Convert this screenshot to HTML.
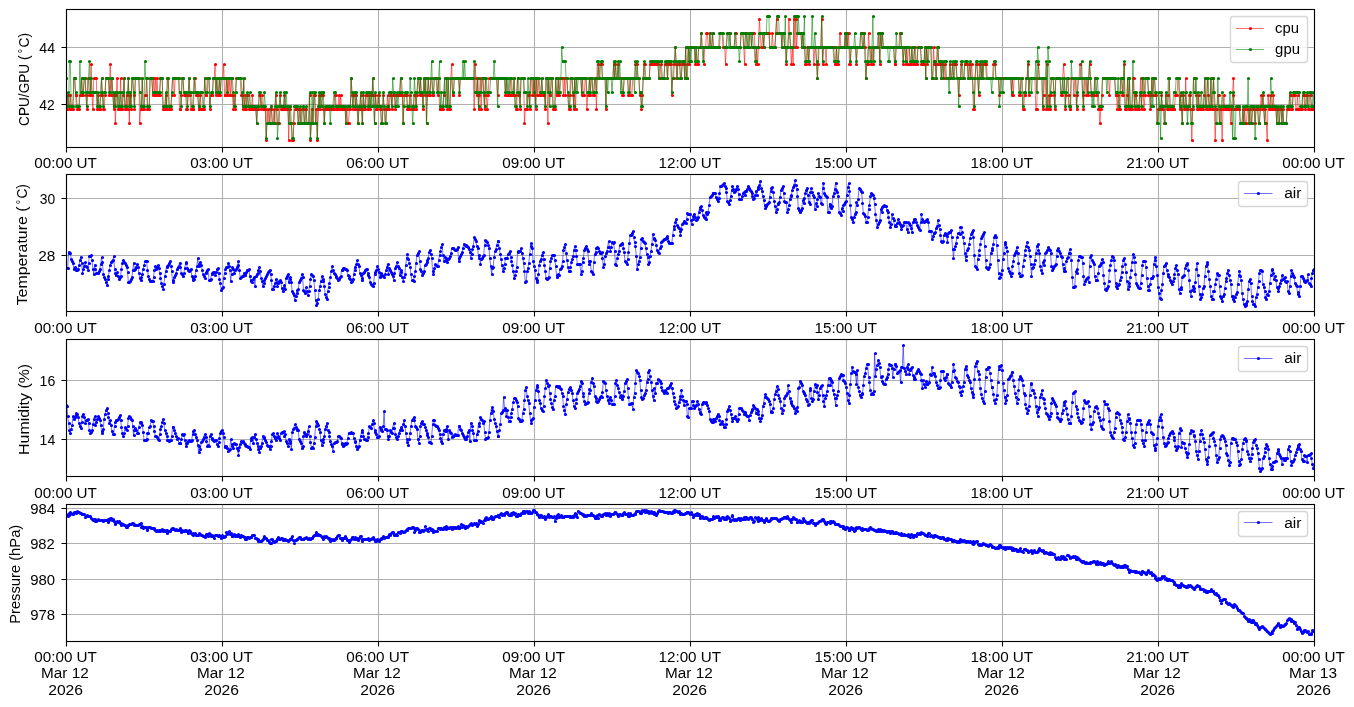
<!DOCTYPE html>
<html lang="en"><head><meta charset="utf-8"><title>Environment log 2026-03-12</title>
<style>html,body{margin:0;padding:0;background:#fff}body{width:1354px;height:707px;overflow:hidden}svg{display:block}text{font-family:"Liberation Sans",sans-serif;font-size:14.75px;fill:#000}</style></head><body>
<svg width="1354" height="707" viewBox="0 0 1354 707">
<rect width="1354" height="707" fill="#fff"/>
<defs>
<clipPath id="c0"><rect x="66" y="9.45" width="1248" height="138.1"/></clipPath>
<clipPath id="c1"><rect x="66" y="174.45" width="1248" height="137.1"/></clipPath>
<clipPath id="c2"><rect x="66" y="339.45" width="1248" height="137.1"/></clipPath>
<clipPath id="c3"><rect x="66" y="504.45" width="1248" height="137.1"/></clipPath>
</defs>
<g id="panel0">
<path d="M66.5 9.5V147.5M222.5 9.5V147.5M378.5 9.5V147.5M534.5 9.5V147.5M690.5 9.5V147.5M846.5 9.5V147.5M1002.5 9.5V147.5M1158.5 9.5V147.5M1314.5 9.5V147.5M66.5 47.5H1314.5M66.5 104.5H1314.5" stroke="#b0b0b0" stroke-width="1.11" fill="none"/>
<g clip-path="url(#c0)">
<path d="M66 78.1l.9 31.2l.8-14.2l.9 0l.9 14.2l.8-14.2l.9 14.2l.9 0l.8 0l.9-31.2l.9 0l.8 17l.9 0l.9 14.2l.8 0l.9 0l.9-14.2l.8 0l.9-17l.9 17l.8 0l.9-17l.9 0l.8 17l.9 14.2l.9-31.2l.8 0l.9 17l.9 0l.8-31.2l.9 31.2l.9 14.2l.8-31.2l.9 0l.9 0l.8 0l.9 31.2l.9-14.2l.8 14.2l.9 0l.9-14.2l.8-17l.9 17l.9 14.2l.8 0l.9-14.2l.9-17l.8 0l.9 0l.9 0l.8 17l.9-31.2l.9 31.2l.8-17l.9 17l.9 14.2l.8-14.2l.9 28.4l.9-28.4l.8-17l.9 31.2l.9 0l.8 0l.9-31.2l.9 31.2l.8 0l.9-14.2l.9-17l.8 31.2l.9 0l.9-14.2l.8 14.2l.9-31.2l.9 45.4l.8-28.4l.9 14.2l.9-31.2l.8 0l.9 17l.9 14.2l.8-31.2l.9 0l.9 0l.8 0l.9 0l.9 45.4l.8-14.2l.9 0l.9-31.2l.8 31.2l.9 0l.9-14.2l.8 0l.9-17l.9 31.2l.8 0l.9 0l.9-31.2l.8 0l.9 0l.9 17l.8-17l.9 17l.9-17l.8 17l.9-17l.9 17l.8 0l.9 0l.9-17l.8 0l.9 0l.9 31.2l.8 0l.9 0l.9-14.2l.8 14.2l.9-31.2l.9 0l.8 31.2l.9 0l.9 0l.8-14.2l.9-17l.9 0l.8 17l.9-17l.9 0l.8 0l.9 0l.9 0l.8 31.2l.9 0l.9-14.2l.8-17l.9 0l.9 17l.8 0l.9 0l.9 14.2l.8 0l.9-14.2l.9-17l.8 17l.9 14.2l.9 0l.8 0l.9 0l.9-31.2l.8 0l.9 17l.9 0l.8 0l.9 14.2l.9 0l.8-14.2l.9 14.2l.9 0l.8 0l.9 0l.9-31.2l.8 17l.9 0l.9-17l.8 0l.9 0l.9 31.2l.8-14.2l.9 0l.9 0l.8-17l.9 0l.9-14.2l.8 31.2l.9-17l.9 17l.8 0l.9-17l.9 17l.8-17l.9 0l.9 0l.8-14.2l.9 31.2l.9 0l.8-17l.9 17l.9-17l.8 17l.9-17l.9 17l.8-17l.9 17l.9 14.2l.8-14.2l.9 14.2l.9-31.2l.8 0l.9 0l.9 0l.8 0l.9 0l.9 17l.8 0l.9 14.2l.9-31.2l.8 31.2l.9-14.2l.9 14.2l.8-14.2l.9 0l.9 14.2l.8 0l.9 0l.9 0l.8-14.2l.9 14.2l.9 0l.8 0l.9 0l.9 14.2l.8-14.2l.9 0l.9-14.2l.8 0l.9 14.2l.9-14.2l.8 14.2l.9 0l.9 0l.8 0l.9 31.2l.9-31.2l.8 14.2l.9-14.2l.9 14.2l.8-14.2l.9 0l.9 14.2l.8 0l.9-14.2l.9 14.2l.8-28.4l.9 14.2l.9 14.2l.8 0l.9 0l.9-28.4l.8 14.2l.9 0l.9 0l.8 0l.9-14.2l.9 14.2l.8 0l.9 0l.9 0l.8 31.2l.9-31.2l.9 14.2l.8 0l.9 17l.9 0l.8-17l.9-14.2l.9 0l.8 0l.9 0l.9 14.2l.8-14.2l.9 0l.9 14.2l.8-14.2l.9 0l.9 0l.8 14.2l.9-14.2l.9 0l.8 14.2l.9 0l.9 0l.8-28.4l.9 45.4l.9-17l.8-14.2l.9 14.2l.9-28.4l.8 0l.9 28.4l.9-14.2l.8 31.2l.9-31.2l.9-14.2l.8 14.2l.9-14.2l.9 0l.8 0l.9 14.2l.9 14.2l.8-14.2l.9 0l.9 0l.8 0l.9 0l.9 0l.8 0l.9 0l.9 0l.8 0l.9 0l.9-14.2l.8 0l.9 14.2l.9 0l.8 0l.9-14.2l.9 14.2l.8-14.2l.9 14.2l.9 0l.8 0l.9 0l.9 0l.8 14.2l.9-14.2l.9 14.2l.8 0l.9-14.2l.9 0l.8-31.2l.9 17l.9 14.2l.8-14.2l.9 0l.9 14.2l.8-14.2l.9 14.2l.9 14.2l.8-14.2l.9 0l.9-14.2l.8 14.2l.9 14.2l.9-28.4l.8 14.2l.9 0l.9-14.2l.8 0l.9 14.2l.9 0l.8-14.2l.9 14.2l.9-14.2l.8 0l.9-17l.9 17l.8 28.4l.9-28.4l.9 14.2l.8 0l.9-14.2l.9 0l.8 14.2l.9 0l.9 14.2l.8 0l.9-28.4l.9 14.2l.8 0l.9 14.2l.9-14.2l.8-14.2l.9 14.2l.9 0l.8-14.2l.9 0l.9 14.2l.8-14.2l.9 0l.9 0l.8 14.2l.9-14.2l.9 0l.8 0l.9 0l.9 0l.8-17l.9 17l.9 0l.8 28.4l.9-28.4l.9 0l.8 0l.9 0l.9 14.2l.8 0l.9 0l.9-14.2l.8 14.2l.9 0l.9 0l.8 0l.9-14.2l.9 0l.8 14.2l.9-14.2l.9-17l.8 0l.9 17l.9-17l.8 17l.9 0l.9 14.2l.8-31.2l.9 17l.9-17l.8 45.4l.9-28.4l.9-17l.8 17l.9 0l.9-17l.8 0l.9 17l.9 0l.8-17l.9 0l.9 0l.8 0l.9 17l.9-17l.8 31.2l.9 0l.9 0l.8 0l.9 0l.9-14.2l.8-17l.9 0l.9 0l.8 31.2l.9-31.2l.9 31.2l.8 0l.9-31.2l.9-14.2l.8 31.2l.9 0l.9-17l.8 0l.9 0l.9 0l.8 0l.9 0l.9 17l.8-17l.9 0l.9 0l.8 0l.9 0l.9 0l.8 0l.9 0l.9 0l.8 0l.9 0l.9 0l.8 0l.9 0l.9 0l.8 0l.9 31.2l.9-45.4l.8 14.2l.9 17l.9-17l.8 31.2l.9-14.2l.9-17l.8 31.2l.9-31.2l.9 0l.8 17l.9 14.2l.9-31.2l.8 17l.9 14.2l.9-14.2l.8-17l.9 0l.9 0l.8 0l.9 0l.9 0l.8 0l.9 0l.9 0l.8 0l.9 17l.9-17l.8 0l.9 0l.9 0l.8 0l.9 0l.9 0l.8 0l.9 17l.9-17l.8 17l.9 0l.9 0l.8 0l.9-17l.9 17l.8 0l.9 0l.9-17l.8 17l.9 14.2l.9 0l.8-31.2l.9 17l.9 0l.8 14.2l.9-31.2l.9 0l.8 0l.9 0l.9 45.4l.8-14.2l.9 0l.9 0l.8-14.2l.9 0l.9 14.2l.8-31.2l.9 0l.9 17l.8-17l.9 17l.9-17l.8 31.2l.9-31.2l.9 17l.8-17l.9 17l.9 0l.8 0l.9-17l.9 17l.8 0l.9 0l.9 14.2l.8-31.2l.9 0l.9 45.4l.8-45.4l.9 17l.9 0l.8-17l.9 0l.9 31.2l.8 0l.9 0l.9-31.2l.8 17l.9 0l.9-17l.8 17l.9-17l.9 0l.8 0l.9 0l.9 17l.8-17l.9 17l.9-17l.8 0l.9 17l.9 14.2l.8 0l.9-14.2l.9-17l.8 0l.9 17l.9 14.2l.8-31.2l.9 31.2l.9-31.2l.8 0l.9 0l.9 0l.8 0l.9 0l.9 17l.8-17l.9 17l.9 0l.8-17l.9 0l.9 31.2l.8-14.2l.9 0l.9-17l.8 17l.9-17l.9 0l.8 17l.9 0l.9-17l.8 0l.9 31.2l.9-31.2l.8-14.2l.9 14.2l.9-14.2l.8 0l.9 0l.9 14.2l.8 0l.9 0l.9 0l.8 31.2l.9-31.2l.9 0l.8 0l.9 0l.9 0l.8 0l.9 0l.9 0l.8-14.2l.9 14.2l.9-14.2l.8 14.2l.9 0l.9-14.2l.8 14.2l.9 0l.9 0l.8 0l.9 17l.9 0l.8-17l.9 0l.9 0l.8 0l.9 0l.9 17l.8 0l.9-17l.9 17l.8 0l.9-17l.9 0l.8 0l.9-14.2l.9 0l.8 0l.9 14.2l.9 0l.8 17l.9 0l.9 14.2l.8-14.2l.9-17l.9-14.2l.8 0l.9 14.2l.9 0l.8 0l.9 0l.9 0l.8-14.2l.9 0l.9 0l.8 0l.9 0l.9 0l.8 0l.9 0l.9 0l.8 0l.9 14.2l.9 0l.8-14.2l.9 14.2l.9 0l.8 0l.9 0l.9-14.2l.8 0l.9 0l.9 14.2l.8-14.2l.9 0l.9 0l.8 0l.9 31.2l.9-17l.8 0l.9-14.2l.9-17l.8 17l.9 14.2l.9-14.2l.8 0l.9 0l.9 14.2l.8 0l.9-14.2l.9 0l.8 0l.9 14.2l.9-31.2l.8 31.2l.9-14.2l.9-17l.8 17l.9-17l.9 0l.8 0l.9 0l.9 0l.8 0l.9 17l.9-17l.8 17l.9 0l.9-17l.8 0l.9 0l.9-14.2l.8 14.2l.9 0l.9 17l.8-17l.9 0l.9-14.2l.8 0l.9 14.2l.9 0l.8-14.2l.9 14.2l.9 0l.8-14.2l.9 14.2l.9 0l.8 0l.9 0l.9 0l.8 0l.9 0l.9 0l.8-14.2l.9 0l.9 0l.8 14.2l.9 0l.9 0l.8 17l.9-17l.9-14.2l.8 0l.9 0l.9 0l.8 14.2l.9 0l.9 0l.8 0l.9 0l.9-14.2l.8 0l.9 14.2l.9 0l.8 0l.9 0l.9 0l.8-14.2l.9 0l.9 0l.8 14.2l.9 17l.9-31.2l.8 0l.9 14.2l.9 0l.8 0l.9-14.2l.9 0l.8 14.2l.9-14.2l.9 0l.8 0l.9 14.2l.9 17l.8-17l.9 17l.9-17l.8-28.4l.9 14.2l.9 14.2l.8 0l.9-14.2l.9 14.2l.8-14.2l.9 0l.9 0l.8 0l.9 0l.9 0l.8 14.2l.9 0l.9 0l.8-14.2l.9 14.2l.9 0l.8 0l.9-14.2l.9-14.2l.8 14.2l.9 0l.9 0l.8 0l.9 0l.9 14.2l.8-14.2l.9 0l.9 14.2l.8 0l.9 17l.9-17l.8 0l.9-28.4l.9 14.2l.8 14.2l.9 17l.9-17l.8 17l.9-45.4l.9 28.4l.8-28.4l.9 28.4l.9-14.2l.8 0l.9 0l.9 0l.8 0l.9 14.2l.9-14.2l.8 14.2l.9 0l.9 17l.8 0l.9-17l.9 0l.8 17l.9-17l.9 0l.8 0l.9 0l.9 0l.8 17l.9-17l.9 0l.8 17l.9 14.2l.9-14.2l.8-17l.9 0l.9 0l.8-28.4l.9 45.4l.9-17l.8 0l.9 0l.9 17l.8-17l.9 0l.9 0l.8 0l.9 0l.9 0l.8 0l.9 0l.9 0l.8 17l.9 0l.9-17l.8 17l.9 0l.9-17l.8-14.2l.9 14.2l.9 0l.8 0l.9 0l.9 0l.8-14.2l.9 14.2l.9-14.2l.8 14.2l.9-14.2l.9 31.2l.8 0l.9-17l.9 0l.8 0l.9 0l.9 0l.8 0l.9 17l.9-17l.8 0l.9 0l.9 0l.8-14.2l.9 0l.9 14.2l.8 0l.9-14.2l.9 14.2l.8 31.2l.9-14.2l.9 0l.8-31.2l.9 14.2l.9 0l.8 17l.9-17l.9 17l.8-17l.9 0l.9 0l.8 0l.9 0l.9 0l.8-14.2l.9 31.2l.9-31.2l.8 14.2l.9-14.2l.9 14.2l.8 0l.9 0l.9 0l.8 0l.9 0l.9 0l.8 0l.9 0l.9 0l.8 0l.9 0l.9 0l.8 17l.9 0l.9-17l.8 0l.9 0l.9 0l.8-14.2l.9 0l.9 14.2l.8 0l.9 17l.9-17l.8 0l.9 17l.9-17l.8 17l.9-17l.9 0l.8 17l.9 0l.9-17l.8 17l.9 0l.9-17l.8 0l.9 17l.9 0l.8-17l.9 0l.9 0l.8 0l.9 17l.9 0l.8 0l.9 0l.9-17l.8 31.2l.9-31.2l.9 17l.8-17l.9 0l.9 0l.8 0l.9 31.2l.9 0l.8-31.2l.9 17l.9 0l.8 14.2l.9-14.2l.9-17l.8 17l.9 0l.9 0l.8 14.2l.9-14.2l.9 0l.8 14.2l.9-14.2l.9 14.2l.8 0l.9 0l.9 0l.8 0l.9-14.2l.9 14.2l.8 0l.9-14.2l.9 14.2l.8-14.2l.9 0l.9 0l.8 14.2l.9 0l.9 17l.8-17l.9 0l.9-14.2l.8 14.2l.9 0l.9 0l.8-14.2l.9 0l.9 0l.8 0l.9 14.2l.9-14.2l.8 0l.9 14.2l.9-14.2l.8 14.2l.9 31.2l.9 0l.8-31.2l.9-14.2l.9 0l.8 14.2l.9 17l.9-31.2l.8 0l.9 14.2l.9-14.2l.8 14.2l.9-14.2l.9 0l.8 0l.9 0l.9 14.2l.8 0l.9 0l.9 0l.8 0l.9 0l.9 0l.8-14.2l.9 0l.9 0l.8 14.2l.9 0l.9 0l.8 0l.9 17l.9-17l.8 0l.9 0l.9 0l.8 0l.9 0l.9 0l.8 0l.9 0l.9 0l.8 0l.9 0l.9 0l.8 17l.9-17l.9 17l.8-17l.9 0l.9 0l.8 0l.9 0l.9 0l.8 17l.9 0l.9-17l.8 0l.9 31.2l.9 0l.8-14.2l.9 0l.9-17l.8 0l.9-14.2l.9 31.2l.8-17l.9 0l.9 0l.8 0l.9 0l.9 0l.8 0l.9 31.2l.9 0l.8-31.2l.9-14.2l.9 14.2l.8 0l.9 0l.9 0l.8 31.2l.9-14.2l.9-17l.8 0l.9 31.2l.9-45.4l.8 45.4l.9-14.2l.9 14.2l.8-14.2l.9-17l.9 0l.8 0l.9 17l.9 14.2l.8-31.2l.9 0l.9 0l.8 0l.9 0l.9 0l.8 17l.9 0l.9-17l.8-14.2l.9 14.2l.9 31.2l.8-14.2l.9-17l.9 0l.8 17l.9 14.2l.9 0l.8-31.2l.9 0l.9 0l.8 17l.9-17l.9 0l.8 31.2l.9-14.2l.9-17l.8 0l.9-14.2l.9 14.2l.8 0l.9 17l.9 14.2l.8-31.2l.9 0l.9 17l.8-17l.9 17l.9-17l.8-14.2l.9 14.2l.9 17l.8 0l.9 0l.9 0l.8-17l.9 0l.9 17l.8 0l.9 14.2l.9 0l.8 14.2l.9-14.2l.9-14.2l.8-17l.9 0l.9 0l.8 0l.9 0l.9 0l.8 0l.9 0l.9 17l.8-17l.9 0l.9 0l.8 0l.9 0l.9 0l.8 17l.9 0l.9 14.2l.8-14.2l.9 14.2l.9 0l.8-31.2l.9 0l.9 17l.8 0l.9-31.2l.9 45.4l.8 0l.9-14.2l.9-17l.8 31.2l.9-31.2l.9 31.2l.8 0l.9 0l.9-31.2l.8 0l.9 31.2l.9-14.2l.8 0l.9 14.2l.9 0l.8 0l.9-14.2l.9-17l.8 31.2l.9-31.2l.9 17l.8 14.2l.9-14.2l.9-17l.8 0l.9 0l.9 17l.8 0l.9 14.2l.9-14.2l.8-17l.9 17l.9-17l.8 0l.9 17l.9 0l.8 28.4l.9-14.2l.9 0l.8 0l.9 0l.9-14.2l.8 14.2l.9 0l.9 14.2l.8 0l.9-28.4l.9 14.2l.8 0l.9-14.2l.9-17l.8 31.2l.9 0l.9 0l.8 0l.9 0l.9 0l.8-14.2l.9 0l.9 0l.8-17l.9 0l.9 31.2l.8-14.2l.9 14.2l.9 14.2l.8-28.4l.9 14.2l.9 0l.8-31.2l.9 31.2l.9 0l.8 0l.9-14.2l.9 0l.8 14.2l.9 31.2l.9-31.2l.8-31.2l.9 0l.9 0l.8 17l.9 14.2l.9 0l.8-14.2l.9 14.2l.9 0l.8 0l.9 0l.9 0l.8-14.2l.9-17l.9 31.2l.8 0l.9-31.2l.9 17l.8 14.2l.9 0l.9-31.2l.8 31.2l.9 0l.9-31.2l.8 31.2l.9 31.2l.9-31.2l.8 0l.9-14.2l.9 0l.8 28.4l.9-14.2l.9 0l.8 31.2l.9-31.2l.9-14.2l.8 14.2l.9 0l.9 0l.8 0l.9 0l.9 0l.8 0l.9 14.2l.9-14.2l.8-14.2l.9-17l.9 31.2l.8 0l.9 0l.9 0l.8 0l.9 0l.9 0l.8 14.2l.9 0l.9 0l.8-14.2l.9 14.2l.9-14.2l.8 14.2l.9 0l.9-14.2l.8 0l.9 14.2l.9-14.2l.8 14.2l.9 0l.9-14.2l.8 0l.9 0l.9 14.2l.8-14.2l.9 0l.9 0l.8 14.2l.9 0l.9-14.2l.8-14.2l.9 14.2l.9-14.2l.8 14.2l.9 14.2l.9-14.2l.8 14.2l.9 17l.9-45.4l.8 14.2l.9 0l.9-14.2l.8 14.2l.9 0l.9-14.2l.8 14.2l.9 0l.9 0l.8 14.2l.9-14.2l.9 0l.8 14.2l.9-14.2l.9 0l.8 14.2l.9-14.2l.9 14.2l.8 0l.9 0l.9 0l.8-14.2l.9 0l.9 0l.8-14.2l.9 0l.9 14.2l.8 0l.9-14.2l.9 0l.8 0l.9 14.2l.9 0l.8-14.2l.9 14.2l.9 0l.8 0l.9 0l.9 0l.8-14.2l.9 0l.9 0l.8 14.2l.9-14.2l.9 0l.8 14.2l.9 0l.9-14.2l.8 0l.9 14.2l.9 0l.8 0l.9 0" fill="none" stroke="#f00" stroke-width=".56" stroke-linejoin="round"/>
<path d="M66.5 78.5h0m3 31h0m4 0h0m3-14h0m4 0h0m3 0h0m4 14h0m3-14h0m4-17h0m3 31h0m4-14h0m3 14h0m4-31h0m3 17h0m4 0h0m3 14h0m3 0h0m4 0h0m3-31h0m4 0h0m3 0h0m4 0h0m3 0h0m4 17h0m3 14h0m4-14h0m3 0h0m4 0h0m3 14h0m4 0h0m3 0h0m3-31h0m4 0h0m3 31h0m4-14h0m3 14h0m4 0h0m3-31h0m4 17h0m3 14h0m4-31h0m3 0h0m4 17h0m3-31h0m4 31h0m3-17h0m3 17h0m4 0h0m3 0h0m4-17h0m3 0h0m4 31h0m3 0h0m4 0h0m3 0h0m4 14h0m3-28h0m4 14h0m3 0h0m4 0h0m3 0h0m3 14h0m4-14h0m3-14h0m4 14h0m3 14h0m4-14h0m3 14h0m4-14h0m3 0h0m4 14h0m3-14h0m4 14h0m3-28h0m4 0h0m3 14h0m3 0h0m4 0h0m3 0h0m4 0h0m3 0h0m4 0h0m3 0h0m4-14h0m3 14h0m4-14h0m3 14h0m4 0h0m3-14h0m4 28h0m3-28h0m3 28h0m4-14h0m3 0h0m4 0h0m3 0h0m4-14h0m3 0h0m4 0h0m3 14h0m4 0h0m3 0h0m4-14h0m3 14h0m4 14h0m3-28h0m3 0h0m4-17h0m3 31h0m4-14h0m3 14h0m4-31h0m3 0h0m4 0h0m3 0h0m4 0h0m3 0h0m4 0h0m3-14h0m4 45h0m3-31h0m3 0h0m4 0h0m3 0h0m4 0h0m3 0h0m4 0h0m3 0h0m4 17h0m3 0h0m4 14h0m3 0h0m4-31h0m3 31h0m4-31h0m3 17h0m3 0h0m4 0h0m3 0h0m4 28h0m3-45h0m4 31h0m3-31h0m4 0h0m3 17h0m4 14h0m3-31h0m4 31h0m3-31h0m4 0h0m3 0h0m3 0h0m4 17h0m3 14h0m4-45h0m3 14h0m4 0h0m3 0h0m4-14h0m3 14h0m4 0h0m3 0h0m4 0h0m3 17h0m4-17h0m3 0h0m3 31h0m4-45h0m3 14h0m4-14h0m3 0h0m4 14h0m3 0h0m4-14h0m3 0h0m4 14h0m3-14h0m4 0h0m3 0h0m4 14h0m3-31h0m3 0h0m4 17h0m3-17h0m4 17h0m3-31h0m4 14h0m3 0h0m4 0h0m3-14h0m4 14h0m3-14h0m4 14h0m3-14h0m4 14h0m3-14h0m3 0h0m4 14h0m3-14h0m4 31h0m3-45h0m4 14h0m3 0h0m4 14h0m3 0h0m4-28h0m3 14h0m4 0h0m3 14h0m4 0h0m3-28h0m3 14h0m4 0h0m3 14h0m4 0h0m3 0h0m4 0h0m3 17h0m4-45h0m3 28h0m4 0h0m3 0h0m4 17h0m3-17h0m4 0h0m3 0h0m3 17h0m4-17h0m3 17h0m4-17h0m3 0h0m4 17h0m3-17h0m4 0h0m3 0h0m4-14h0m3 14h0m4 0h0m3 0h0m4 17h0m3-17h0m3 0h0m4 0h0m3 0h0m4 0h0m3 0h0m4 0h0m3 17h0m4 14h0m3-31h0m4 31h0m3 0h0m4-14h0m3 0h0m4 14h0m3-14h0m3 14h0m4 0h0m3 0h0m4 0h0m3-14h0m4 14h0m3 31h0m4-31h0m3 0h0m4-14h0m3 14h0m4 0h0m3-14h0m4 14h0m3 0h0m3 0h0m4 0h0m3 0h0m4 0h0m3 17h0m4 14h0m3-31h0m4 0h0m3 0h0m4 31h0m3-31h0m4 17h0m3-31h0m4 31h0m3 0h0m3-17h0m4 17h0m3-17h0m4 0h0m3 0h0m4 0h0m3 0h0m4 0h0m3 0h0m4 0h0m3 17h0m4-17h0m3 31h0m4-31h0m3 0h0m3 17h0m4-17h0m3 17h0m4 14h0m3-14h0m4 0h0m3 14h0m4-31h0m3 31h0m4-31h0m3 31h0m4-31h0m3 17h0m4-17h0m3 31h0m3-14h0m4 28h0m3-28h0m4 14h0m3-14h0m4-17h0m3 45h0m4-45h0m3 17h0m4 14h0m3-14h0m4 14h0m3 0h0m4 0h0m3 0h0m3-31h0m4 31h0m3 0h0m4-14h0m3 14h0m4 14h0m3-14h0m4 0h0m3 14h0m4-14h0m3 0h0m4 14h0m3 0h0m4 0h0m3-14h0m3 0h0m4 0h0m3 0h0m4 0h0m3 14h0m4-14h0m3 14h0m4-28h0m3 0h0m4 14h0m3 0h0m4-14h0m3 0h0m4 0h0m3 14h0" fill="none" stroke="#f00" stroke-width="3.24" stroke-linecap="round"/>
<path d="M67.5 109.5h0m3-14h0m4-17h0m3 31h0m4-14h0m3-17h0m4 0h0m3-14h0m4 14h0m3 17h0m4-17h0m3 17h0m3-17h0m4 0h0m3 45h0m4-14h0m3 0h0m4 0h0m3 14h0m4-45h0m3 0h0m4 45h0m3-14h0m4-31h0m3 0h0m4 0h0m3 0h0m3 0h0m4 31h0m3-31h0m4 31h0m3-14h0m4-17h0m3 17h0m4 0h0m3 0h0m4 14h0m3-31h0m4 31h0m3 0h0m4-14h0m3-17h0m3 17h0m4 0h0m3-17h0m4 0h0m3 0h0m4 0h0m3 31h0m4-31h0m3 0h0m4 0h0m3 17h0m4 14h0m3 0h0m4 0h0m3 0h0m3 0h0m4 14h0m3-14h0m4 14h0m3 0h0m4-14h0m3 0h0m4 31h0m3 0h0m4-31h0m3 0h0m4 0h0m3 0h0m4-14h0m3 28h0m3-14h0m4 0h0m3 0h0m4 0h0m3 0h0m4 0h0m3 0h0m4-14h0m3 14h0m4 14h0m3-45h0m4 17h0m3 28h0m4-14h0m3 0h0m3 0h0m4-14h0m3 0h0m4 0h0m3 28h0m4 0h0m3-14h0m4-14h0m3 0h0m4 0h0m3 28h0m4-28h0m3 0h0m4 14h0m3-14h0m3-17h0m4 0h0m3 17h0m4-17h0m3 0h0m4 17h0m3 14h0m4-31h0m3 0h0m4-14h0m3 14h0m4 0h0m3 0h0m4 0h0m3 0h0m3 0h0m4 0h0m3 17h0m4-17h0m3 17h0m4-17h0m3 0h0m4 0h0m3 0h0m4 0h0m3 17h0m4-17h0m3 0h0m4 0h0m3 0h0m3 45h0m4-28h0m3-17h0m4 0h0m3 0h0m4 0h0m3 31h0m4-31h0m3 0h0m4 0h0m3 17h0m4-17h0m3 0h0m4 31h0m3-14h0m3-17h0m4 0h0m3 17h0m4 14h0m3-14h0m4 0h0m3-17h0m4-14h0m3 14h0m4 0h0m3 0h0m4 0h0m3-14h0m4 14h0m3 0h0m3 17h0m4 0h0m3-31h0m4 14h0m3 17h0m4-17h0m3 0h0m4-14h0m3 0h0m4 14h0m3 0h0m4-14h0m3 0h0m4 14h0m3 0h0m3 0h0m4-14h0m3 0h0m4-17h0m3 0h0m4 17h0m3-31h0m4 14h0m3 0h0m4 0h0m3 0h0m4 0h0m3-14h0m4 31h0m3-31h0m3 14h0m4-14h0m3 14h0m4-14h0m3 0h0m4 0h0m3 0h0m4 14h0m3-14h0m4 14h0m3-14h0m4 14h0m3 0h0m4-14h0m3 0h0m3 14h0m4 0h0m3 17h0m4-17h0m3-14h0m4 14h0m3 17h0m4 0h0m3-17h0m4 0h0m3 0h0m4 17h0m3 0h0m4-17h0m3 0h0m3 0h0m4-14h0m3 14h0m4-14h0m3 31h0m4-17h0m3 0h0m4-14h0m3 0h0m4 31h0m3 0h0m4-17h0m3 0h0m4 0h0m3 0h0m3 0h0m4 0h0m3 17h0m4-17h0m3 0h0m4 17h0m3-17h0m4 17h0m3 0h0m4-17h0m3 17h0m4-17h0m3 0h0m4 0h0m3 17h0m3 0h0m4 14h0m3 0h0m4 0h0m3-14h0m4 14h0m3-14h0m4 0h0m3 14h0m4-14h0m3 14h0m4 17h0m3-31h0m4 0h0m3 14h0m3 0h0m4 0h0m3 17h0m4-17h0m3 0h0m4 0h0m3 17h0m4-17h0m3 17h0m4 14h0m3-31h0m4 0h0m3 0h0m4 0h0m3 0h0m3 0h0m4 31h0m3-31h0m4 31h0m3-31h0m4 17h0m3 14h0m4-14h0m3-17h0m4 0h0m3 0h0m4 17h0m3 0h0m4-31h0m3 31h0m3 0h0m4 28h0m3-45h0m4 0h0m3 0h0m4 0h0m3 31h0m4-31h0m3-14h0m4 14h0m3 31h0m4 0h0m3 0h0m4 0h0m3-14h0m3 0h0m4-17h0m3 17h0m4 14h0m3 0h0m4-14h0m3-17h0m4 31h0m3-14h0m4 14h0m3-14h0m4 14h0m3-14h0m4-17h0m3 31h0m3 0h0m4-14h0m3-17h0m4 0h0m3 31h0m4-14h0m3 14h0m4 0h0m3 0h0m4 0h0m3 0h0m4 0h0m3 14h0m4 0h0m3 0h0m3-14h0m4 0h0m3 14h0m4-28h0m3 28h0m4-14h0m3-14h0m4 28h0m3-14h0m4 14h0m3-14h0m4-14h0m3 0h0m4 0h0m3 14h0m3-14h0m4 14h0m3 0h0" fill="none" stroke="#f00" stroke-width="3.24" stroke-linecap="round"/>
<path d="M68.5 95.5h0m3 14h0m4-31h0m3 31h0m4-31h0m3 0h0m4 0h0m3 17h0m3-17h0m4 31h0m3-14h0m4-17h0m3 17h0m4 0h0m3 0h0m4 14h0m3-14h0m4 0h0m3 0h0m4 0h0m3-17h0m4 31h0m3 0h0m3 0h0m4-31h0m3 17h0m4 0h0m3-17h0m4 31h0m3-31h0m4 17h0m3-17h0m4 0h0m3 0h0m4 17h0m3-17h0m4 31h0m3-14h0m3 14h0m4 0h0m3-14h0m4 14h0m3-31h0m4 0h0m3 17h0m4-31h0m3 31h0m4 0h0m3 0h0m4-17h0m3 17h0m4 14h0m3-14h0m3 14h0m4 0h0m3 0h0m4-14h0m3 14h0m4 0h0m3 14h0m4-28h0m3 28h0m4-14h0m3 0h0m4 0h0m3 31h0m4-31h0m3 0h0m3 0h0m4 14h0m3 17h0m4-45h0m3 45h0m4-45h0m3 28h0m4-14h0m3 0h0m4-14h0m3 14h0m4 0h0m3 0h0m4 14h0m3-28h0m3 14h0m4 0h0m3 14h0m4-28h0m3 0h0m4-17h0m3 31h0m4 0h0m3-14h0m4 14h0m3-14h0m4 0h0m3 0h0m4-17h0m3 17h0m3 14h0m4 0h0m3-14h0m4-17h0m3 17h0m4 0h0m3-17h0m4 0h0m3 0h0m4 0h0m3 31h0m4-31h0m3 31h0m4-14h0m3-17h0m3 17h0m4-17h0m3 0h0m4 0h0m3 0h0m4 17h0m3-17h0m4 17h0m3 14h0m4-31h0m3 0h0m4 17h0m3-17h0m4 0h0m3 17h0m3 0h0m4 0h0m3 0h0m4-17h0m3 31h0m4-14h0m3 0h0m4 14h0m3-14h0m4 0h0m3-17h0m4 17h0m3 14h0m4-14h0m3-17h0m3 17h0m4-17h0m3 17h0m4 14h0m3-31h0m4 0h0m3 17h0m4 0h0m3-17h0m4 0h0m3-14h0m4 0h0m3 14h0m4 0h0m3 0h0m3-14h0m4 14h0m3 17h0m4-17h0m3 17h0m4-17h0m3-14h0m4 31h0m3-17h0m4 0h0m3-14h0m4 0h0m3 0h0m4 0h0m3 14h0m3 0h0m4-14h0m3 0h0m4 0h0m3 14h0m4 0h0m3-31h0m4 0h0m3 17h0m4-17h0m3 0h0m4 0h0m3 0h0m4-14h0m3 14h0m3 0h0m4 0h0m3 0h0m4-14h0m3 14h0m4 0h0m3 0h0m4 0h0m3 0h0m4-14h0m3 0h0m4 31h0m3-17h0m4-14h0m3 0h0m3 14h0m4 0h0m3-14h0m4 14h0m3 0h0m4-28h0m3 28h0m4-28h0m3 14h0m4 0h0m3 31h0m4-17h0m3 0h0m4 17h0m3-17h0m3 0h0m4 0h0m3 0h0m4 0h0m3 17h0m4-17h0m3 0h0m4 0h0m3 0h0m4 0h0m3 0h0m4-14h0m3 14h0m4-14h0m3 14h0m3 0h0m4-14h0m3 0h0m4 14h0m3 0h0m4 0h0m3 0h0m4-14h0m3 31h0m4-17h0m3 17h0m4 0h0m3 0h0m4-17h0m3 17h0m3 0h0m4-17h0m3 17h0m4-17h0m3 31h0m4-14h0m3 14h0m4 0h0m3-14h0m4 31h0m3-17h0m4-14h0m3 0h0m4 14h0m3-14h0m3 0h0m4 14h0m3-14h0m4 14h0m3-14h0m4 14h0m3 0h0m4 0h0m3 0h0m4 0h0m3 0h0m4 0h0m3 0h0m4 17h0m3-31h0m3 14h0m4 0h0m3-14h0m4 14h0m3 0h0m4 17h0m3-17h0m4 0h0m3 0h0m4 0h0m3 17h0m4 14h0m3-31h0m4 31h0m3-45h0m3 45h0m4-31h0m3 0h0m4 17h0m3 0h0m4 14h0m3-31h0m4 0h0m3 0h0m4 0h0m3 17h0m4-17h0m3 31h0m4 0h0m3 0h0m3-14h0m4 14h0m3-31h0m4 0h0m3 17h0m4 0h0m3 0h0m4 14h0m3 0h0m4 0h0m3 0h0m4 0h0m3-14h0m4 0h0m3 14h0m3 0h0m4 0h0m3-31h0m4 31h0m3 0h0m4-31h0m3 17h0m4 14h0m3 31h0m4-45h0m3 45h0m4-31h0m3 0h0m4-14h0m3 14h0m3 0h0m4 0h0m3 14h0m4-14h0m3 0h0m4 0h0m3 0h0m4 0h0m3 31h0m4-45h0m3 14h0m4 0h0m3 0h0m4 14h0m3-14h0m3 0h0m4-14h0m3 14h0m4 0h0m3 0h0m4 0h0m3 0h0" fill="none" stroke="#f00" stroke-width="3.24" stroke-linecap="round"/>
<path d="M69.5 95.5h0m3 14h0m4-14h0m3 14h0m3-14h0m4 0h0m3 0h0m4 14h0m3-31h0m4 31h0m3 0h0m4-31h0m3-14h0m4 45h0m3-31h0m4 0h0m3 0h0m4 31h0m3 0h0m3 0h0m4-31h0m3 31h0m4-14h0m3 14h0m4-31h0m3 0h0m4 17h0m3-17h0m4 17h0m3 14h0m4-31h0m3 0h0m4 31h0m3-31h0m3 31h0m4-14h0m3 14h0m4-14h0m3 0h0m4 14h0m3-31h0m4 17h0m3-17h0m4 17h0m3-17h0m4 17h0m3-17h0m4 0h0m3 31h0m3-31h0m4 17h0m3 0h0m4 14h0m3-14h0m4 14h0m3-14h0m4 14h0m3 31h0m4-17h0m3 0h0m4-14h0m3-14h0m4 14h0m3 0h0m3 14h0m4 0h0m3-14h0m4 14h0m3 0h0m4 0h0m3 0h0m4-28h0m3 14h0m4-14h0m3 14h0m4 0h0m3 0h0m4-14h0m3 0h0m3 14h0m4 14h0m3-14h0m4 0h0m3-14h0m4 14h0m3-14h0m4 0h0m3 14h0m4-14h0m3 14h0m4 0h0m3 0h0m4-14h0m3 0h0m3 0h0m4 0h0m3 0h0m4 0h0m3 14h0m4 0h0m3-14h0m4-17h0m3 17h0m4-17h0m3 17h0m4 0h0m3-17h0m4 31h0m3 0h0m3-31h0m4 31h0m3-14h0m4-17h0m3 0h0m4 0h0m3 0h0m4 0h0m3 31h0m4-31h0m3 31h0m4 0h0m3-14h0m4-17h0m3 0h0m3 0h0m4 0h0m3 17h0m4 0h0m3 0h0m4 14h0m3-14h0m4-17h0m3 31h0m4 0h0m3-31h0m4 0h0m3 17h0m4 0h0m3-17h0m3 17h0m4 14h0m3-14h0m4-17h0m3 0h0m4 17h0m3-17h0m4 0h0m3 0h0m4 17h0m3-17h0m4 17h0m3-17h0m4 0h0m3 0h0m3 0h0m4 31h0m3-31h0m4 0h0m3 0h0m4 0h0m3 17h0m4-17h0m3 0h0m4 0h0m3-14h0m4 31h0m3-31h0m4 14h0m3-14h0m3 0h0m4 0h0m3 14h0m4-14h0m3 0h0m4 31h0m3-48h0m4 17h0m3 0h0m4-17h0m3 17h0m4-17h0m3 0h0m4 0h0m3 0h0m3-14h0m4 0h0m3 14h0m4 0h0m3-14h0m4 14h0m3-14h0m4 14h0m3 0h0m4 0h0m3-14h0m4 31h0m3-17h0m4 0h0m3 0h0m3 0h0m4 0h0m3-14h0m4 0h0m3 0h0m4 0h0m3 0h0m4 0h0m3 31h0m4-31h0m3 31h0m4-17h0m3-14h0m4 14h0m3 0h0m3 0h0m4 17h0m3 14h0m4-31h0m3 0h0m4 0h0m3 0h0m4 17h0m3 0h0m4-17h0m3-14h0m4 0h0m3 14h0m4 0h0m3 0h0m3 0h0m4 31h0m3-31h0m4 17h0m3-17h0m4 17h0m3-17h0m4 0h0m3 0h0m4 0h0m3 0h0m4-14h0m3 14h0m4 17h0m3 0h0m3-17h0m4 0h0m3 17h0m4-17h0m3 0h0m4 31h0m3-14h0m4 0h0m3 0h0m4 14h0m3 0h0m4-14h0m3 0h0m4 14h0m3 0h0m3-14h0m4 0h0m3 45h0m4-45h0m3 0h0m4 0h0m3 14h0m4 0h0m3-14h0m4 14h0m3 0h0m4 0h0m3 0h0m4 17h0m3-17h0m3 0h0m4 0h0m3 17h0m4 0h0m3-17h0m4 31h0m3-31h0m4 31h0m3 0h0m4 0h0m3-31h0m4 0h0m3 0h0m4-14h0m3 14h0m3 31h0m4-14h0m3 0h0m4-17h0m3 0h0m4 17h0m3 0h0m4-17h0m3 31h0m4-14h0m3-17h0m4 0h0m3 0h0m4 17h0m3 14h0m3-14h0m4 14h0m3-31h0m4 0h0m3 17h0m4 0h0m3 0h0m4-17h0m3 31h0m4-31h0m3 45h0m4-14h0m3 14h0m4-14h0m3 0h0m3 0h0m4-31h0m3 31h0m4 0h0m3 0h0m4 31h0m3-62h0m4 17h0m3 14h0m4 0h0m3 0h0m4 0h0m3 0h0m4 14h0m3-14h0m3 0h0m4 0h0m3-31h0m4 31h0m3 14h0m4 0h0m3-14h0m4 14h0m3-14h0m4 0h0m3-14h0m4 28h0m3-28h0m4 14h0m3 0h0m3 0h0m4 14h0m3 0h0m4-14h0m3 0h0m4 0h0m3 0h0m4-14h0m3 0h0m4 0h0m3 14h0" fill="none" stroke="#f00" stroke-width="3.24" stroke-linecap="round"/>
<path d="M66 78.1l.9 28.3l.8-14.1l.9 14.1l.9-45.3l.8 0l.9 45.3l.9 0l.8 0l.9-28.3l.9 0l.8 14.2l.9 14.1l.9 0l.8 0l.9 0l.9-45.3l.8 31.2l.9-14.2l.9 14.2l.8 0l.9-14.2l.9 0l.8 14.2l.9 14.1l.9-14.1l.8-14.2l.9-17l.9 31.2l.8-14.2l.9 14.2l.9 0l.8 0l.9 0l.9 0l.8 0l.9 14.1l.9-14.1l.8 14.1l.9 0l.9-14.1l.8-14.2l.9 14.2l.9 14.1l.8-14.1l.9 0l.9-14.2l.8 0l.9 0l.9 0l.8 14.2l.9 0l.9-14.2l.8 0l.9 14.2l.9 14.1l.8-14.1l.9 14.1l.9-14.1l.8 0l.9 14.1l.9-14.1l.8 14.1l.9-14.1l.9 14.1l.8 0l.9-14.1l.9-14.2l.8 28.3l.9 0l.9-14.1l.8 0l.9-14.2l.9 28.3l.8-14.1l.9 14.1l.9-28.3l.8 0l.9 14.2l.9 14.1l.8-28.3l.9 0l.9 0l.8 0l.9 0l.9 14.2l.8 14.1l.9 0l.9-28.3l.8 28.3l.9 0l.9-45.3l.8 17l.9 0l.9 28.3l.8 0l.9 0l.9-28.3l.8 0l.9 0l.9 14.2l.8 0l.9 0l.9 0l.8 0l.9 0l.9 0l.8 0l.9 0l.9-14.2l.8 0l.9 0l.9 28.3l.8 0l.9 0l.9-14.1l.8 14.1l.9-28.3l.9 0l.8 28.3l.9 0l.9 0l.8-14.1l.9-14.2l.9 0l.8 0l.9 0l.9 0l.8 0l.9 0l.9 0l.8 14.2l.9 0l.9 14.1l.8-28.3l.9 0l.9 14.2l.8 0l.9 0l.9 0l.8 14.1l.9-14.1l.9-14.2l.8 14.2l.9 0l.9 14.1l.8 0l.9-14.1l.9-14.2l.8 14.2l.9 0l.9 0l.8 0l.9 14.1l.9 0l.8-14.1l.9 0l.9 0l.8 14.1l.9 0l.9-28.3l.8 14.2l.9 0l.9 0l.8-14.2l.9 0l.9 28.3l.8-14.1l.9 0l.9 0l.8-14.2l.9 0l.9 0l.8 14.2l.9-14.2l.9 14.2l.8 0l.9-14.2l.9 14.2l.8-14.2l.9 0l.9 0l.8 0l.9 0l.9 0l.8 0l.9 14.2l.9-14.2l.8 0l.9 0l.9 0l.8 0l.9 0l.9 14.2l.8 14.1l.9 0l.9-14.1l.8-14.2l.9 0l.9 0l.8 0l.9 0l.9 0l.8 14.2l.9 14.1l.9-28.3l.8 28.3l.9 0l.9 0l.8-14.1l.9 14.1l.9 0l.8-14.1l.9 14.1l.9 0l.8 0l.9 0l.9 0l.8 0l.9 0l.9 17.1l.8-17.1l.9 0l.9-14.1l.8 0l.9 14.1l.9 0l.8 0l.9 0l.9-14.1l.8 14.1l.9 31.2l.9-14.1l.8 0l.9 0l.9 0l.8-17.1l.9 0l.9 17.1l.8 0l.9 0l.9-17.1l.8-14.1l.9 14.1l.9 31.2l.8-14.1l.9-17.1l.9-14.1l.8 14.1l.9 0l.9 0l.8 0l.9-14.1l.9 14.1l.8-14.1l.9 14.1l.9 0l.8 17.1l.9-17.1l.9 0l.8 17.1l.9 14.1l.9 0l.8-31.2l.9 0l.9 0l.8 0l.9 0l.9 17.1l.8 0l.9-17.1l.9 17.1l.8 0l.9-17.1l.9 0l.8 17.1l.9 0l.9-17.1l.8 17.1l.9 0l.9 0l.8-31.2l.9 45.3l.9-14.1l.8-31.2l.9 31.2l.9-31.2l.8 0l.9 31.2l.9 0l.8 14.1l.9-31.2l.9-14.1l.8 14.1l.9-14.1l.9 14.1l.8-14.1l.9 0l.9 31.2l.8-17.1l.9 0l.9 0l.8 0l.9 0l.9 0l.8 17.1l.9-17.1l.9 0l.8 0l.9-14.1l.9 0l.8 14.1l.9 0l.9 0l.8 0l.9 0l.9 0l.8 0l.9 0l.9 0l.8 0l.9 0l.9 0l.8 17.1l.9-17.1l.9 0l.8 0l.9 0l.9 0l.8-28.3l.9 14.2l.9 14.1l.8-14.1l.9 0l.9 14.1l.8-14.1l.9 14.1l.9 17.1l.8-17.1l.9 0l.9-14.1l.8 14.1l.9 17.1l.9-31.2l.8 14.1l.9 0l.9-14.1l.8 0l.9 0l.9 14.1l.8-14.1l.9 14.1l.9-14.1l.8 14.1l.9-28.3l.9 28.3l.8 17.1l.9-31.2l.9 14.1l.8 0l.9 0l.9-14.1l.8 14.1l.9 0l.9 17.1l.8 0l.9-31.2l.9 14.1l.8 17.1l.9 0l.9-17.1l.8 0l.9 0l.9-14.1l.8 0l.9 0l.9 14.1l.8-28.3l.9 14.2l.9 0l.8 14.1l.9 0l.9-14.1l.8 14.1l.9-14.1l.9 0l.8-14.2l.9 0l.9 14.2l.8 31.2l.9-17.1l.9-14.1l.8 0l.9 0l.9 14.1l.8 0l.9 0l.9-28.3l.8 14.2l.9 14.1l.9 17.1l.8-17.1l.9-28.3l.9 14.2l.8 14.1l.9-14.1l.9-14.2l.8 0l.9 14.2l.9-14.2l.8 14.2l.9 0l.9 14.1l.8-28.3l.9 14.2l.9-14.2l.8 45.4l.9-31.2l.9-14.2l.8 14.2l.9 0l.9-14.2l.8-17l.9 31.2l.9 0l.8-14.2l.9 0l.9 0l.8 14.2l.9 0l.9-14.2l.8-17l.9 45.3l.9-14.1l.8 14.1l.9 0l.9-14.1l.8-14.2l.9 28.3l.9-28.3l.8 28.3l.9-28.3l.9 28.3l.8 0l.9-28.3l.9 0l.8 14.2l.9 0l.9-14.2l.8 0l.9 0l.9 0l.8 0l.9 0l.9 14.2l.8-14.2l.9 0l.9 0l.8-17l.9 17l.9-17l.8 17l.9 0l.9 0l.8 0l.9 0l.9 0l.8 0l.9 0l.9 0l.8 0l.9-17l.9 31.2l.8 0l.9 0l.9-14.2l.8 28.3l.9-14.1l.9 0l.8 0l.9-14.2l.9 0l.8 14.2l.9 14.1l.9-28.3l.8 0l.9 14.2l.9 0l.8 0l.9 0l.9-14.2l.8 0l.9 0l.9 0l.8-17l.9 17l.9 0l.8 0l.9 28.3l.9-28.3l.8 0l.9 0l.9 0l.8 0l.9 0l.9 0l.8 0l.9 14.2l.9-14.2l.8 14.2l.9-14.2l.9 14.2l.8-14.2l.9 0l.9 0l.8 14.2l.9 0l.9-14.2l.8 28.3l.9 0l.9-14.1l.8-14.2l.9 0l.9 14.2l.8 14.1l.9-28.3l.9 0l.8 0l.9 0l.9 14.2l.8 0l.9 0l.9 14.1l.8-28.3l.9 14.2l.9 14.1l.8-28.3l.9 0l.9 0l.8 0l.9 14.2l.9-14.2l.8 28.3l.9-28.3l.9 0l.8 0l.9 0l.9 14.2l.8 0l.9-14.2l.9 14.2l.8 0l.9 0l.9 14.1l.8-28.3l.9 0l.9 14.2l.8-14.2l.9 28.3l.9-14.1l.8-14.2l.9 0l.9 28.3l.8 0l.9 0l.9-28.3l.8 14.2l.9 0l.9-14.2l.8 14.2l.9 0l.9-14.2l.8-31.2l.9 14.2l.9 0l.8 0l.9 0l.9 17l.8 0l.9 14.2l.9 14.1l.8 0l.9-28.3l.9 0l.8 0l.9 14.2l.9 14.1l.8-28.3l.9 14.2l.9-14.2l.8 14.2l.9-14.2l.9 0l.8 0l.9 0l.9 14.2l.8-14.2l.9 0l.9 0l.8 0l.9 0l.9 14.2l.8 0l.9 0l.9-14.2l.8 14.2l.9-14.2l.9 0l.8 14.2l.9 0l.9-14.2l.8 0l.9 14.2l.9-31.2l.8 0l.9 17l.9 0l.8-17l.9 0l.9 17l.8 0l.9 0l.9 0l.8 28.3l.9-28.3l.9 14.2l.8-14.2l.9 0l.9 0l.8 0l.9 14.2l.9-14.2l.8-17l.9 17l.9-17l.8 17l.9 0l.9-17l.8 17l.9-17l.9 31.2l.8-14.2l.9 14.2l.9 0l.8-14.2l.9 0l.9 0l.8 0l.9 0l.9 14.2l.8 0l.9-14.2l.9 0l.8 0l.9 0l.9 0l.8 14.2l.9-31.2l.9 17l.8-17l.9 17l.9 0l.8 14.2l.9 0l.9 14.1l.8 0l.9-28.3l.9-17l.8 17l.9 0l.9 0l.8 0l.9 0l.9 0l.8-17l.9 0l.9 0l.8 0l.9 0l.9 0l.8 0l.9 0l.9 0l.8 0l.9 17l.9-17l.8 0l.9 0l.9 17l.8 0l.9 0l.9-17l.8 0l.9 0l.9 17l.8-17l.9 0l.9 0l.8 0l.9 31.2l.9-14.2l.8-17l.9 0l.9-14.2l.8 14.2l.9 17l.9-17l.8 0l.9 0l.9 17l.8 0l.9-17l.9 0l.8 0l.9 17l.9-31.2l.8 31.2l.9 0l.9-31.2l.8 14.2l.9-14.2l.9 14.2l.8-14.2l.9 0l.9 0l.8 0l.9 14.2l.9-14.2l.8 14.2l.9 0l.9-14.2l.8 0l.9 0l.9-14.2l.8 14.2l.9 14.2l.9-14.2l.8 0l.9 0l.9 0l.8 0l.9 0l.9 0l.8-14.2l.9 14.2l.9 0l.8-14.2l.9 14.2l.9 0l.8 0l.9 0l.9 0l.8 0l.9 0l.9-14.2l.8 0l.9 0l.9 0l.8 0l.9 14.2l.9 0l.8 0l.9 0l.9-14.2l.8 0l.9 14.2l.9-14.2l.8 14.2l.9 0l.9 0l.8 0l.9 0l.9-14.2l.8 14.2l.9 0l.9 0l.8 0l.9 14.2l.9-14.2l.8-14.2l.9 0l.9 0l.8 14.2l.9 0l.9-14.2l.8 0l.9 14.2l.9-14.2l.8 14.2l.9-14.2l.9 0l.8 14.2l.9-14.2l.9 14.2l.8 0l.9 14.2l.9 0l.8-14.2l.9 0l.9 0l.8-14.2l.9 0l.9 0l.8 0l.9 0l.9 14.2l.8-14.2l.9 0l.9 0l.8-17l.9 0l.9 0l.8 31.2l.9 0l.9 0l.8 0l.9 0l.9 0l.8 0l.9-14.2l.9-17l.8 0l.9 0l.9 17l.8 0l.9 0l.9 14.2l.8-14.2l.9 0l.9 14.2l.8-31.2l.9 45.4l.9-14.2l.8 0l.9-14.2l.9 0l.8 14.2l.9 0l.9 0l.8 0l.9-31.2l.9 0l.8 0l.9 0l.9 17l.8-17l.9 17l.9 0l.8 0l.9 14.2l.9-14.2l.8 14.2l.9-31.2l.9 45.4l.8 0l.9 0l.9-14.2l.8 14.2l.9-14.2l.9 0l.8 0l.9-31.2l.9 31.2l.8 0l.9-14.2l.9 14.2l.8 14.2l.9 17l.9-31.2l.8 0l.9 0l.9 0l.8-31.2l.9 45.4l.9-14.2l.8 0l.9 0l.9 0l.8 0l.9 0l.9 0l.8 0l.9 0l.9 0l.8 0l.9 0l.9 14.2l.8 0l.9 0l.9-14.2l.8 14.2l.9 0l.9-14.2l.8 0l.9 0l.9 0l.8 0l.9 0l.9 0l.8-14.2l.9 14.2l.9-14.2l.8 14.2l.9 0l.9 0l.8 14.2l.9-14.2l.9 0l.8 0l.9 0l.9-14.2l.8 14.2l.9 14.2l.9-14.2l.8 0l.9 0l.9 0l.8-14.2l.9 0l.9 14.2l.8 0l.9-14.2l.9 28.4l.8 17l.9-17l.9 0l.8-14.2l.9 0l.9 14.2l.8 0l.9-14.2l.9-31.2l.8 45.4l.9-14.2l.9 0l.8 0l.9 0l.9-14.2l.8 0l.9 28.4l.9-28.4l.8 14.2l.9-14.2l.9 14.2l.8 0l.9 0l.9 0l.8 0l.9 0l.9 14.2l.8 0l.9-14.2l.9 0l.8 0l.9 0l.9 0l.8 14.2l.9 0l.9-28.4l.8 14.2l.9 0l.9 0l.8 0l.9-14.2l.9 14.2l.8 0l.9 14.2l.9-14.2l.8 0l.9 14.2l.9-14.2l.8 0l.9 0l.9 0l.8 14.2l.9 0l.9-14.2l.8 14.2l.9 0l.9-14.2l.8 14.2l.9 0l.9 0l.8-14.2l.9 0l.9 0l.8 0l.9 14.2l.9 0l.8 0l.9 0l.9-14.2l.8 31.2l.9-31.2l.9 14.2l.8 0l.9-14.2l.9 0l.8 0l.9 31.2l.9 0l.8-17l.9 0l.9 0l.8 17l.9-31.2l.9 0l.8 14.2l.9 0l.9 0l.8 17l.9-17l.9 17l.8-17l.9 0l.9 0l.8 17l.9 0l.9 0l.8 14.2l.9-31.2l.9 17l.8 0l.9-17l.9 17l.8 0l.9-17l.9 0l.8 17l.9 0l.9 28.3l.8-28.3l.9 0l.9-17l.8 0l.9 17l.9 0l.8-17l.9 0l.9 0l.8 0l.9 17l.9 0l.8-17l.9 17l.9 0l.8 0l.9 14.2l.9 14.1l.8-28.3l.9-17l.9 0l.8 17l.9 14.2l.9-14.2l.8-17l.9 17l.9-17l.8 17l.9-17l.9 0l.8 0l.9 17l.9 0l.8 0l.9 0l.9 0l.8 0l.9 14.2l.9-14.2l.8 0l.9-17l.9 0l.8 17l.9 0l.9 0l.8 0l.9 28.3l.9-14.1l.8-14.2l.9 14.2l.9 0l.8-14.2l.9 0l.9 0l.8 0l.9 0l.9 0l.8 0l.9 0l.9 0l.8 14.2l.9-14.2l.9 0l.8 0l.9 0l.9 0l.8 0l.9 0l.9 0l.8 14.2l.9 0l.9-14.2l.8 0l.9 28.3l.9-14.1l.8 0l.9 0l.9-14.2l.8 0l.9-17l.9 31.2l.8-14.2l.9 0l.9 14.2l.8-14.2l.9 0l.9 0l.8 0l.9-17l.9 31.2l.8-45.4l.9 14.2l.9 17l.8 0l.9 0l.9 0l.8 28.3l.9-28.3l.9 0l.8 0l.9-17l.9 45.3l.8-59.5l.9 14.2l.9 45.3l.8-14.1l.9-14.2l.9 0l.8 0l.9 14.2l.9 14.1l.8-28.3l.9 0l.9 0l.8 0l.9 0l.9 0l.8 14.2l.9 0l.9-14.2l.8 14.2l.9-14.2l.9 28.3l.8-14.1l.9-14.2l.9 0l.8 28.3l.9 0l.9 0l.8-45.3l.9 17l.9 0l.8 0l.9 0l.9 0l.8 28.3l.9-14.1l.9-14.2l.8 0l.9 0l.9 0l.8-17l.9 31.2l.9 14.1l.8-28.3l.9 0l.9 0l.8 0l.9 14.2l.9-14.2l.8-17l.9 17l.9 14.2l.8 14.1l.9-14.1l.9 14.1l.8-28.3l.9 14.2l.9 0l.8-14.2l.9 14.2l.9 14.1l.8 0l.9 0l.9 0l.8-28.3l.9 0l.9 0l.8 0l.9 0l.9 14.2l.8-14.2l.9 0l.9 0l.8 0l.9 0l.9 0l.8 0l.9 0l.9 0l.8 14.2l.9 0l.9 0l.8-14.2l.9 28.3l.9-14.1l.8-14.2l.9 0l.9 14.2l.8-14.2l.9-17l.9 45.3l.8 0l.9 0l.9-28.3l.8 28.3l.9-28.3l.9 28.3l.8 0l.9 0l.9-45.3l.8 31.2l.9 14.1l.9-14.1l.8 0l.9 14.1l.9 0l.8 0l.9-14.1l.9 0l.8 14.1l.9-28.3l.9 0l.8 14.2l.9-14.2l.9 0l.8 0l.9 0l.9 14.2l.8 0l.9 0l.9 14.1l.8-28.3l.9 28.3l.9-28.3l.8 0l.9 14.2l.9 0l.8 31.2l.9 0l.9-31.2l.8 14.1l.9 31.2l.9-45.3l.8 14.1l.9 0l.9 0l.8 17.1l.9-31.2l.9 14.1l.8 0l.9-28.3l.9 0l.8 28.3l.9 0l.9 0l.8 0l.9-14.1l.9 0l.8 0l.9-14.2l.9 0l.8 0l.9 0l.9 28.3l.8-14.1l.9 14.1l.9 17.1l.8-31.2l.9 14.1l.9 0l.8-14.1l.9 14.1l.9 17.1l.8-17.1l.9 0l.9-14.1l.8 31.2l.9 0l.9-17.1l.8-28.3l.9 14.2l.9 0l.8-14.2l.9 28.3l.9-14.1l.8 14.1l.9 0l.9 0l.8-14.1l.9 14.1l.9 0l.8 0l.9-28.3l.9 28.3l.8 0l.9-28.3l.9 0l.8 28.3l.9 0l.9-28.3l.8 28.3l.9-14.1l.9-14.2l.8 14.2l.9 14.1l.9 17.1l.8 0l.9-45.4l.9 28.3l.8 17.1l.9 0l.9-17.1l.8-14.1l.9 14.1l.9 0l.8 0l.9 0l.9 0l.8 0l.9 0l.9 0l.8-14.1l.9 14.1l.9 0l.8 31.2l.9-45.3l.9 45.3l.8 0l.9-31.2l.9 0l.8 0l.9 0l.9 0l.8 17.1l.9 0l.9 0l.8-17.1l.9 17.1l.9-17.1l.8 0l.9 0l.9 0l.8-28.3l.9 45.4l.9-17.1l.8 0l.9 17.1l.9-17.1l.8 0l.9 0l.9 31.2l.8-31.2l.9 0l.9 0l.8 17.1l.9 0l.9-17.1l.8 0l.9 0l.9-14.1l.8 14.1l.9 17.1l.9-17.1l.8 0l.9 0l.9 0l.8 0l.9 0l.9-28.3l.8 14.2l.9 14.1l.9 0l.8 0l.9 0l.9 0l.8 17.1l.9-17.1l.9 17.1l.8 0l.9-17.1l.9 0l.8 17.1l.9-17.1l.9 17.1l.8 0l.9 0l.9 0l.8-17.1l.9 0l.9 0l.8-14.1l.9 14.1l.9 0l.8 0l.9-14.1l.9 0l.8 0l.9 0l.9 0l.8 0l.9 0l.9 0l.8 14.1l.9 0l.9 0l.8-14.1l.9 0l.9 14.1l.8 0l.9 0l.9-14.1l.8 14.1l.9-14.1l.9 0l.8 0l.9 14.1l.9 0l.8-14.1l.9 14.1" fill="none" stroke="#008000" stroke-width=".56" stroke-linejoin="round"/>
<path d="M66.5 78.5h0m3-17h0m4 45h0m3 0h0m4-45h0m3 31h0m4 14h0m3-14h0m4 0h0m3 14h0m4-14h0m3 0h0m4-14h0m3 0h0m4 14h0m3 14h0m3 0h0m4 0h0m3-28h0m4 0h0m3 0h0m4 0h0m3 0h0m4 0h0m3 28h0m4-14h0m3 0h0m4 0h0m3 14h0m4 0h0m3 0h0m3-28h0m4 0h0m3 14h0m4 0h0m3 14h0m4-14h0m3-14h0m4 14h0m3 0h0m4-14h0m3 0h0m4 14h0m3-14h0m4 14h0m3-14h0m3 0h0m4 0h0m3 0h0m4 14h0m3-14h0m4 28h0m3 0h0m4-14h0m3 14h0m4 17h0m3-31h0m4 14h0m3 17h0m4-17h0m3 17h0m3 15h0m4-32h0m3-14h0m4 14h0m3 17h0m4-17h0m3 17h0m4 0h0m3 0h0m4 0h0m3-31h0m4 31h0m3-31h0m4 0h0m3 14h0m3 0h0m4 0h0m3 0h0m4 0h0m3 0h0m4 0h0m3 0h0m4-14h0m3 14h0m4-14h0m3 14h0m4-14h0m3 0h0m4 31h0m3-17h0m3 17h0m4 0h0m3-17h0m4 0h0m3 0h0m4-14h0m3 0h0m4 0h0m3 14h0m4 17h0m3-17h0m4-14h0m3 14h0m4 17h0m3-31h0m3 0h0m4 0h0m3 14h0m4-14h0m3 14h0m4-28h0m3 0h0m4 0h0m3 0h0m4-17h0m3 17h0m4 0h0m3 14h0m4 14h0m3-28h0m3 0h0m4 14h0m3-14h0m4 0h0m3 0h0m4 0h0m3 0h0m4 0h0m3 14h0m4 0h0m3 14h0m4-28h0m3 28h0m4-28h0m3 14h0m3-14h0m4 14h0m3 0h0m4 0h0m3-14h0m4 28h0m3-28h0m4-31h0m3 14h0m4 45h0m3-28h0m4 14h0m3-14h0m4 0h0m3 0h0m3 0h0m4 14h0m3 0h0m4-14h0m3 0h0m4 0h0m3 0h0m4-17h0m3 17h0m4 14h0m3-14h0m4 0h0m3 0h0m4 14h0m3-14h0m3 28h0m4-28h0m3 0h0m4-17h0m3 0h0m4 17h0m3 0h0m4-17h0m3 0h0m4 17h0m3-17h0m4 0h0m3 0h0m4 17h0m3-31h0m3 0h0m4 14h0m3-14h0m4 0h0m3 0h0m4 0h0m3 0h0m4 0h0m3-14h0m4 14h0m3-14h0m4 14h0m3-14h0m4 14h0m3-14h0m3 0h0m4 14h0m3-14h0m4 28h0m3-28h0m4 0h0m3 0h0m4 14h0m3 0h0m4-31h0m3 17h0m4 0h0m3 14h0m4 0h0m3-31h0m3 17h0m4 0h0m3-17h0m4 31h0m3 0h0m4-14h0m3 14h0m4-31h0m3 31h0m4 0h0m3 0h0m4 14h0m3-14h0m4 0h0m3 0h0m3 0h0m4 0h0m3 14h0m4-14h0m3 0h0m4 14h0m3 0h0m4 0h0m3-14h0m4-14h0m3 14h0m4 0h0m3 0h0m4 14h0m3-14h0m3 0h0m4 0h0m3 0h0m4 0h0m3 14h0m4-14h0m3 14h0m4 17h0m3-31h0m4 31h0m3 0h0m4-17h0m3 17h0m4 0h0m3-17h0m3 17h0m4 0h0m3 0h0m4 0h0m3-17h0m4 17h0m3 28h0m4-28h0m3 0h0m4-17h0m3 17h0m4 14h0m3-31h0m4 17h0m3 14h0m3-14h0m4 0h0m3 0h0m4 0h0m3 14h0m4 14h0m3-28h0m4 0h0m3 0h0m4 14h0m3-14h0m4 0h0m3 28h0m4-14h0m3 0h0m3-14h0m4 14h0m3-14h0m4 0h0m3-17h0m4 17h0m3 0h0m4-17h0m3 17h0m4 0h0m3 28h0m4-14h0m3 14h0m4-28h0m3 0h0m3 0h0m4 0h0m3 14h0m4 0h0m3-14h0m4 28h0m3 0h0m4-14h0m3 14h0m4-14h0m3 0h0m4-14h0m3 28h0m4-28h0m3 45h0m3-31h0m4 31h0m3-45h0m4 28h0m3-14h0m4-14h0m3 45h0m4-31h0m3 14h0m4 0h0m3-28h0m4 28h0m3 0h0m4 0h0m3 0h0m3-28h0m4 45h0m3 0h0m4-17h0m3 0h0m4 0h0m3 32h0m4-32h0m3 17h0m4-17h0m3-28h0m4 45h0m3 15h0m4-15h0m3-17h0m3 0h0m4 0h0m3 0h0m4 0h0m3 17h0m4-17h0m3 17h0m4-31h0m3 0h0m4 0h0m3 14h0m4-14h0m3 0h0m4 0h0m3 14h0" fill="none" stroke="#008000" stroke-width="3.24" stroke-linecap="round"/>
<path d="M67.5 106.5h0m3-45h0m4 17h0m3 28h0m4-14h0m3-14h0m4 14h0m3-14h0m4 14h0m3 0h0m4-14h0m3 14h0m3-14h0m4 0h0m3 28h0m4-14h0m3 14h0m4 0h0m3 0h0m4-28h0m3 0h0m4 14h0m3 14h0m4-28h0m3 0h0m4 14h0m3 0h0m3-14h0m4 28h0m3-28h0m4 28h0m3-28h0m4 0h0m3 28h0m4-14h0m3 0h0m4 14h0m3-14h0m4 14h0m3-14h0m4 0h0m3-14h0m3 14h0m4 0h0m3-14h0m4 0h0m3 0h0m4 0h0m3 14h0m4-14h0m3 0h0m4 0h0m3 14h0m4 14h0m3 0h0m4 0h0m3 0h0m3-14h0m4 31h0m3-17h0m4 0h0m3 17h0m4-17h0m3 0h0m4 17h0m3 15h0m4-32h0m3 17h0m4-17h0m3 0h0m4-14h0m3 31h0m3 0h0m4-17h0m3-14h0m4 14h0m3 17h0m4-31h0m3 14h0m4 0h0m3 0h0m4 0h0m3-28h0m4 14h0m3 31h0m4-17h0m3 0h0m3 0h0m4 0h0m3-14h0m4 0h0m3 31h0m4 0h0m3-31h0m4-14h0m3 28h0m4-14h0m3 31h0m4-31h0m3-14h0m4 28h0m3-14h0m3-14h0m4 0h0m3 14h0m4-14h0m3 0h0m4 14h0m3 0h0m4-14h0m3 0h0m4 0h0m3 0h0m4 0h0m3 0h0m4 0h0m3 0h0m3 0h0m4 14h0m3 0h0m4-14h0m3 0h0m4 14h0m3-14h0m4 0h0m3 0h0m4 0h0m3 14h0m4-14h0m3 0h0m4 0h0m3 0h0m3 14h0m4-14h0m3 0h0m4 0h0m3 0h0m4 0h0m3 28h0m4-28h0m3 0h0m4 0h0m3 14h0m4-31h0m3 17h0m4 28h0m3-14h0m3-14h0m4 0h0m3 0h0m4 14h0m3 0h0m4 0h0m3-31h0m4 0h0m3 17h0m4 14h0m3-14h0m4 0h0m3-17h0m4 17h0m3 0h0m3 14h0m4-14h0m3-17h0m4 17h0m3 28h0m4-28h0m3 0h0m4-17h0m3 0h0m4 0h0m3 17h0m4-17h0m3 0h0m4 0h0m3 17h0m3 0h0m4-17h0m3 17h0m4-17h0m3-14h0m4 14h0m3-28h0m4 14h0m3 0h0m4 0h0m3 0h0m4 0h0m3-14h0m4 14h0m3 0h0m3 0h0m4 0h0m3 14h0m4-28h0m3 0h0m4 0h0m3 14h0m4 0h0m3-14h0m4 14h0m3-31h0m4 31h0m3 0h0m4-31h0m3 17h0m3 14h0m4 0h0m3 0h0m4-31h0m3 0h0m4 31h0m3 14h0m4 0h0m3-45h0m4 31h0m3 0h0m4 14h0m3-14h0m4 0h0m3 0h0m3 0h0m4 0h0m3 0h0m4-14h0m3 28h0m4-14h0m3 0h0m4-14h0m3 0h0m4 28h0m3 0h0m4-14h0m3-14h0m4 14h0m3 0h0m3 14h0m4-14h0m3 14h0m4-14h0m3 0h0m4 14h0m3-14h0m4 14h0m3 0h0m4-14h0m3 14h0m4-14h0m3 0h0m4 14h0m3-14h0m3 14h0m4 0h0m3 17h0m4 0h0m3 0h0m4 0h0m3-17h0m4 0h0m3 17h0m4 0h0m3 0h0m4 14h0m3-31h0m4 0h0m3 17h0m3 0h0m4 0h0m3 28h0m4-14h0m3-14h0m4 0h0m3 0h0m4 0h0m3 14h0m4 0h0m3-14h0m4 0h0m3 0h0m4-31h0m3 31h0m3 0h0m4-31h0m3 31h0m4 28h0m3-28h0m4 14h0m3 14h0m4 0h0m3-28h0m4 0h0m3 0h0m4 14h0m3-14h0m4-17h0m3 31h0m3 0h0m4 14h0m3-28h0m4 14h0m3-14h0m4 0h0m3 14h0m4-14h0m3-17h0m4 17h0m3 28h0m4 0h0m3 0h0m4 0h0m3-28h0m3 14h0m4-14h0m3 14h0m4 0h0m3 14h0m4-14h0m3-14h0m4 28h0m3-28h0m4 28h0m3-14h0m4 14h0m3-14h0m4-14h0m3 28h0m3 0h0m4 0h0m3-28h0m4 0h0m3 14h0m4-14h0m3 28h0m4 0h0m3 0h0m4 0h0m3 32h0m4-32h0m3 17h0m4-17h0m3 17h0m3-17h0m4 0h0m3 17h0m4-31h0m3 14h0m4 0h0m3 0h0m4 17h0m3-17h0m4 17h0m3-17h0m4 0h0m3-14h0m4 0h0m3 14h0m3 0h0m4 0h0m3 0h0" fill="none" stroke="#008000" stroke-width="3.24" stroke-linecap="round"/>
<path d="M68.5 92.5h0m3 14h0m4-28h0m3 28h0m4-28h0m3 0h0m4 0h0m3 14h0m3 0h0m4 14h0m3-14h0m4-14h0m3 14h0m4 0h0m3 0h0m4 14h0m3-14h0m4 0h0m3 0h0m4 0h0m3-14h0m4 28h0m3 0h0m3 0h0m4-28h0m3 14h0m4 0h0m3-14h0m4 28h0m3-28h0m4 14h0m3-14h0m4 0h0m3 0h0m4 14h0m3-14h0m4 28h0m3-14h0m3 14h0m4 0h0m3-14h0m4 14h0m3-28h0m4 0h0m3 14h0m4-14h0m3 14h0m4-14h0m3 28h0m4-28h0m3 0h0m4 28h0m3 0h0m3 0h0m4 0h0m3 0h0m4 0h0m3 0h0m4 17h0m3 0h0m4-31h0m3 14h0m4 0h0m3-14h0m4 14h0m3 32h0m4-32h0m3 0h0m3 0h0m4 17h0m3 15h0m4-46h0m3 46h0m4-46h0m3 31h0m4-17h0m3 0h0m4-14h0m3 14h0m4 0h0m3 0h0m4 0h0m3-14h0m3 14h0m4 0h0m3 17h0m4-31h0m3 0h0m4-14h0m3 28h0m4 0h0m3-14h0m4 14h0m3-14h0m4 0h0m3 0h0m4-14h0m3 28h0m3 0h0m4-14h0m3-14h0m4 0h0m3 14h0m4 0h0m3-14h0m4-17h0m3 17h0m4 0h0m3 28h0m4 0h0m3 0h0m4-14h0m3-14h0m3 14h0m4-31h0m3 17h0m4 0h0m3 0h0m4 14h0m3 0h0m4 0h0m3 0h0m4-14h0m3-17h0m4 45h0m3-28h0m4 0h0m3 0h0m3 0h0m4 28h0m3-28h0m4 0h0m3 14h0m4 0h0m3-14h0m4 28h0m3-28h0m4 14h0m3-14h0m4 28h0m3 0h0m4-14h0m3 0h0m3-31h0m4 17h0m3 0h0m4 28h0m3-14h0m4-14h0m3 0h0m4 14h0m3-14h0m4 0h0m3-17h0m4 0h0m3 17h0m4 0h0m3 14h0m3-31h0m4 17h0m3 14h0m4-14h0m3 14h0m4-14h0m3 0h0m4 14h0m3-14h0m4 0h0m3-17h0m4 0h0m3 0h0m4 0h0m3 17h0m3 0h0m4-17h0m3 0h0m4 0h0m3 17h0m4 0h0m3-31h0m4 0h0m3 14h0m4-14h0m3 0h0m4 0h0m3 0h0m4-14h0m3 14h0m3-14h0m4 0h0m3 14h0m4-14h0m3 14h0m4 0h0m3 0h0m4 0h0m3 0h0m4-14h0m3 14h0m4 0h0m3-14h0m4 0h0m3-17h0m3 31h0m4 0h0m3-31h0m4 31h0m3-31h0m4 17h0m3 14h0m4-31h0m3 17h0m4 0h0m3 28h0m4-14h0m3 0h0m4 14h0m3-14h0m3 0h0m4 0h0m3 0h0m4 14h0m3 0h0m4-14h0m3 0h0m4 0h0m3 0h0m4-14h0m3 14h0m4-14h0m3 28h0m4-14h0m3 0h0m3 0h0m4-14h0m3 0h0m4 14h0m3 14h0m4-14h0m3-14h0m4 14h0m3 14h0m4-14h0m3 14h0m4 0h0m3 0h0m4-14h0m3 14h0m3 0h0m4-14h0m3 14h0m4-14h0m3 31h0m4-17h0m3 17h0m4 0h0m3-17h0m4 45h0m3-45h0m4 0h0m3 17h0m4 0h0m3-17h0m3 17h0m4 0h0m3 0h0m4 0h0m3 0h0m4 0h0m3 14h0m4-14h0m3 0h0m4 0h0m3 0h0m4 0h0m3 0h0m4 14h0m3-31h0m3 31h0m4-14h0m3-17h0m4 17h0m3 0h0m4-17h0m3 17h0m4 0h0m3 0h0m4 0h0m3 14h0m4 14h0m3-28h0m4 28h0m3-28h0m3 28h0m4-28h0m3 0h0m4 28h0m3-28h0m4 28h0m3-28h0m4 0h0m3 0h0m4 0h0m3 0h0m4 0h0m3 28h0m4 0h0m3 0h0m3-14h0m4 14h0m3-28h0m4 0h0m3 14h0m4 14h0m3-14h0m4 14h0m3 0h0m4 0h0m3 0h0m4-14h0m3-14h0m4 14h0m3 14h0m3 17h0m4 0h0m3-31h0m4 0h0m3 0h0m4-14h0m3 0h0m4 28h0m3 0h0m4 0h0m3-14h0m4 14h0m3 0h0m4 32h0m3-32h0m3 0h0m4 0h0m3 0h0m4 0h0m3 0h0m4 0h0m3 0h0m4 0h0m3 0h0m4-28h0m3 28h0m4 0h0m3 0h0m4 17h0m3-17h0m3 0h0m4-14h0m3 0h0m4 14h0m3 0h0m4-14h0m3 14h0" fill="none" stroke="#008000" stroke-width="3.24" stroke-linecap="round"/>
<path d="M69.5 106.5h0m3 0h0m4-14h0m3 14h0m3-14h0m4 0h0m3-31h0m4 31h0m3 0h0m4 14h0m3 0h0m4-28h0m3 14h0m4 14h0m3-14h0m4 0h0m3-14h0m4 14h0m3 14h0m3 0h0m4-28h0m3 28h0m4-45h0m3 45h0m4-28h0m3 14h0m4 0h0m3-14h0m4 14h0m3 14h0m4-28h0m3 0h0m4 14h0m3-14h0m3 14h0m4 0h0m3 0h0m4 0h0m3 0h0m4 14h0m3-14h0m4 0h0m3-14h0m4 14h0m3-14h0m4 0h0m3 0h0m4 0h0m3 28h0m3-28h0m4 14h0m3 14h0m4 0h0m3 0h0m4 0h0m3-14h0m4 14h0m3 32h0m4-15h0m3 0h0m4-17h0m3-14h0m4 14h0m3 0h0m3 0h0m4 0h0m3 0h0m4 17h0m3 0h0m4 0h0m3 0h0m4-31h0m3 14h0m4 0h0m3 0h0m4 0h0m3 0h0m4 0h0m3 0h0m3 0h0m4 17h0m3-17h0m4 0h0m3-14h0m4 14h0m3-14h0m4 0h0m3 14h0m4 0h0m3 0h0m4 0h0m3 0h0m4 0h0m3-14h0m3 0h0m4 14h0m3-28h0m4 14h0m3 14h0m4 0h0m3-14h0m4-14h0m3 14h0m4-14h0m3 14h0m4 0h0m3-14h0m4-17h0m3 45h0m3-28h0m4 28h0m3-14h0m4-14h0m3 0h0m4 0h0m3 0h0m4 0h0m3-17h0m4 17h0m3 14h0m4 14h0m3-14h0m4-14h0m3 0h0m3 0h0m4 0h0m3 14h0m4 0h0m3 0h0m4 14h0m3-14h0m4-14h0m3 14h0m4 14h0m3-28h0m4 0h0m3 14h0m4 0h0m3-14h0m3 14h0m4 14h0m3-14h0m4-14h0m3-17h0m4 31h0m3-14h0m4 0h0m3 0h0m4 14h0m3-14h0m4 14h0m3-14h0m4 0h0m3 0h0m3 0h0m4 28h0m3-28h0m4 0h0m3 0h0m4-17h0m3 31h0m4-14h0m3 0h0m4 0h0m3-17h0m4 31h0m3-31h0m4 17h0m3-17h0m3 0h0m4 0h0m3 0h0m4 0h0m3 0h0m4 31h0m3-45h0m4 14h0m3 0h0m4-14h0m3 14h0m4-14h0m3 0h0m4 0h0m3 14h0m3-14h0m4-14h0m3 14h0m4 0h0m3-14h0m4 14h0m3-14h0m4 14h0m3 0h0m4 0h0m3-14h0m4 14h0m3-14h0m4 14h0m3 14h0m3-14h0m4-14h0m3 0h0m4-17h0m3 31h0m4-14h0m3 0h0m4 0h0m3 28h0m4-28h0m3 14h0m4-31h0m3 17h0m4 14h0m3 14h0m3-14h0m4 0h0m3 31h0m4-31h0m3 0h0m4 0h0m3 0h0m4 14h0m3 0h0m4-14h0m3-14h0m4 14h0m3 0h0m4 0h0m3 0h0m3 0h0m4 31h0m3-31h0m4-31h0m3 31h0m4 14h0m3-14h0m4 0h0m3 0h0m4 0h0m3 0h0m4-14h0m3 14h0m4 0h0m3 14h0m3-14h0m4 0h0m3 14h0m4-14h0m3 14h0m4 17h0m3-17h0m4 0h0m3 0h0m4 0h0m3 31h0m4-31h0m3 0h0m4 17h0m3 0h0m3-17h0m4 0h0m3 31h0m4-31h0m3 0h0m4 0h0m3 17h0m4 0h0m3-17h0m4 17h0m3 0h0m4 0h0m3 0h0m4 14h0m3-14h0m3 0h0m4 0h0m3 14h0m4 0h0m3-14h0m4-17h0m3 17h0m4 28h0m3-45h0m4 45h0m3-28h0m4 0h0m3 0h0m4 14h0m3-14h0m3 28h0m4-28h0m3 14h0m4-14h0m3 0h0m4 14h0m3 0h0m4-14h0m3 14h0m4 14h0m3-28h0m4 0h0m3 0h0m4 14h0m3 14h0m3-14h0m4 14h0m3-28h0m4-17h0m3 31h0m4 0h0m3-14h0m4 0h0m3 14h0m4-14h0m3 45h0m4 15h0m3-32h0m4 0h0m3 0h0m3-14h0m4-14h0m3 28h0m4 0h0m3 0h0m4 17h0m3-31h0m4 14h0m3 0h0m4 0h0m3 0h0m4-14h0m3 31h0m4 0h0m3-17h0m3 0h0m4-14h0m3 0h0m4 14h0m3 17h0m4 0h0m3-17h0m4 0h0m3 0h0m4 0h0m3 0h0m4 17h0m3-17h0m4-14h0m3 14h0m3 17h0m4 0h0m3 0h0m4-17h0m3 0h0m4-14h0m3 0h0m4 0h0m3 14h0m4-14h0m3 0h0" fill="none" stroke="#008000" stroke-width="3.24" stroke-linecap="round"/>
</g>
<path d="M66.5 147.5v5M222.5 147.5v5M378.5 147.5v5M534.5 147.5v5M690.5 147.5v5M846.5 147.5v5M1002.5 147.5v5M1158.5 147.5v5M1314.5 147.5v5M66.5 47.5h-5M66.5 104.5h-5" stroke="#000" stroke-width="1.11" fill="none"/>
<rect x="66.5" y="9.5" width="1248" height="138" fill="none" stroke="#000" stroke-width="1.11"/>
</g>
<g id="panel1">
<path d="M66.5 174.5V311.5M222.5 174.5V311.5M378.5 174.5V311.5M534.5 174.5V311.5M690.5 174.5V311.5M846.5 174.5V311.5M1002.5 174.5V311.5M1158.5 174.5V311.5M1314.5 174.5V311.5M66.5 198.5H1314.5M66.5 255.5H1314.5" stroke="#b0b0b0" stroke-width="1.11" fill="none"/>
<g clip-path="url(#c1)">
<path d="M66 268.2l.9 .2l.8-.3l.9-16.6l.9 1.2l.8 .6l.9 5.3l.9 2.6l.8 2.2l.9 5.9l.9-2.4l.8 2l.9 1.6l.9-1l.8-.8l.9-3.9l.9-4.4l.8-3.9l.9 6.9l.9 9.2l.8-3.3l.9-3.6l.9-3.3l.8 3.9l.9 .7l.9 2.5l.8-6.1l.9-7.1l.9-.4l.8-.6l.9 5.1l.9 8.3l.8 5.3l.9-9.5l.9 4.4l.8 3.9l.9 0l.9 .3l.8-1.9l.9-1.9l.9-5.3l.8-6.8l.9 4.4l.9 12.6l.8 2.5l.9 2.6l.9 2.7l.8 2.6l.9-5.3l.9-3.5l.8-5.3l.9-5l.9-3.9l.8-1.1l.9-.7l.9-3.5l.8 12.4l.9 4.1l.9 2.4l.8-3l.9 3.6l.9 3.5l.8-2.1l.9-1.4l.9-7.1l.8-5.9l.9-2.4l.9 1.7l.8 1.3l.9 1.7l.9 1.6l.8 5.5l.9 10.1l.9 0l.8-1.4l.9-1.6l.9-2l.8-6.8l.9-7.7l.9 7.1l.8-.6l.9-2.6l.9-2.7l.8 3.1l.9 5.8l.9 5.2l.8 1.6l.9-2.8l.9-2.7l.8-5.5l.9-3.4l.9-4.1l.8 0l.9 0l.9 8.7l.8 6.5l.9 2.3l.9 2.4l.8-.4l.9 .7l.9-.1l.8-4l.9-7.1l.9-4.2l.8 3.3l.9-2l.9-2.2l.8 3.2l.9 4.3l.9 5.9l.8 4l.9 3.3l.9 3l.8-4.8l.9-7.6l.9-5.4l.8-4.1l.9-1l.9-1.4l.8-1.4l.9-1.9l.9 4.5l.8 5.7l.9 10.9l.9-1.8l.8-3.2l.9-2.8l.9-1.9l.8-3.9l.9-1.6l.9-1.1l.8-3.2l.9 4.3l.9 5.5l.8 1.5l.9 1.7l.9-2.4l.8-5.4l.9-4.6l.9-1l.8 5.7l.9 2l.9 .9l.8-1.2l.9-1.1l.9 7.1l.8 2.3l.9 2.4l.9-1.2l.8-3.5l.9-5.3l.9-4.2l.8-8.3l.9 8.3l.9-2.5l.8-2.2l.9 3.5l.9 4.4l.8 4.3l.9 1.8l.9 1.9l.8-4.4l.9-1.5l.9-1.4l.8-1.5l.9 11l.9 .5l.8-.9l.9-5.3l.9-1.4l.8-.5l.9-.5l.9 3.6l.8-2.9l.9-3l.9-1l.8 5.1l.9 5.9l.9 4.1l.8 6.2l.9-1.1l.9-1.5l.8-9.5l.9-4.7l.9-3.5l.8-1.8l.9-.6l.9-3.5l.8 3l.9 4.1l.9 10.8l.8-7.3l.9-7.1l.9 2l.8 3.9l.9-2.3l.9-1.2l.8-2.3l.9-2.5l.9-3.3l.8 9l.9 7.3l.9-.9l.8-.1l.9-.7l.9-2.7l.8 .6l.9 1.5l.9-3l.8-2.3l.9-.2l.9-.4l.8 6.5l.9 4.7l.9 .8l.8 1l.9-2.8l.9-2.6l.8 8.7l.9-9.8l.9-1.6l.8-1.4l.9-2.9l.9-2.8l.8 4.3l.9 6.1l.9 3.6l.8 4.5l.9-2.7l.9-2.5l.8-1.9l.9-2.2l.9-2.5l.8-2.2l.9-.5l.9-1.6l.8 4.5l.9 5.9l.9 9.5l.8-.6l.9-2.7l.9-2.7l.8-4.1l.9 2.7l.9 3.8l.8-2.4l.9-2.4l.9-1.3l.8 2.6l.9 5.9l.9 3.3l.8-3.5l.9-3.4l.9 4.8l.8-11.9l.9-1.9l.9-1.6l.8 8l.9-5.1l.9 2.3l.8 2.5l.9 9.8l.9 1.3l.8 2.5l.9 4.9l.9-4.2l.8-3.3l.9-3.1l.9-.2l.8-7.7l.9-2l.9-1.6l.8-4.1l.9 3.3l.9 13l.8 .9l.9 1.5l.9-5.7l.8 3.5l.9 4.8l.9-4.2l.8-4.7l.9-7.1l.9-5.1l.8 .8l.9 1.4l.9 4.1l.8 9.1l.9 10.6l.9 4.5l.8-1.8l.9-3.5l.9-9.1l.8-4.2l.9-4.8l.9-4.9l.8 2.2l.9 2.7l.9 4.3l.8 8.5l.9 2.4l.9 2.9l.8-8.9l.9-3.5l.9-4.5l.8-5.2l.9-6.3l.9-4.7l.8 3.3l.9 3l.9 1.5l.8 1.7l.9 1.1l.9 1.6l.8 2l.9-1.4l.9-1.9l.8-.8l.9-5.9l.9-.6l.8-1.6l.9 0l.9 .4l.8 .4l.9 .8l.9 4.7l.8 1.1l.9 1.8l.9 1.9l.8 2.3l.9-.8l.9-1.6l.8-5.3l.9-7.3l.9 3.2l.8-5.6l.9-3.9l.9 3.5l.8 2.4l.9 6.5l.9 2.3l.8 3l.9 2.4l.9-7.4l.8-1.6l.9-1.6l.9-.6l.8-.6l.9 4.1l.9 2.6l.8 1.9l.9 4.4l.9 1.8l.8 1.5l.9 1.4l.9-3.5l.8-8.7l.9-2.5l.9-1.8l.8-3.6l.9 2.9l.9 2.4l.8 5.3l.9-2l.9-2.1l.8 1.8l.9 1.2l.9 1.1l.8-3l.9-3.4l.9-3.2l.8-3.6l.9 10.7l.9-6l.8 1.3l.9 2.3l.9 1.9l.8 1.6l.9 4.2l.9-6.5l.8-5.3l.9-2.3l.9-3.3l.8 3.4l.9 2.7l.9 6.5l.8-2.6l.9-2.7l.9 7.1l.8 3.8l.9-3.1l.9-3.6l.8-8.3l.9-7.7l.9-4.1l.8 5.3l.9 3.9l.9 3.8l.8 7.1l.9 5.9l.9-.1l.8 .9l.9-4l.9-5.1l.8-8.9l.9-7.6l.9-1.5l.8-2.1l.9 10.1l.9 7.6l.8 2.2l.9 3.7l.9-2.1l.8-1.4l.9-6.7l.9-.8l.8-1.6l.9-2.5l.9-2l.8-5.3l.9-2l.9 3.6l.8 3.5l.9 13.8l.9 2.4l.8-5.4l.9-4.1l.9 .5l.8 1l.9 .5l.9-6.7l.8-4.4l.9-3.9l.9-4.7l.8-2.4l.9 11.3l.9 5.3l.8-4.2l.9 1.3l.9 1.6l.8 2.1l.9-2.1l.9-1.7l.8-1.9l.9-2.8l.9-4.7l.8-.3l.9 0l.9 1l.8 1.1l.9-.1l.9-1.4l.8-1.3l.9 13.4l.9-3l.8-2.1l.9-2l.9-2l.8-3.3l.9-4.8l.9 1.5l.8 .3l.9 1l.9 0l.8 .2l.9 2.9l.9 2.6l.8 6.3l.9-4.4l.9-4.7l.8-3.5l.9-8.3l.9 1.6l.8 1.6l.9 5.3l.9 2.4l.8 9.2l.9-2.7l.9 9.4l.8-5.3l.9-1.5l.9-1.1l.8-1.5l.9-9.5l.9-5.1l.8 .6l.9 .6l.9 3.6l.8 2.7l.9 10.6l.9 7.7l.8 7.7l.9-5.4l.9-1.7l.8-10.1l.9-5.3l.9-2.7l.8-3.2l.9-4.1l.9 0l.8 7.1l.9 5.3l.9 5.4l.8 6.4l.9 5.1l.9-3.1l.8-3.8l.9-5.3l.9 0l.8-.3l.9-3.8l.9-1.7l.8-1.3l.9 5.3l.9 4.8l.8 4.1l.9 5.9l.9 6.5l.8-3.3l.9-4l.9-3.9l.8-14.2l.9-1.2l.9 0l.8-.7l.9-2.2l.9 4.6l.8 4.6l.9 5.9l.9 7.9l.8 11l.9-1.2l.9-9.8l.8-3.7l.9-4.2l.9-9.8l.8-7.5l.9-2.8l.9 5l.8 13l.9 4.1l.9 4.1l.8 8.1l.9 4.7l.9-2.1l.8-5.9l.9-9.7l.9-3.2l.8-2.5l.9-3.5l.9-3.4l.8 6.9l.9 5.9l.9 6.5l.8 7.1l.9 .1l.9-.3l.8-.9l.9-9.1l.9-6.9l.8-3.5l.9-3l.9 .2l.8-.5l.9 5.7l.9 5.3l.8 9.4l.9 2.4l.9-3.5l.8 1.5l.9-5.9l.9-1l.8-2.3l.9-5.7l.9-10.3l.8-2.9l.9-3l.9 9.1l.8 6.3l.9 7.1l.9 4.7l.8 0l.9-4.1l.9-5l.8-3.2l.9-2.7l.9-6.3l.8-3.9l.9 3.3l.9 6.9l.8 7.3l.9-.1l.9 0l.8 .1l.9 9.7l.9-2l.8-9.1l.9-4.3l.9-7.9l.8-2.5l.9-1.4l.9 2.4l.8 1.9l.9 9.9l.9 3.9l.8-3.9l.9 11l.9 .9l.8 1.1l.9-11.1l.9-8l.8-2.4l.9-3.8l.9-.8l.8 .1l.9 3l.9 2.4l.8-.2l.9-.7l.9 6.1l.8 9.3l.9-3l.9-8.9l.8-2.3l.9-1.8l.9-4.7l.8-5.3l.9 5.3l.9 3.9l.8-3.9l.9-5.1l.9 .9l.8-.2l.9 9.1l.9 13l.8 .8l.9-6.7l.9-4.1l.8-3.8l.9-5.9l.9-.3l.8-.3l.9-.6l.9 4l.8 4.5l.9 9.2l.9 1l.8 2.2l.9-5.3l.9-6.9l.8-9.7l.9-7.6l.9 .6l.8-2.3l.9-1.9l.9 5.6l.8 5.4l.9 4l.9 10.2l.8 13l.9-5.1l.9-3.9l.8-3.2l.9-9.8l.9-8.5l.8-1.4l.9 3.8l.9 1.1l.8 1l.9 4.7l.9 6.2l.8 2.9l.9 6.3l.9-1.2l.8-5.9l.9-5.1l.9-7.1l.8-10.6l.9 3.9l.9 1.6l.8 1.2l.9 5.1l.9 4.7l.8 2.1l.9 1.1l.9-5.9l.8-1.2l.9-4l.9-1.1l.8-1.6l.9-.7l.9 .1l.8-1.1l.9-1.5l.9 2.1l.8 2.3l.9 2.7l.9-.5l.8-.1l.9 .6l.9-9l.8-5.2l.9-3.1l.9-3.7l.8-3.4l.9 6.3l.9 1.3l.8 1.7l.9 2.2l.9 3.9l.8-5.2l.9-5.7l.9-.9l.8-2l.9 1l.9 1.3l.8-4.3l.9-5.5l.9 .4l.8 .6l.9 .2l.9 5.2l.8 4l.9-4.1l.9-3.2l.8-2.7l.9 3.1l.9 3.6l.8-1l.9-1.8l.9-5.7l.8-3.3l.9-1.1l.9-1.3l.8 4.3l.9 5l.9 1.2l.8 1.1l.9-5.3l.9 6.3l.8-5.1l.9-2l.9-6.3l.8-8.3l.9-.5l.9-1.2l.8-2.4l.9 .2l.9-.3l.8 .7l.9 3.5l.9 2.4l.8 2l.9-3.2l.9-4.7l.8-7.1l.9-.5l.9-.7l.8-.9l.9-1.1l.9 2.4l.8 2.8l.9 3.9l.9 9.1l.8 .8l.9 1.3l.9-3.5l.8-3.8l.9-5.9l.9-4.2l.8 2.7l.9 3.5l.9-1.7l.8-1.2l.9-3.8l.9 3.7l.8 5l.9 4.8l.9-.1l.8 .1l.9-3.2l.9-3l.8-.8l.9-.6l.9 3.2l.8-3.3l.9-2.6l.9-3.2l.8 2.1l.9 2.3l.9 1.3l.8 2.2l.9 3l.9 2.9l.8-1.7l.9-3l.9-4.2l.8 4.5l.9-6.2l.9-2l.8-1.9l.9-3.6l.9 6.3l.8 3.7l.9 4.9l.9 4l.8 5.1l.9 2.4l.9-1.6l.8-2l.9-1.3l.9-.4l.8-5l.9-6.9l.9-2.6l.8-.7l.9 5.1l.9 9.1l.8 4.7l.9 6.3l.9-3.2l.8-5.1l.9-1.2l.9-.8l.8-4.7l.9-7.4l.9-1.9l.8-1.7l.9 7.1l.9 7.9l.8 .4l.9 .3l.9 9.5l.8-2.7l.9-3.6l.9-5.9l.8-4.4l.9 .5l.9-5.5l.8-2.6l.9-2.5l.9-4.8l.8 4.6l.9 4.7l.9 6.8l.8 11.5l.9 2.7l.9 2l.8-2.4l.9-2.3l.9-7.9l.8 3.5l.9-5.1l.9-5.1l.8-2.9l.9-2.6l.9 7.4l.8 7.4l.9 1.1l.9-11.8l.8-3.3l.9 3.9l.9 2.4l.8 2.7l.9 11.1l.9-5.5l.8 3.1l.9-6.7l.9-5.9l.8 2.1l.9 1.1l.9 6.3l.8 1.5l.9-16.9l.9-5.1l.8 10.2l.9 2l.9 1l.8 1.7l.9 15l.9-.8l.8-8.1l.9 2.2l.9 2l.8-1.6l.9-10.6l.9-2.6l.8-3.5l.9-6.9l.9 7.8l.8 2l.9 4.2l.9 15.3l.8 1.3l.9 1.7l.9-6.5l.8 2.9l.9-6.2l.9-1.2l.8-2.1l.9-1.1l.9-5.9l.8-7.5l.9-4l.9 8.3l.8 13.8l.9 12.2l.9 1.8l.8 2.9l.9-5.1l.9-3.5l.8-2l.9-9.2l.9 2.9l.8-5.9l.9-11l.9 .8l.8 1.8l.9 1.3l.9 11l.8 9.9l.9 1.1l.9 1.3l.8 6.3l.9 0l.9-5.4l.8-7l.9-4.2l.9-8.8l.8-3.4l.9 .7l.9 .9l.8 2.9l.9 6.9l.9 9.9l.8 5.9l.9 7.1l.9-3.8l.8-1.4l.9-1.9l.9-11.1l.8 2.9l.9-5l.9-.9l.8-.9l.9 .5l.9 .1l.8 4.1l.9 2.4l.9 5.1l.8 4.9l.9 5l.9-3.8l.8-9.2l.9 3.2l.9 2.7l.8 5.1l.9 .9l.9-.3l.8-2.9l.9-3.6l.9 2.1l.8 2.6l.9 2l.9 2.4l.8-2.4l.9-1.6l.9-3.1l.8 .4l.9 .5l.9 6.2l.8 3.1l.9-9.3l.9 .9l.8 1.5l.9 3l.9 3.9l.8-9.3l.9-2.1l.9-1l.8-.2l.9 2.8l.9 3.5l.8 2l.9 1.9l.9 1.2l.8-9l.9-7.1l.9 4.5l.8 2.2l.9 .8l.9-.6l.8-1.1l.9-.7l.9 1.3l.8 1.6l.9 8.6l.9 .1l.8 .2l.9 7.9l.9-3l.8-3.1l.9-.5l.9-.5l.8-3.9l.9-2.2l.9-5.7l.8 4.3l.9 4.8l.9 5.1l.8 6.9l.9 .2l.9-.2l.8-6.2l.9-1.9l.9 .6l.8 1.8l.9 5.9l.9-8.9l.8-1.1l.9 .4l.9-1.6l.8 6.8l.9 11.5l.9 8.8l.8-8.8l.9-3l.9-2.9l.8-5.3l.9-4.2l.9 0l.8 .4l.9-6.3l.9 0l.8 4.1l.9 5.9l.9 5.4l.8 10.6l.9 6.3l.9-3.3l.8-5.9l.9-2.2l.9-4l.8-6.3l.9-3.9l.9-1.7l.8-2l.9 6.1l.9 18.1l.8 11.8l.9 .8l.9 1.6l.8-9.8l.9-4.4l.9-4.4l.8-5.9l.9-5.9l.9-2.1l.8-2.6l.9-1.2l.9 13.8l.8 13.4l.9 7.5l.9 .9l.8 .7l.9-1.6l.9-2.8l.8-11l.9-3.2l.9-2.1l.8-3.8l.9-7.4l.9-1.6l.8 1.9l.9 8.3l.9 14.2l.8 13l.9 4.9l.9-.6l.8-3.2l.9-4.2l.9-10.9l.8-6.1l.9-8.6l.9-2.4l.8 5.1l.9 4.7l.9 17l.8 2.1l.9 2.4l.9 3l.8-2.8l.9-6.7l.9-5.1l.8-6.7l.9-1.9l.9-1.7l.8-3.9l.9 5.5l.9 9.9l.8 10.6l.9 3.3l.9-.6l.8-1.1l.9-8.3l.9-5.9l.8-5.9l.9-5.1l.9-3.2l.8-3.9l.9 4.3l.9 2.8l.8 6.3l.9 8.6l.9 11.1l.8-7.9l.9-.6l.9-3l.8-3.5l.9-7.9l.9-6.3l.8-2.3l.9 5.5l.9 3.1l.8 13l.9 4.3l.9 3.6l.8-11.5l.9 2.6l.9-4.1l.8-7.1l.9-1.7l.9-1.8l.8-2.8l.9 1.5l.9 .9l.8 3.3l.9 12.8l.9 4l.8-1.6l.9-2l.9-1.3l.8-.7l.9-7.6l.9-6.2l.8-1.9l.9 2.2l.9 2.1l.8 3l.9 1.7l.9 7.1l.8 7.1l.9-3.1l.9 3.1l.8-10.2l.9-3l.9-1.7l.8-3.2l.9-4.4l.9 3.6l.8 7.9l.9 16.9l.9 9.7l.8-.3l.9-.7l.9-15l.8 2.4l.9-4.7l.9-8.3l.8-4.1l.9-.4l.9 1.3l.8-.4l.9 5.6l.9 13l.8 8l.9-2.3l.9-1.8l.8-1.3l.9-1.1l.9 4.8l.8-16.2l.9-8.3l.9-1.9l.8 5.1l.9 1.6l.9 2.3l.8 12l.9 3.8l.9-.1l.8 .1l.9-7.1l.9-6.7l.8-1.7l.9-2.2l.9-3.2l.8 2.4l.9 13l.9 7.9l.8 5.9l.9 1.1l.9-1.8l.8-1.4l.9-5.1l.9-11.1l.8-4.7l.9-5.1l.9-4.7l.8 .8l.9 3.9l.9 9.8l.8 13l.9 2.4l.9 2l.8-2.4l.9-1.5l.9-4l.8-2.8l.9-5.3l.9-5.3l.8-6.5l.9-1.4l.9 5.9l.8 7.3l.9 9.7l.9 7.5l.8-3.2l.9-2.4l.9-5.9l.8-7.1l.9-7.8l.9-7.9l.8 2l.9 5.1l.9 12.6l.8 8.3l.9 2.6l.9 2.1l.8 1.2l.9 0l.9-5.9l.8-7.9l.9-9.1l.9-4.3l.8 0l.9 0l.9 5.5l.8 11.8l.9 7.1l.9 4l.8 .7l.9-6.3l.9-5.5l.8-.8l.9-1.6l.9-11.8l.8-3.9l.9-3.2l.9 9.1l.8 8.3l.9 12.6l.9 5.9l.8 5.1l.9 .4l.9-8.3l.8-5.9l.9-11.3l.9-6.8l.8-1.7l.9-1.2l.9 6.8l.8 4l.9 1.6l.9 1.5l.8 2.8l.9 1.6l.9 2.7l.8-3.1l.9-2.8l.9-4.3l.8-5.9l.9-2.8l.9 4.7l.8 4l.9 14.6l.9 3.9l.8-3.9l.9-1.8l.9-10.4l.8-.8l.9-.4l.9-7.1l.8-2.8l.9-2.1l.9 .6l.8 5.5l.9 10.6l.9 11.4l.8 4l.9-5.2l.9-4.7l.8 5.9l.9-3.1l.9-6.7l.8-12.4l.9-5.9l.9 12l.8 11l.9 7.9l.9 5.1l.8-2.2l.9-2.9l.9-5.9l.8-2.8l.9-9.2l.9-10.1l.8-2.3l.9-1.6l.9 9l.8 7.4l.9 7.6l.9 9.1l.8 3.5l.9 .4l.9-7.9l.8 0l.9-7.1l.9-5.1l.8-6.2l.9 1.5l.9 .8l.8 11l.9 10l.9 2.1l.8 2.9l.9-5l.9-2.6l.8-5.4l.9-7.1l.9-2.8l.8-5.4l.9-3.6l.9 5.9l.8 4.6l.9 4.4l.9 12l.8 2.4l.9-2.6l.9 5.2l.8-4l.9-3.1l.9-2l.8-7.9l.9-9l.9-4l.8 4.4l.9 4.7l.9 12.2l.8 6.7l.9 5.1l.9 1.2l.8-.6l.9-2.2l.9-1.7l.8-11.8l.9-8.1l.9-2l.8 3.9l.9 12.3l.9 5.7l.8 2.3l.9 .2l.9 2l.8-9l.9-2.9l.9-6.8l.8-5.7l.9-8.7l.9-2.7l.8 .1l.9 1.4l.9 12.6l.8 3l.9 4.5l.9 5.9l.8 1.2l.9-4.8l.9 1.5l.8-3.8l.9-8.3l.9-7.8l.8-5.2l.9-.9l.9 4.1l.8 5.6l.9-2.6l.9 4.1l.8 6.7l.9 1.2l.9 3.1l.8-5.1l.9-3.3l.9-3.4l.8-4.3l.9 3.6l.9-1.3l.8-.4l.9 4l.9 1.1l.8-1.1l.9 9.2l.9 3l.8-7.1l.9-10.3l.9-6.6l.8 3.6l.9 1.8l.9 2l.8 6.3l.9 1.9l.9 1.3l.8 5.9l.9 1.2l.9 2l.8-9.1l.9-10l.9-.6l.8 2.5l.9 1.4l.9 1.4l.8 .9l.9-1.1l.9-.4l.8-6.3l.9 8.7l.9 1.3l.8 2.2l.9-7.9l.9-5.9l.8-3.1l.9-.1" fill="none" stroke="#00f" stroke-width=".56" stroke-linejoin="round"/>
<path d="M66.5 268.5h0m3-15h0m4 10h0m3 7h0m4-10h0m3 9h0m4-2h0m3-11h0m4 18h0m3-1h0m4-9h0m3 13h0m4 2h0m3-17h0m4 7h0m3 7h0m3-7h0m4-6h0m3 19h0m4-5h0m3-8h0m4 4h0m3 1h0m4-13h0m3 18h0m4 2h0m3-12h0m4 4h0m3 16h0m4-22h0m3-6h0m3 19h0m4-11h0m3-2h0m4 6h0m3-5h0m4 1h0m3 10h0m4-21h0m3 7h0m4 13h0m3-9h0m4 5h0m3 1h0m4-2h0m3 15h0m3-19h0m4-3h0m3 1h0m4 2h0m3 1h0m4 6h0m3-4h0m4 4h0m3 3h0m4-5h0m3-3h0m4 12h0m3-9h0m4 0h0m3 12h0m3 0h0m4-4h0m3 3h0m4-11h0m3 8h0m4 18h0m3-11h0m4-15h0m3 19h0m4-2h0m3-16h0m4 25h0m3-10h0m4-11h0m3 18h0m3-14h0m4-13h0m3 7h0m4 0h0m3-9h0m4 2h0m3 9h0m4-5h0m3-14h0m4 15h0m3-3h0m4 1h0m3 11h0m4-10h0m3-5h0m3 4h0m4 1h0m3 0h0m4 0h0m3-6h0m4 0h0m3 9h0m4-12h0m3-2h0m4 17h0m3-17h0m4-2h0m3 12h0m4-11h0m3-12h0m3 24h0m4-8h0m3-15h0m4 10h0m3 1h0m4-9h0m3-4h0m4-2h0m3 7h0m4-9h0m3 2h0m4 7h0m3-15h0m4 19h0m3 0h0m3-18h0m4 8h0m3 20h0m4-19h0m3-1h0m4 23h0m3-13h0m4-7h0m3 20h0m4-4h0m3-16h0m4 12h0m3 8h0m4-25h0m3 20h0m3 14h0m4-21h0m3 6h0m4 13h0m3-20h0m4 2h0m3 14h0m4-8h0m3-22h0m4 27h0m3-12h0m4-9h0m3 14h0m4-2h0m3-16h0m3 18h0m4 10h0m3-26h0m4 5h0m3 14h0m4-16h0m3 0h0m4-9h0m3 16h0m4-14h0m3 8h0m4 7h0m3-24h0m4 7h0m3 22h0m3-25h0m4 4h0m3 21h0m4-20h0m3-4h0m4 13h0m3-12h0m4-3h0m3 5h0m4-8h0m3-16h0m4 12h0m3-8h0m4-4h0m3-5h0m3 2h0m4 3h0m3-12h0m4 10h0m3-3h0m4-18h0m3-3h0m4 8h0m3-15h0m4 0h0m3 16h0m4-12h0m3 1h0m4 3h0m3 2h0m3-1h0m4-7h0m3 8h0m4-5h0m3-6h0m4 11h0m3 10h0m4-9h0m3-5h0m4 17h0m3-12h0m4-4h0m3 19h0m4-17h0m3-10h0m3 11h0m4 14h0m3-12h0m4-3h0m3-7h0m4 21h0m3-16h0m4 11h0m3-9h0m4 17h0m3-6h0m4-23h0m3 29h0m4-1h0m3-10h0m3-10h0m4 31h0m3-20h0m4-13h0m3 24h0m4 9h0m3-26h0m4 2h0m3 29h0m4-18h0m3-4h0m4 7h0m3 12h0m4 1h0m3-6h0m3 10h0m4-7h0m3 0h0m4 10h0m3-13h0m4 10h0m3-10h0m4 1h0m3 11h0m4 5h0m3-8h0m4 1h0m3 12h0m4-5h0m3-4h0m3 26h0m4-21h0m3-10h0m4 16h0m3 7h0m4-16h0m3 21h0m4 4h0m3-21h0m4 8h0m3 23h0m4-19h0m3-15h0m4 38h0m3-3h0m3-28h0m4 29h0m3-5h0m4-15h0m3 22h0m4-7h0m3-20h0m4 10h0m3 11h0m4-21h0m3 20h0m4-1h0m3-15h0m4 3h0m3 13h0m3-16h0m4 6h0m3 12h0m4-11h0m3 3h0m4 26h0m3-26h0m4-3h0m3 24h0m4 1h0m3-22h0m4 20h0m3-14h0m4-4h0m3 28h0m3-20h0m4-13h0m3 29h0m4-6h0m3-20h0m4 21h0m3-4h0m4-20h0m3 28h0m4-2h0m3-22h0m4 25h0m3-8h0m4-18h0m3 27h0m3 3h0m4-25h0m3 11h0m4 8h0m3-16h0m4 21h0m3-12h0m4-12h0m3 15h0m4 6h0m3-17h0m4 25h0m3-6h0m4-24h0m3 22h0m3 5h0m4-18h0m3 23h0m4-2h0m3-21h0m4 11h0m3 17h0m4-17h0m3-4h0m4 26h0m3-17h0m4 7h0m3 10h0m4-25h0m3-10h0m3 26h0m4-6h0m3-22h0m4 11h0m3 6h0m4-7h0m3 3h0m4 4h0m3-11h0m4 11h0m3 0h0m4-6h0m3 0h0m4 6h0m3-17h0" fill="none" stroke="#00f" stroke-width="3.24" stroke-linecap="round"/>
<path d="M67.5 268.5h0m3-15h0m4 16h0m3 1h0m4-13h0m3 9h0m4 4h0m3-15h0m4 10h0m3 8h0m4-16h0m3 22h0m3-3h0m4-15h0m3 12h0m4 6h0m3-16h0m4 2h0m3 17h0m4-12h0m3-3h0m4 11h0m3-9h0m4-8h0m3 20h0m4-4h0m3-10h0m3 11h0m4 6h0m3-18h0m4 0h0m3 11h0m4-10h0m3 6h0m4-5h0m3 2h0m4 6h0m3 0h0m4-10h0m3 4h0m4 3h0m3 7h0m3-7h0m4-1h0m3 7h0m4 8h0m3-20h0m4 3h0m3-1h0m4-2h0m3 11h0m4-5h0m3-3h0m4 10h0m3-3h0m4-4h0m3 5h0m3 2h0m4-8h0m3 8h0m4 3h0m3 0h0m4 5h0m3 1h0m4-7h0m3 9h0m4 5h0m3-14h0m4-5h0m3 10h0m4-1h0m3-10h0m3 29h0m4-19h0m3-5h0m4 18h0m3-22h0m4-4h0m3 5h0m4-2h0m3-8h0m4 7h0m3 7h0m4-15h0m3-3h0m4 14h0m3-8h0m3 5h0m4 10h0m3-13h0m4 0h0m3 3h0m4-5h0m3-2h0m4 8h0m3-10h0m4 9h0m3 6h0m4-23h0m3 9h0m4 14h0m3-26h0m3 14h0m4 2h0m3-11h0m4-6h0m3 14h0m4-2h0m3-19h0m4 10h0m3 2h0m4-11h0m3 2h0m4 11h0m3-9h0m4-7h0m3 4h0m3 0h0m4-8h0m3 14h0m4 1h0m3-15h0m4 17h0m3 9h0m4-22h0m3 9h0m4 14h0m3-10h0m4-1h0m3 21h0m4-26h0m3-4h0m3 23h0m4-3h0m3-25h0m4 27h0m3 4h0m4-19h0m3 16h0m4 6h0m3-22h0m4 11h0m3 9h0m4-14h0m3-8h0m4 18h0m3-15h0m3 0h0m4 8h0m3-6h0m4-9h0m3 12h0m4 1h0m3-15h0m4 6h0m3 11h0m4-17h0m3 0h0m4 4h0m3 3h0m4-10h0m3 17h0m3-9h0m4-19h0m3 13h0m4 15h0m3-23h0m4 10h0m3 14h0m4-28h0m3 11h0m4 3h0m3-8h0m4-4h0m3 7h0m4-14h0m3-4h0m3 10h0m4-14h0m3-8h0m4 7h0m3-6h0m4 3h0m3-11h0m4 12h0m3-6h0m4-17h0m3-2h0m4 5h0m3-13h0m4 3h0m3 16h0m3-18h0m4 3h0m3 10h0m4-6h0m3-2h0m4-1h0m3 9h0m4-4h0m3-14h0m4 19h0m3 4h0m4-13h0m3 10h0m4 3h0m3-14h0m3 11h0m4 8h0m3-13h0m4-16h0m3 28h0m4 0h0m3-15h0m4 9h0m3-10h0m4 11h0m3-7h0m4-8h0m3 8h0m4 8h0m3-8h0m3-6h0m4 23h0m3-8h0m4-10h0m3 10h0m4 12h0m3-12h0m4-14h0m3 23h0m4 3h0m3-24h0m4 11h0m3 20h0m4-12h0m3-6h0m3 11h0m4-3h0m3 12h0m4-4h0m3 4h0m4-4h0m3 1h0m4-1h0m3 0h0m4 8h0m3-9h0m4-2h0m3 12h0m4 2h0m3-7h0m3 9h0m4 0h0m3 7h0m4-12h0m3 19h0m4-16h0m3-6h0m4 26h0m3-5h0m4-16h0m3 34h0m4-11h0m3-19h0m4 24h0m3 7h0m3-19h0m4-11h0m3 41h0m4-19h0m3-12h0m4 26h0m3-12h0m4-14h0m3 29h0m4-16h0m3-18h0m4 22h0m3 0h0m4-20h0m3 26h0m3-10h0m4-13h0m3 19h0m4-1h0m3-17h0m4 9h0m3 14h0m4-18h0m3 24h0m4-6h0m3-15h0m4 7h0m3 16h0m4-13h0m3-4h0m3 18h0m4-15h0m3 10h0m4 13h0m3-23h0m4-5h0m3 28h0m4-11h0m3-19h0m4 31h0m3-19h0m4-8h0m3 25h0m4-12h0m3-14h0m3 29h0m4-12h0m3-21h0m4 36h0m3-9h0m4-21h0m3 14h0m4 4h0m3-16h0m4 28h0m3-17h0m4-13h0m3 28h0m4 0h0m3-28h0m3 36h0m4-13h0m3-24h0m4 34h0m3-5h0m4-16h0m3 23h0m4-10h0m3-18h0m4 26h0m3 1h0m4-22h0m3 18h0m4 12h0m3-24h0m3 20h0m4-4h0m3-24h0m4 11h0m3 15h0m4-16h0m3-10h0m4 14h0m3-4h0m4-5h0m3 3h0m4-5h0m3 1h0m4 15h0m3-16h0m3 5h0m4-7h0m3 4h0" fill="none" stroke="#00f" stroke-width="3.24" stroke-linecap="round"/>
<path d="M68.5 268.5h0m3-9h0m4 8h0m3 2h0m4-6h0m3-1h0m4 1h0m3-3h0m3 9h0m4 2h0m3-9h0m4 20h0m3-12h0m4-10h0m3 15h0m4 2h0m3-17h0m4 7h0m3 14h0m4-18h0m3 1h0m4 16h0m3-15h0m3 5h0m4 11h0m3-11h0m4-5h0m3 18h0m4-7h0m3-11h0m4 6h0m3 4h0m4-9h0m3 8h0m4-11h0m3 8h0m4 7h0m3-8h0m3-6h0m4 10h0m3-2h0m4 8h0m3-8h0m4-3h0m3 14h0m4-5h0m3-11h0m4 14h0m3-8h0m4-8h0m3 12h0m4-3h0m3-4h0m3 11h0m4 5h0m3-16h0m4 11h0m3-3h0m4-7h0m3 18h0m4-10h0m3 2h0m4 10h0m3-13h0m4-1h0m3 16h0m4 0h0m3-13h0m3 10h0m4 1h0m3-12h0m4 1h0m3 23h0m4-22h0m3 5h0m4 5h0m3-20h0m4 3h0m3 6h0m4-10h0m3-1h0m4 7h0m3 5h0m3-11h0m4-4h0m3 14h0m4-11h0m3 8h0m4 9h0m3-16h0m4 7h0m3-1h0m4-9h0m3 3h0m4 10h0m3-18h0m4 10h0m3 5h0m3-23h0m4 20h0m3 2h0m4-23h0m3 18h0m4-6h0m3-7h0m4 0h0m3 6h0m4-4h0m3-16h0m4 14h0m3 0h0m4-10h0m3 2h0m3 8h0m4-10h0m3-2h0m4 6h0m3-6h0m4 0h0m3 18h0m4-9h0m3-13h0m4 24h0m3-9h0m4-16h0m3 18h0m4 5h0m3-10h0m3 7h0m4 14h0m3-24h0m4 2h0m3 29h0m4-19h0m3-15h0m4 30h0m3-13h0m4-13h0m3 26h0m4-10h0m3-13h0m4 20h0m3-6h0m3-19h0m4 10h0m3 7h0m4-17h0m3 14h0m4 10h0m3-24h0m4 1h0m3 20h0m4-17h0m3-6h0m4 4h0m3 4h0m4-15h0m3 1h0m3 22h0m4-13h0m3-8h0m4 19h0m3-19h0m4-12h0m3 25h0m4 1h0m3-16h0m4 13h0m3 2h0m4-18h0m3 12h0m4-4h0m3-7h0m3-1h0m4 5h0m3-17h0m4 1h0m3 2h0m4-7h0m3-8h0m4 10h0m3-7h0m4-5h0m3-2h0m4 2h0m3-7h0m4-12h0m3 4h0m3-4h0m4-9h0m3 8h0m4 8h0m3-11h0m4-3h0m3 13h0m4-7h0m3-3h0m4 2h0m3 7h0m4-9h0m3-1h0m4 17h0m3-2h0m3-15h0m4 18h0m3-3h0m4-15h0m3 14h0m4 3h0m3-15h0m4-5h0m3 25h0m4-10h0m3-10h0m4 14h0m3-9h0m4 11h0m3-9h0m3-14h0m4 14h0m3 9h0m4-13h0m3-1h0m4 23h0m3-11h0m4-17h0m3 30h0m4-3h0m3-15h0m4-7h0m3 24h0m4-7h0m3-15h0m3 20h0m4 8h0m3-15h0m4-1h0m3 16h0m4-4h0m3 8h0m4-2h0m3 1h0m4 4h0m3-4h0m4-5h0m3 5h0m4-3h0m3 0h0m3-1h0m4 10h0m3 2h0m4-13h0m3 21h0m4-8h0m3 0h0m4 4h0m3 9h0m4-13h0m3-1h0m4 28h0m3-16h0m4-14h0m3 37h0m3-17h0m4-16h0m3 33h0m4-3h0m3-20h0m4 1h0m3 32h0m4-24h0m3-2h0m4 25h0m3-21h0m4-2h0m3 23h0m4-21h0m3-8h0m3 29h0m4-16h0m3-10h0m4 23h0m3-20h0m4-4h0m3 21h0m4-6h0m3-13h0m4 13h0m3-3h0m4-12h0m3 38h0m4-14h0m3-17h0m3 20h0m4 2h0m3-21h0m4 7h0m3 16h0m4-17h0m3 20h0m4 3h0m3-26h0m4 10h0m3 15h0m4-13h0m3-8h0m4 22h0m3-24h0m3 12h0m4 14h0m3-23h0m4 2h0m3 23h0m4-14h0m3-10h0m4 32h0m3-25h0m4-3h0m3 10h0m4-2h0m3-8h0m4 19h0m3-14h0m3-11h0m4 32h0m3-8h0m4-13h0m3 22h0m4-21h0m3-5h0m4 28h0m3-15h0m4-9h0m3 26h0m4-20h0m3-6h0m4 24h0m3-5h0m3-23h0m4 28h0m3 4h0m4-24h0m3 25h0m4-10h0m3-24h0m4 17h0m3 7h0m4-19h0m3 4h0m4 9h0m3-8h0m4-3h0m3 14h0m3-21h0m4 13h0m3 11h0m4-18h0m3 6h0m4 1h0m3-10h0" fill="none" stroke="#00f" stroke-width="3.24" stroke-linecap="round"/>
<path d="M69.5 252.5h0m3 9h0m4 8h0m3-4h0m3 8h0m4-7h0m3-10h0m4 13h0m3 4h0m4-4h0m3 5h0m4 11h0m3-20h0m4-9h0m3 16h0m4 4h0m3-14h0m4 10h0m3 7h0m3-9h0m4-3h0m3 10h0m4-16h0m3 15h0m4 5h0m3-15h0m4 2h0m3 18h0m4-15h0m3-8h0m4 19h0m3-9h0m4-10h0m3 13h0m3-14h0m4 8h0m3 10h0m4-14h0m3-4h0m4 14h0m3-6h0m4 9h0m3-7h0m4-4h0m3 22h0m4-17h0m3-10h0m4 11h0m3-4h0m3-9h0m4 15h0m3-1h0m4-6h0m3 13h0m4-6h0m3-9h0m4 19h0m3-10h0m4-6h0m3 19h0m4-7h0m3-2h0m4 8h0m3-12h0m3 3h0m4 16h0m3-5h0m4-12h0m3 13h0m4 4h0m3-21h0m4 16h0m3 9h0m4-23h0m3 18h0m4-7h0m3-21h0m4 10h0m3 3h0m3-9h0m4-1h0m3 9h0m4 1h0m3-15h0m4 9h0m3 0h0m4-4h0m3 13h0m4 1h0m3-17h0m4 9h0m3 2h0m4-13h0m3 8h0m3 1h0m4-7h0m3 4h0m4 4h0m3-15h0m4 21h0m3-9h0m4-20h0m3 24h0m4-11h0m3-12h0m4 19h0m3-6h0m4-10h0m3 0h0m3 5h0m4-4h0m3-8h0m4 1h0m3 7h0m4-12h0m3 2h0m4 12h0m3-21h0m4 11h0m3 11h0m4-14h0m3 0h0m4 29h0m3-23h0m3-10h0m4 24h0m3-7h0m4-5h0m3 12h0m4 6h0m3-20h0m4 7h0m3 23h0m4-27h0m3 7h0m4 21h0m3-21h0m4-2h0m3 20h0m3-18h0m4-6h0m3 22h0m4-9h0m3-21h0m4 20h0m3-5h0m4-16h0m3 18h0m4 7h0m3-23h0m4 13h0m3 11h0m4-20h0m3-1h0m3 7h0m4-5h0m3-6h0m4-4h0m3 22h0m4-20h0m3 3h0m4 16h0m3-29h0m4 2h0m3 32h0m4-21h0m3-6h0m4 15h0m3-6h0m3-12h0m4 13h0m3-10h0m4-3h0m3 2h0m4 2h0m3-21h0m4 6h0m3-4h0m4-1h0m3-9h0m4 5h0m3 1h0m4-11h0m3 6h0m3 4h0m4-22h0m3-4h0m4 6h0m3-13h0m4-3h0m3 18h0m4-5h0m3-4h0m4-3h0m3 10h0m4-8h0m3-5h0m4 7h0m3 2h0m3-8h0m4 4h0m3 17h0m4-6h0m3-15h0m4 25h0m3-10h0m4-16h0m3 16h0m4-3h0m3-12h0m4 2h0m3 23h0m4-9h0m3-15h0m3 4h0m4 5h0m3 2h0m4 4h0m3-10h0m4 19h0m3-4h0m4-19h0m3 7h0m4 12h0m3-6h0m4-19h0m3 36h0m4-7h0m3-24h0m3 15h0m4 19h0m3-17h0m4-10h0m3 25h0m4 0h0m3-14h0m4 4h0m3 17h0m4-7h0m3 3h0m4 3h0m3-4h0m4 10h0m3-4h0m3-9h0m4 8h0m3-13h0m4 7h0m3 1h0m4 17h0m3-7h0m4-7h0m3 17h0m4-8h0m3-2h0m4 17h0m3-6h0m4-9h0m3 3h0m3 19h0m4-18h0m3-1h0m4 32h0m3-25h0m4-12h0m3 36h0m4-15h0m3-16h0m4 23h0m3 14h0m4-30h0m3 24h0m4 5h0m3-20h0m3 10h0m4 12h0m3-25h0m4 0h0m3 18h0m4-15h0m3 0h0m4 9h0m3-10h0m4-2h0m3 18h0m4-12h0m3-3h0m4 18h0m3-13h0m3-5h0m4 34h0m3-18h0m4-12h0m3 27h0m4-7h0m3-22h0m4 21h0m3-3h0m4-14h0m3 30h0m4-8h0m3-25h0m4 27h0m3 1h0m3-18h0m4 6h0m3 11h0m4-29h0m3 29h0m4 5h0m3-27h0m4 17h0m3 6h0m4-20h0m3 11h0m4 24h0m3-33h0m4 8h0m3 8h0m3-8h0m4 0h0m3 13h0m4-19h0m3 2h0m4 20h0m3-8h0m4 4h0m3 8h0m4-28h0m3 13h0m4 20h0m3-20h0m4 7h0m3 10h0m3-18h0m4 2h0m3 16h0m4-4h0m3-16h0m4 28h0m3-3h0m4-18h0m3 21h0m4-17h0m3-17h0m4 21h0m3 4h0m4-25h0m3 6h0m3 15h0m4-16h0m3 6h0m4 12h0m3-20h0m4 12h0m3 11h0m4-18h0m3 3h0m4 3h0m3-14h0" fill="none" stroke="#00f" stroke-width="3.24" stroke-linecap="round"/>
</g>
<path d="M66.5 311.5v5M222.5 311.5v5M378.5 311.5v5M534.5 311.5v5M690.5 311.5v5M846.5 311.5v5M1002.5 311.5v5M1158.5 311.5v5M1314.5 311.5v5M66.5 198.5h-5M66.5 255.5h-5" stroke="#000" stroke-width="1.11" fill="none"/>
<rect x="66.5" y="174.5" width="1248" height="137" fill="none" stroke="#000" stroke-width="1.11"/>
</g>
<g id="panel2">
<path d="M66.5 339.5V476.5M222.5 339.5V476.5M378.5 339.5V476.5M534.5 339.5V476.5M690.5 339.5V476.5M846.5 339.5V476.5M1002.5 339.5V476.5M1158.5 339.5V476.5M1314.5 339.5V476.5M66.5 380.5H1314.5M66.5 439.5H1314.5" stroke="#b0b0b0" stroke-width="1.11" fill="none"/>
<g clip-path="url(#c2)">
<path d="M66 405.1l.9 .6l.8 10.6l.9 7.1l.9 7.1l.8 2.9l.9-4.1l.9-4.7l.8-8.6l.9 3.3l.9-2.6l.8-1.6l.9-1.7l.9 .8l.8 2.7l.9 6.5l.9 2.8l.8 2.3l.9-6.9l.9-5.9l.8-1.7l.9 3.5l.9 5.3l.8-2.6l.9-.7l.9-.8l.8 4.7l.9 7.1l.9 2l.8-.9l.9-1.1l.9-6.5l.8-5.3l.9-2.4l.9 8.9l.8-3.3l.9-2.6l.9-3l.8 1.5l.9 2.4l.9 4.4l.8 6.5l.9 2.1l.9-3.9l.8-10.6l.9-4.7l.9-3.6l.8-2.4l.9 5.4l.9 3.5l.8 6.2l.9-2.9l.9 5.2l.8 5.9l.9 3.1l.9 0l.8-8.6l.9-3.6l.9-2.7l.8 .7l.9-1.3l.9-2.2l.8-1.2l.9 4.7l.9 7.1l.8 5.9l.9 3.2l.9-3.2l.8-5.9l.9 2l.9 1.2l.8-4.1l.9-8.1l.9-2.6l.8 1.8l.9 1.7l.9 1l.8 6.2l.9 8.8l.9-4.7l.8-2l.9 1.9l.9 2.1l.8 .7l.9-5.8l.9-5.5l.8 .1l.9 .6l.9 2l.8 7.1l.9 7.9l.9 .1l.8 .6l.9-.9l.9-6l.8-.9l.9-5.2l.9-1.5l.8-5.3l.9 .1l.9 .1l.8 5.1l.9 5.5l.9 5.1l.8-.8l.9 1.4l.9 1.6l.8 1.7l.9-5.9l.9-5.1l.8-2.9l.9-4.8l.9-2.9l.8 3.9l.9 7.9l.9 2l.8 3.9l.9 3.2l.9 .3l.8 1.6l.9-1.1l.9-.8l.8-3.2l.9-9.8l.9 0l.8 3.9l.9 2.9l.9 3l.8 3l.9-1.8l.9 5.1l.8 .1l.9-.1l.9-3.9l.8-4.4l.9 .2l.9-.6l.8 5.6l.9 3.9l.9 2.7l.8-3.1l.9-1.8l.9-1.7l.8 1.9l.9-.4l.9-.8l.8-5.9l.9-3.1l.9-1.2l.8 3.9l.9 2.7l.9 2.9l.8 5.1l.9 7.1l.9-6.3l.8 3.9l.9-7.1l.9-1.5l.8-1.4l.9-2.8l.9-2.6l.8 3l.9 4.5l.9 4l.8-.2l.9 .2l.9-9.1l.8-2.4l.9 3.6l.9 1l.8 1.7l.9 .8l.9-1.4l.8-.1l.9 4.2l.9 2.4l.8-3.9l.9-3.9l.9-5.2l.8-2l.9-1.5l.9 2.8l.8 4.7l.9 9.2l.9 .6l.8-.6l.9 1.9l.9 2.3l.8-.7l.9-1.3l.9-9.8l.8 5.5l.9 1.8l.9 1.5l.8-4.1l.9 .6l.9-.3l.8 4.4l.9 2l.9 4.5l.8-7.3l.9-3l.9-2.9l.8 .1l.9-.8l.9 2.7l.8 .4l.9 .8l.9 1.7l.8 0l.9 .9l.9-.3l.8 1.8l.9-9.2l.9-1.7l.8-.7l.9 5.5l.9-5.5l.8-2.8l.9 4.3l.9 4l.8 3.5l.9 2.6l.9 3l.8-3.6l.9-2.4l.9-2.7l.8-7.5l.9 1.6l.9 1.1l.8 1.6l.9 2.3l.9 2.5l.8 1.1l.9 .1l.9 3.5l.8-3.9l.9-4l.9-7.1l.8-1.2l.9 2.4l.9 2l.8 2.7l.9-2.8l.9-4.3l.8 2.8l.9 2.2l.9 1.7l.8-7l.9-.7l.9-.4l.8-.5l.9 4.7l.9-2l.8 7.5l.9 1.4l.9 2.6l.8-6.7l.9 2.1l.9 1.8l.8 6.7l.9-17.7l.9-2.3l.8-1.9l.9-3.3l.9 2.4l.8 2.7l.9 1.1l.9 .1l.8 8.6l.9 1.5l.9 2.3l.8 4.7l.9-2.1l.9-9.9l.8-3.9l.9 2.3l.9 2.4l.8-2.3l.9-3.3l.9-4.4l.8 9.2l.9 6.7l.9 5.3l.8-.2l.9 .2l.9-4.5l.8-5.9l.9-11.4l.9-4.4l.8 1.7l.9 1.5l.9 3.9l.8 3.2l.9 8.2l.9 4.8l.8-2.7l.9-2.6l.9-3l.8-7.7l.9-2.4l.9-2.9l.8 6.3l.9 2l.9 4.7l.8 5.1l.9 2.1l.9 2.6l.8 4.4l.9-7.5l.9-.6l.8-.2l.9-.3l.9-.5l.8-5.1l.9-.8l.9 1.1l.8 .9l.9 5.1l.9 1.1l.8 2.4l.9-1.4l.9-1.3l.8 0l.9-.4l.9-4.7l.8-5l.9-.8l.9-.1l.8-.8l.9 1.3l.9-.1l.8 4.7l.9 4.7l.9-.8l.8 4.7l.9 3.2l.9-1.9l.8-2l.9-5.9l.9-3.6l.8-4.3l.9-2l.9 6.3l.8 2.8l.9 .2l.9 .8l.8-.2l.9-2.6l.9-3.8l.8-6.8l.9 .6l.9 1.5l.8-4.3l.9-3.7l.9 2.9l.8 6.7l.9 2.4l.9 1.9l.8 2.6l.9-.3l.9-.3l.8-9.8l.9 3.1l.9-.9l.8 2.3l.9-4.7l.9-15l.8 17.4l.9 .2l.9 .6l.8 5.9l.9 3.9l.9-3l.8-6.1l.9 1.4l.9 1l.8-5.1l.9-4.4l.9 4.4l.8 6.5l.9 2.6l.9 1.9l.8-2.9l.9-2.6l.9-3.5l.8-1l.9-1.6l.9 2.9l.8-5.5l.9-4.3l.9 5.5l.8 7.1l.9 6.7l.9 2.4l.8 2.9l.9-5.9l.9-5.7l.8-6.7l.9-5.9l.9-1.7l.8-1.5l.9 3.2l.9 5.1l.8 1.5l.9 2.3l.9 10l.8 3.2l.9-7.1l.9-9.1l.8-3.9l.9-1.2l.9 2.2l.8 .9l.9 2.6l.9 2.9l.8 2.8l.9 2.6l.9 1.7l.8 4.8l.9 0l.9 .8l.8-6.2l.9-12l.9-3.9l.8 0l.9 4.7l.9 .4l.8 .2l.9 2.3l.9 2.2l.8 3.8l.9 3.5l.9 3.8l.8 1.2l.9-8.5l.9-4.5l.8 1.2l.9-.3l.9-1.3l.8-2.8l.9 13l.9-9.1l.8 1.3l.9 1.9l.9 3.5l.8-.9l.9-.6l.9-.6l.8-.6l.9 .3l.9 .1l.8 .6l.9-8.9l.9 0l.8 2.3l.9 .9l.9 3.1l.8 2.4l.9 1.9l.9 2.4l.8-.7l.9-1.7l.9-1.5l.8-3.2l.9-2.4l.9 11.5l.8-18.2l.9 2.4l.9 4.7l.8 2.8l.9 7.1l.9 .2l.8-.2l.9-5.9l.9-3.8l.8-7.3l.9 3.2l.9-9.1l.8 1.3l.9 1.1l.9 3.5l.8-1.9l.9 11l.9 6.3l.8-.5l.9-.3l.9-.4l.8-5.1l.9-11.8l.9-7.1l.8-5.9l.9 2.7l.9 1.2l.8 7.9l.9 3.6l.9 2.7l.8 5.9l.9 4l.9 0l.8-5.2l.9-5.9l.9-11l.8-1.4l.9-1.8l.9-13.7l.8 11.8l.9 1.9l.9 6.2l.8-6.2l.9 6.4l.9 4.7l.8 0l.9-4l.9-4.7l.8-3.9l.9-6.3l.9-4.7l.8 .3l.9 1.9l.9 1.7l.8 4.7l.9 12.2l.9 .8l.8 2l.9-.8l.9-.6l.8-7.3l.9-3.9l.9-9.1l.8-9.8l.9-2.4l.9 8.3l.8 4.3l.9 3.4l.9 10l.8 6.3l.9 3.5l.9-4.5l.8-.2l.9-11l.9-7.9l.8-9.2l.9-3.8l.9-1.2l.8 5.9l.9 8.6l.9 3.2l.8 5.1l.9 1.8l.9 .6l.8-4.2l.9-10l.9-7.9l.8-8l.9 2.9l.9 3l.8-1.8l.9 8.6l.9 6.2l.8 3.3l.9 4.3l.9 1.6l.8-8.3l.9-4.7l.9-9.2l.8-.6l.9-.3l.9 1.1l.8-.8l.9 1.7l.9 1.8l.8 3.2l.9 3.9l.9 10l.8 3.8l.9 4.3l.9-10.2l.8-4.9l.9-7.4l.9-3l.8-1.7l.9 1.7l.9 .7l.8 2.8l.9 7.1l.9 5.9l.8 2.1l.9-4.5l.9-3.7l.8-6.9l.9-1.2l.9-2l.8-3.5l.9-4.4l.9 2l.8 9.1l.9 3.1l.9 5.5l.8 3.2l.9-.9l.9-.8l.8-.6l.9-8.8l.9-3.9l.8 1.2l.9-8.6l.9-3.6l.8 4.4l.9 3.7l.9 10l.8 1.5l.9 3.6l.9 .1l.8-.1l.9-2.2l.9-2.3l.8-1.4l.9 1.4l.9-5.3l.8-10.3l.9 .8l.9 .4l.8 7.9l.9 5.9l.9 3.9l.8 2.8l.9-3.7l.9-2.2l.8 2.4l.9 4.5l.9-.4l.8 .6l.9-8.7l.9-13l.8-3.1l.9 5.9l.9 3.1l.8 3.2l.9 5.1l.9-2.2l.8 2.4l.9 2.4l.9-3.8l.8-4.3l.9-8.7l.9-1.3l.8-2.6l.9 9.8l.9 8.7l.8 7.1l.9-.5l.9-.3l.8-.4l.9 5.5l.9-11.4l.8-4l.9-9.8l.9-13l.8 1.9l.9 1.1l.9 2.3l.8 3.8l.9 10.2l.9 7.3l.8 1.8l.9-.4l.9-3.8l.8-1.7l.9-3.2l.9-8.1l.8-2.9l.9-7.1l.9-1.2l.8 5.9l.9 5.3l.9 8.1l.8 6.7l.9 3.9l.9-11.8l.8 4l.9-9.1l.9-.3l.8-3.8l.9 .3l.9 1.4l.8 1.8l.9 4.5l.9 3.2l.8 .5l.9 1.5l.9-2l.8 1.1l.9 .9l.9-4l.8 0l.9-2l.9-1.9l.8-1.2l.9 4.3l.9 4.8l.8 4.7l.9 4.3l.9 2.3l.8 3.8l.9-.7l.9-1.4l.8-3.2l.9-3.5l.9-2.4l.8-5.9l.9 5.1l.9 4.7l.8 5l.9-3.8l.9 0l.8 2.6l.9 12.4l.9 .3l.8-8.3l.9-.2l.9-.4l.8-7.1l.9 .6l.9 3.2l.8 3.3l.9-2l.9-1.3l.8-3.2l.9 2.4l.9 5l.8 3.2l.9 1.2l.9 1.2l.8-10.6l.9-1.4l.9-.4l.8 .6l.9-.3l.9 .3l.8 2l.9 3.5l.9 3.3l.8 7.1l.9 3l.9 .7l.8 .1l.9-3.8l.9 .9l.8 1.3l.9-2.4l.9-2.3l.8-2.4l.9 2l.9 4.1l.8 4.7l.9-1.4l.9-1.5l.8 2.7l.9 2.4l.9 0l.8-2.4l.9-4.7l.9-8.3l.8-2.4l.9-2.7l.9 3.8l.8 3.7l.9 4l.9 3.9l.8-3.2l.9-.6l.9-1.3l.8 2.7l.9 2.4l.9-2.4l.8-5.5l.9-5.9l.9 .3l.8-.3l.9 1.9l.9 1.8l.8 2.4l.9-.4l.9-1l.8 2.8l.9 .9l.9 .3l.8 3.3l.9-4.9l.9-2.4l.8-2.2l.9-.9l.9-4l.8 1.3l.9 1.3l.9 5.3l.8-4.4l.9 2.4l.9 3.2l.8 3.2l.9 3.1l.9-2.8l.8-2.7l.9-8.7l.9-3.1l.8-6.7l.9-2.4l.9 3l.8 .8l.9 .9l.9 2l.8 2.8l.9 6.7l.9 1.9l.8 0l.9-4.7l.9-8.3l.8-5.1l.9-3.5l.9-4.4l.8 2.8l.9 5.5l.9 3.2l.8 3.5l.9 6.5l.9 4.7l.8-2.9l.9-4.4l.9-7.8l.8-1.3l.9-1.1l.9-2l.8-7.6l.9 5.3l.9 7.4l.8 5l.9-1.8l.9 3.2l.8 1.9l.9 2l.9 4.1l.8-2.5l.9-2.8l.9 3.6l.8-23.3l.9-1l.9-5.3l.8 1.7l.9 1.5l.9 6.3l.8 2.7l.9 0l.9 2l.8 3.5l.9 2.4l.9 3.2l.8-.8l.9-13.4l.9-2.8l.8 9.9l.9 3.9l.9-2l.8-8.5l.9-7.2l.9 3.2l.8-1.4l.9 6.8l.9 7.1l.8-4.3l.9-7.5l.9-1.2l.8-1.2l.9 10.3l.9 5.9l.8 5.1l.9-9l.9-2l.8-4.1l.9-6.2l.9-6.8l.8 0l.9 6.8l.9-4.7l.8 1.6l.9 8.3l.9 3.9l.8 3.2l.9 7.8l.9-7.8l.8-2.8l.9-3.3l.9-13l.8-2l.9-2.2l.9 1l.8 .2l.9 4.1l.9 1.8l.8 1.6l.9 3.7l.9 5.9l.8 7l.9 3.9l.9-7.9l.8-11l.9-11.8l.9-5.9l.8 4.3l.9 .4l.9 .8l.8 2.2l.9 9.2l.9-13.4l.8 16.2l.9 4.2l.9 4.8l.8 2l.9-3.9l.9-.2l.8-8.1l.9-9.7l.9-2.3l.8-5l.9-4.5l.9 .6l.8 12.2l.9 5.9l.9 7.9l.8 3.2l.9-.2l.9 .2l.8-2.8l.9-37.4l.9 22.2l.8-7.1l.9-3.3l.9-5.5l.8 2.9l.9 4.8l.9 10l.8-1.8l.9 5.7l.9 1.3l.8 1.1l.9 0l.9-4.8l.8-2l.9-2.7l.9-4.7l.8-5.1l.9 .4l.9 .4l.8 3.1l.9 8.3l.9-7.1l.8-5.1l.9-.8l.9 2.8l.8 6.3l.9-.5l.9-1.3l.8-.9l.9 12.5l.9-15.7l.8 .3l.9-21.6l.9 22.5l.8 3.1l.9 2.4l.9-6.7l.8-2.4l.9 4.3l.9 5.2l.8-3.9l.9-1.8l.9-1.4l.8 8.6l.9 1.7l.9 2.3l.8 0l.9-6.1l.9-2.3l.8-1.5l.9 1.3l.9 1.9l.8 1.5l.9 6.2l.9 8l.8-8.6l.9 4.7l.9 2.7l.8-5.9l.9 3.2l.9-.8l.8-.4l.9-.8l.9-8l.8 .5l.9-7.6l.9 5.3l.8 .4l.9 1.1l.9 1.4l.8 5.9l.9 3.2l.9 3.3l.8-.1l.9-.5l.9-7l.8-8.9l.9-.8l.9 .8l.8 6.5l.9 2.4l.9-3l.8-2.9l.9 0l.9 8.8l.8 .7l.9 .8l.9 1.7l.8-5l.9-10l.9-7.9l.8 6.7l.9 6.3l.9 1.6l.8 2.4l.9 1.9l.9 3.2l.8 1.5l.9 4.7l.9 3.6l.8-4.5l.9-4.5l.9-4l.8-13l.9-3.1l.9 3.1l.8 5.5l.9 1.6l.9 3.2l.8 2.7l.9 5.5l.9 3.9l.8 5.6l.9-3.9l.9-15l.8-12.2l.9-2.9l.9-3l.8 11l.9 3l.9 4.9l.8 9l.9 5.2l.9 4.7l.8 2.4l.9 1.9l.9-11.4l.8-13.8l.9-7.9l.9-1l.8-1.1l.9 0l.9 5.3l.8 7.7l.9 6.1l.9 .9l.8 6.9l.9 5.2l.9 3.1l.8-3.5l.9-3.6l.9-13l.8-13l.9-3.6l.9 .1l.8-.8l.9 5.2l.9 12.4l.8 6.7l.9 7.8l.9 5.2l.8-2.8l.9-4.3l.9-16.2l.8-.7l.9-2.5l.9-1.4l.8-2.1l.9 0l.9 7.9l.8 5.9l.9 6.3l.9 4.7l.8 5.2l.9-3.2l.9-9.1l.8-11l.9-3.5l.9 2.5l.8 2.2l.9 5.1l.9 7.6l.8 2.3l.9 9l.9 3.8l.8 4.5l.9-3.1l.9-3.2l.8-11.8l.9-10.3l.9-.9l.8 7.1l.9-1l.9 3.9l.8 3.9l.9 8.7l.9 6.3l.8 3.2l.9-6.1l.9-2.4l.8-9.7l.9-3.2l.9-3.6l.8 8l.9 .8l.9 3.9l.8 5.2l.9 4.3l.9 1.8l.8 1l.9 3.9l.9-3.2l.8-3.1l.9-9.9l.9-5.7l.8 2.4l.9 2.4l.9 1.9l.8 1.4l.9 7.1l.9 4.7l.8 .2l.9 1l.9 2l.8-2l.9-5.1l.9-3.9l.8-7.9l.9 3.2l.9-3.6l.8 7.1l.9 5.9l.9 4.3l.8 4.7l.9-.1l.9 .1l.8-7.1l.9-14.5l.9-9.1l.8-.5l.9-.7l.9 14.2l.8 3.5l.9 4.3l.9 4l.8 2.2l.9 1.8l.9 1.9l.8-1.7l.9-2.2l.9-11l.8-7.9l.9 1.5l.9 .9l.8-.7l.9-.9l.9 4.3l.8 9.9l.9 8.6l.9 4.4l.8-4.4l.9-2.3l.9-10.3l.8-4.7l.9-.2l.9-1l.8 2l.9 5.5l.9 3.7l.8 3.6l.9 5.9l.9 1.2l.8 1.1l.9-10l.9-18.1l.8 3.9l.9 .1l.9-.1l.8 3.6l.9 2.3l.9 11l.8 10.3l.9 3.9l.9 1.3l.8 1l.9-5.4l.9-4l.8-11.8l.9-3.9l.9-.3l.8 .3l.9 1.8l.9 5.3l.8 2.9l.9 3.8l.9 5.1l.8 7.1l.9 .8l.9-2l.8-5.9l.9-10.3l.9-6.8l.8 3.7l.9 .4l.9 4.7l.8 8.3l.9 6.7l.9 6.9l.8 1.4l.9-4l.9-11l.8-7.5l.9-4.3l.9 0l.8 0l.9 0l.9 3.9l.8 5.9l.9 9.9l.9 3.9l.8 2.4l.9-5.4l.9-8.8l.8-7.5l.9-1.6l.9-.9l.8-1.2l.9 3.7l.9 7.5l.8 1.4l.9 1.3l.9 10.3l.8 3.2l.9 1.9l.9-5.5l.8-5.9l.9-12.6l.9-5.9l.8-3.2l.9-2.4l.9 5.6l.8 6.7l.9 11l.9 5.9l.8 3l.9-1.8l.9-1.2l.8-1.8l.9-3.3l.9-3.5l.8-1.5l.9-.9l.9-1.2l.8 2.2l.9 4.1l.9 2.7l.8 6.2l.9 3.3l.9-1.4l.8-1.9l.9-13l.9-5l.8 1.2l.9 17l.9-5l.8 1.1l.9 .7l.9 5.1l.8 3.2l.9 2l.9 3.1l.8-4.3l.9-8.7l.9-11l.8-2.4l.9 .5l.9 .3l.8 4.8l.9-.5l.9 5.9l.8 9.6l.9 4.3l.9 4l.8-8.7l.9-9.2l.9-7.1l.8-3.8l.9 3.2l.9 4.7l.8 3.9l.9 7.1l.9 9.9l.8 1.9l.9 3.2l.9-7.1l.8-11l.9-11.8l.9-.4l.8-.8l.9-1.2l.9 6l.8 2.7l.9 4.7l.9 9.8l.8 7.1l.9-3.2l.9-1.9l.8-9.8l.9-8.3l.9-3l.8-1.7l.9 1.8l.9 2.1l.8 2.4l.9 4.3l.9 8.1l.8 2.1l.9 5l.9 4.9l.8-3.2l.9-18.9l.9-4.7l.8-.2l.9 1l.9 .2l.8-.2l.9 2.4l.9 3.1l.8 6.7l.9 9.8l.9 4l.8-1.6l.9-4.3l.9-9.9l.8-5.9l.9-4.5l.9-.9l.8 1.6l.9 1.1l.9 9.8l.8 3.6l.9 3.5l.9 2.8l.8-2.8l.9-3.9l.9-6.3l.8-5.6l.9-1.7l.9-1l.8 5.9l.9 2.4l.9 5.9l.8 5.9l.9 9l.9 2.4l.8-1.5l.9-.9l.9-9.8l.8-2l.9-4.3l.9-4.7l.8-3.2l.9 1.5l.9 3.6l.8 8.3l.9 5.9l.9 4.9l.8 1l.9-3.1l.9-4.4l.8-.5l.9-.3l.9-.7l.8-7.1l.9-2.1l.9-1.9l.8 5l.9 2.1l.9 1.6l.8 5.5l.9-5.1l.9 1.3l.8 .5l.9-2.6l.9 .3l.8-.3l.9-8.7l.9-2.9l.8 5.3l.9 9.1l.9 4.7l.8-3.2l.9-1.4l.9-1.8l.8-3.5l.9-3.1l.9-3.2l.8-2l.9-1.7l.9-1.6l.8 5.3l.9 2.4l.9 7.9l.8 2.1l.9-.2l.9-5.9l.8 .8l.9-.3l.9 6.6l.8-7.1l.9-.7l.9-.3l.8-.9l.9 4.7l.9 6.3l.8 3.2l.9-.3" fill="none" stroke="#00f" stroke-width=".56" stroke-linejoin="round"/>
<path d="M66.5 405.5h0m3 25h0m4-14h0m3-3h0m4 13h0m3-12h0m4 6h0m3 13h0m4-14h0m3 0h0m4 6h0m3-6h0m4-6h0m3 12h0m4 1h0m3-7h0m3 8h0m4 0h0m3-9h0m4 2h0m3 8h0m4-1h0m3-2h0m4 15h0m3-13h0m4-6h0m3 15h0m4-2h0m3-15h0m4 17h0m3 4h0m3-13h0m4 12h0m3 4h0m4-9h0m3 9h0m4-2h0m3-11h0m4 15h0m3-3h0m4-8h0m3 11h0m4-7h0m3 2h0m4 2h0m3-12h0m3 17h0m4 3h0m3-4h0m4-2h0m3 3h0m4-6h0m3 5h0m4 3h0m3-6h0m4 0h0m3 5h0m4-11h0m3 8h0m4 1h0m3-10h0m3-3h0m4 0h0m3 3h0m4 10h0m3 3h0m4-25h0m3 6h0m4 18h0m3-14h0m4-8h0m3 21h0m4-21h0m3 3h0m4 13h0m3-16h0m3 10h0m4 15h0m3-9h0m4-5h0m3 9h0m4-3h0m3-10h0m4 5h0m3 11h0m4-13h0m3 3h0m4-2h0m3-9h0m4 2h0m3 7h0m3-8h0m4 0h0m3 10h0m4-6h0m3 1h0m4-1h0m3-3h0m4 3h0m3 6h0m4-20h0m3 8h0m4 9h0m3-12h0m4 9h0m3 9h0m3-22h0m4 6h0m3 12h0m4-8h0m3-4h0m4 7h0m3 2h0m4 0h0m3-5h0m4 9h0m3-7h0m4-6h0m3 14h0m4-17h0m3-3h0m3 19h0m4-7h0m3-22h0m4 16h0m3 4h0m4-20h0m3 6h0m4 5h0m3-19h0m4 0h0m3 19h0m4-12h0m3-13h0m4 24h0m3-13h0m3-22h0m4 23h0m3-12h0m4-10h0m3 17h0m4-7h0m3-9h0m4 6h0m3 21h0m4-25h0m3 4h0m4 10h0m3-14h0m4 4h0m3 10h0m3-14h0m4-6h0m3 18h0m4-4h0m3-16h0m4 15h0m3 1h0m4 7h0m3-19h0m4 10h0m3-4h0m4-3h0m3 15h0m4-10h0m3-20h0m3 24h0m4-4h0m3-21h0m4 18h0m3 3h0m4-13h0m3 10h0m4 2h0m3-5h0m4 6h0m3 15h0m4-9h0m3 1h0m4 4h0m3 4h0m3-3h0m4-4h0m3 12h0m4-11h0m3 3h0m4 16h0m3-2h0m4-5h0m3 9h0m4 4h0m3-18h0m4 9h0m3-2h0m4-2h0m3-4h0m3 2h0m4 8h0m3-11h0m4 4h0m3 5h0m4-12h0m3-9h0m4 7h0m3 4h0m4-22h0m3 15h0m4 4h0m3-12h0m4 10h0m3 5h0m3 3h0m4-28h0m3 10h0m4 12h0m3-7h0m4-14h0m3 15h0m4-14h0m3 13h0m4-20h0m3 4h0m4 23h0m3-27h0m4-3h0m3 12h0m3 8h0m4-24h0m3 13h0m4 11h0m3-10h0m4-21h0m3 26h0m4 1h0m3-26h0m4 12h0m3 7h0m4-10h0m3-9h0m4-1h0m3 8h0m3-5h0m4 4h0m3-2h0m4-2h0m3 12h0m4-8h0m3 17h0m4-7h0m3 1h0m4-9h0m3 9h0m4 5h0m3-16h0m4 3h0m3 11h0m3-21h0m4 17h0m3 11h0m4-10h0m3-7h0m4 13h0m3-9h0m4-8h0m3 23h0m4-3h0m3-24h0m4 20h0m3 16h0m4-34h0m3 1h0m3 33h0m4-25h0m3-6h0m4 25h0m3-18h0m4 6h0m3 23h0m4-13h0m3-5h0m4 22h0m3-15h0m4 2h0m3 15h0m4-1h0m3-11h0m3 15h0m4 2h0m3-14h0m4 14h0m3-3h0m4-25h0m3 26h0m4 5h0m3-20h0m4 4h0m3 18h0m4-17h0m3 10h0m4 12h0m3-25h0m3 17h0m4 17h0m3-25h0m4 7h0m3 19h0m4-18h0m3 2h0m4 24h0m3-27h0m4 4h0m3 22h0m4-24h0m3 10h0m4 16h0m3-22h0m3-6h0m4 26h0m3-8h0m4-7h0m3 15h0m4-13h0m3 9h0m4 10h0m3-8h0m4-13h0m3 20h0m4-10h0m3-3h0m4 23h0m3-26h0m3 3h0m4 24h0m3-23h0m4-1h0m3 17h0m4-12h0m3-4h0m4 12h0m3 8h0m4-21h0m3 16h0m4 0h0m3-15h0m4 20h0m3 9h0m3-20h0m4 10h0m3 8h0m4-5h0m3-7h0m4 4h0m3 0h0m4-7h0m3 10h0m4-12h0m3 0h0m4 12h0m3 1h0m4-9h0m3 14h0" fill="none" stroke="#00f" stroke-width="3.24" stroke-linecap="round"/>
<path d="M67.5 406.5h0m3 27h0m4-14h0m3-5h0m4 14h0m3-11h0m4 2h0m3 13h0m4-16h0m3 0h0m4 15h0m3-17h0m3 3h0m4 14h0m3-9h0m4-5h0m3 16h0m4-4h0m3-13h0m4 10h0m3 4h0m4-8h0m3 10h0m4 7h0m3-13h0m4 0h0m3 11h0m3-8h0m4-6h0m3 17h0m4 0h0m3-10h0m4 8h0m3 1h0m4 1h0m3 1h0m4-1h0m3-6h0m4 18h0m3-11h0m4-4h0m3 9h0m3-7h0m4 1h0m3-2h0m4-5h0m3 13h0m4 3h0m3-1h0m4 0h0m3-4h0m4-1h0m3 3h0m4-6h0m3-3h0m4 9h0m3 0h0m3-8h0m4 8h0m3-5h0m4-3h0m3-2h0m4-4h0m3 2h0m4 5h0m3-7h0m4-5h0m3 12h0m4 7h0m3-10h0m4 0h0m3 12h0m3-27h0m4 11h0m3 7h0m4-16h0m3 18h0m4 2h0m3-2h0m4-3h0m3 7h0m4-7h0m3-6h0m4 10h0m3 5h0m4-15h0m3 7h0m3-6h0m4-9h0m3 8h0m4 4h0m3-5h0m4-2h0m3 7h0m4-8h0m3 9h0m4-7h0m3-6h0m4 15h0m3-6h0m4-16h0m3 12h0m3-3h0m4-2h0m3 11h0m4 8h0m3-23h0m4 8h0m3 13h0m4-10h0m3 8h0m4-2h0m3-3h0m4-8h0m3 7h0m4 6h0m3-9h0m3 0h0m4 10h0m3-14h0m4-3h0m3 15h0m4-18h0m3-9h0m4 20h0m3-7h0m4-27h0m3 13h0m4 7h0m3-19h0m4 8h0m3 15h0m3-21h0m4 0h0m3 23h0m4-23h0m3-9h0m4 19h0m3-22h0m4-3h0m3 22h0m4-21h0m3 0h0m4 10h0m3 8h0m4-17h0m3 13h0m3-1h0m4-13h0m3 10h0m4 7h0m3-13h0m4-4h0m3 16h0m4-6h0m3-14h0m4 18h0m3 0h0m4-4h0m3-8h0m4 9h0m3-14h0m3 14h0m4 6h0m3-20h0m4-7h0m3 23h0m4-9h0m3-20h0m4 26h0m3-13h0m4-2h0m3 10h0m4 2h0m3-8h0m4 12h0m3 10h0m3-11h0m4 9h0m3 11h0m4-8h0m3 0h0m4-4h0m3 10h0m4-11h0m3 5h0m4 14h0m3-1h0m4-5h0m3 5h0m4 3h0m3-18h0m3 15h0m4-2h0m3-11h0m4 3h0m3 4h0m4 0h0m3-10h0m4 4h0m3 12h0m4-18h0m3-5h0m4 13h0m3-12h0m4-10h0m3 19h0m3-10h0m4-13h0m3 16h0m4 12h0m3-25h0m4-3h0m3 10h0m4 9h0m3-3h0m4-14h0m3 8h0m4 0h0m3 0h0m4-17h0m3 12h0m3 8h0m4-22h0m3 4h0m4 13h0m3-9h0m4-12h0m3-2h0m4 27h0m3-21h0m4-12h0m3 30h0m4-41h0m3 7h0m4 16h0m3 8h0m3-15h0m4-1h0m3-4h0m4 7h0m3-4h0m4 7h0m3 0h0m4 1h0m3-2h0m4 0h0m3 7h0m4 4h0m3-10h0m4-1h0m3 12h0m3-5h0m4-2h0m3-4h0m4 13h0m3-17h0m4 12h0m3 13h0m4-26h0m3 8h0m4 15h0m3-26h0m4 8h0m3 24h0m4-21h0m3-10h0m3 20h0m4 12h0m3-33h0m4 17h0m3 17h0m4-24h0m3 4h0m4 23h0m3-27h0m4 17h0m3 20h0m4-29h0m3 9h0m4 23h0m3-22h0m3 9h0m4 13h0m3-13h0m4 1h0m3 14h0m4-5h0m3-12h0m4 22h0m3-21h0m4 4h0m3 14h0m4-1h0m3-16h0m4 13h0m3 6h0m3-16h0m4 14h0m3-1h0m4-15h0m3 28h0m4 0h0m3-20h0m4 11h0m3 17h0m4-26h0m3 18h0m4 11h0m3-23h0m4 10h0m3 10h0m3-18h0m4 11h0m3 17h0m4-30h0m3 7h0m4 18h0m3-10h0m4-2h0m3 17h0m4-22h0m3 15h0m4 11h0m3-21h0m4 3h0m3 19h0m3-21h0m4 8h0m3 22h0m4-30h0m3 7h0m4 18h0m3-23h0m4 5h0m3 19h0m4-22h0m3 1h0m4 22h0m3-12h0m4-9h0m3 18h0m3-10h0m4-3h0m3 23h0m4-10h0m3-14h0m4 20h0m3-2h0m4-9h0m3 3h0m4 4h0m3-2h0m4 3h0m3-2h0m4-12h0m3 4h0m3 4h0m4 0h0m3 3h0" fill="none" stroke="#00f" stroke-width="3.24" stroke-linecap="round"/>
<path d="M68.5 416.5h0m3 13h0m4-12h0m3 0h0m4 5h0m3 1h0m4 0h0m3 7h0m3-5h0m4-7h0m3 15h0m4-23h0m3 13h0m4 11h0m3-14h0m4-5h0m3 21h0m4-6h0m3-13h0m4 18h0m3-2h0m4-11h0m3 18h0m3-7h0m4-13h0m3 11h0m4 8h0m3-13h0m4 4h0m3 10h0m4-4h0m3-3h0m4 10h0m3-9h0m4 9h0m3-3h0m4-6h0m3 3h0m3 9h0m4-7h0m3 2h0m4-5h0m3 4h0m4 4h0m3-11h0m4 4h0m3 11h0m4-9h0m3 4h0m4 7h0m3-9h0m4 3h0m3 3h0m3-9h0m4-4h0m3 15h0m4-6h0m3-3h0m4 6h0m3-12h0m4 6h0m3-2h0m4-6h0m3 9h0m4 0h0m3-12h0m4 0h0m3 12h0m3-5h0m4-2h0m3 8h0m4 1h0m3-20h0m4 17h0m3-4h0m4-6h0m3 14h0m4-2h0m3-6h0m4 7h0m3 0h0m4-10h0m3 0h0m3 8h0m4 5h0m3-16h0m4 10h0m3-14h0m4-6h0m3 14h0m4-7h0m3-1h0m4 4h0m3 0h0m4-7h0m3 16h0m4-10h0m3-9h0m3 22h0m4-16h0m3-6h0m4 19h0m3-16h0m4 4h0m3 10h0m4-1h0m3-11h0m4 5h0m3 13h0m4-12h0m3-1h0m4 6h0m3-1h0m3-9h0m4 9h0m3 2h0m4 4h0m3-8h0m4 1h0m3-17h0m4 4h0m3 17h0m4-25h0m3 6h0m4 17h0m3-23h0m4-5h0m3 9h0m3-4h0m4-15h0m3 20h0m4 2h0m3-30h0m4 13h0m3 16h0m4-29h0m3 10h0m4 11h0m3-31h0m4 13h0m3 16h0m4-23h0m3 2h0m3 18h0m4-7h0m3-10h0m4 17h0m3-13h0m4-12h0m3 20h0m4 1h0m3-20h0m4 14h0m3 5h0m4-4h0m3-14h0m4 20h0m3 1h0m3-21h0m4 9h0m3 7h0m4-18h0m3 23h0m4 5h0m3-39h0m4 10h0m3 18h0m4-16h0m3-6h0m4 24h0m3-17h0m4 0h0m3 10h0m3-5h0m4-5h0m3 18h0m4 5h0m3-16h0m4 11h0m3 16h0m4-16h0m3 5h0m4 3h0m3-5h0m4-2h0m3 9h0m4 11h0m3-4h0m3 2h0m4 4h0m3-5h0m4-9h0m3 8h0m4 3h0m3-13h0m4 6h0m3 2h0m4-4h0m3-5h0m4 4h0m3 7h0m4-21h0m3 2h0m3 13h0m4-18h0m3 1h0m4 18h0m3-17h0m4-5h0m3 14h0m4 5h0m3-23h0m4 4h0m3 8h0m4-9h0m3 9h0m4-14h0m3 3h0m3 13h0m4-10h0m3-6h0m4 9h0m3 1h0m4-21h0m3 7h0m4 19h0m3-27h0m4-1h0m3 15h0m4 7h0m3-21h0m4 4h0m3 16h0m3-17h0m4-13h0m3 18h0m4-2h0m3-15h0m4 13h0m3-11h0m4 4h0m3-25h0m4 22h0m3 3h0m4 7h0m3-6h0m4 3h0m3 10h0m3 0h0m4-9h0m3-1h0m4 14h0m3-17h0m4 9h0m3 3h0m4-1h0m3-5h0m4 9h0m3 5h0m4-25h0m3 14h0m4 17h0m3-34h0m3 16h0m4 22h0m3-32h0m4 4h0m3 21h0m4 1h0m3-29h0m4 24h0m3 5h0m4-20h0m3 11h0m4 13h0m3-21h0m4 17h0m3 15h0m3-27h0m4 14h0m3 12h0m4-19h0m3 18h0m4 11h0m3-21h0m4 8h0m3 13h0m4-9h0m3-2h0m4 15h0m3-30h0m4 16h0m3 12h0m3-13h0m4-6h0m3 22h0m4-13h0m3-3h0m4 18h0m3-25h0m4 7h0m3 27h0m4-7h0m3-15h0m4 14h0m3 10h0m4-19h0m3 20h0m3-6h0m4-12h0m3 20h0m4-8h0m3-12h0m4 14h0m3 10h0m4-27h0m3 20h0m4 6h0m3-10h0m4 4h0m3 11h0m4-18h0m3 13h0m3 14h0m4-27h0m3 5h0m4 24h0m3-29h0m4 19h0m3 8h0m4-24h0m3 12h0m4 12h0m3-22h0m4 10h0m3 20h0m4-27h0m3 4h0m3 23h0m4-22h0m3-2h0m4 20h0m3-19h0m4 6h0m3 23h0m4-15h0m3-10h0m4 23h0m3-7h0m4-11h0m3 7h0m4 2h0m3-11h0m3 16h0m4-10h0m3-10h0m4 14h0m3-3h0m4-1h0m3 9h0" fill="none" stroke="#00f" stroke-width="3.24" stroke-linecap="round"/>
<path d="M69.5 423.5h0m3 2h0m4-10h0m3 8h0m3-7h0m4 4h0m3 10h0m4-6h0m3-2h0m4-2h0m3 9h0m4-21h0m3 12h0m4 14h0m3-14h0m4 0h0m3 13h0m4-7h0m3-7h0m3 11h0m4 3h0m3-10h0m4 17h0m3-7h0m4-12h0m3 15h0m4 4h0m3-18h0m4 11h0m3 8h0m4-14h0m3 9h0m4 7h0m3-8h0m3 11h0m4-5h0m3-10h0m4 9h0m3 9h0m4-12h0m3 9h0m4-12h0m3 7h0m4 5h0m3-15h0m4 15h0m3 5h0m4-7h0m3 0h0m3 11h0m4-13h0m3 3h0m4 2h0m3-10h0m4 2h0m3 13h0m4-16h0m3 6h0m4 7h0m3-16h0m4 4h0m3 3h0m4-9h0m3 12h0m3 0h0m4-15h0m3 2h0m4 13h0m3-11h0m4-1h0m3 17h0m4-11h0m3-12h0m4 20h0m3-16h0m4 3h0m3 14h0m4-4h0m3-6h0m3 8h0m4 0h0m3-11h0m4 0h0m3 13h0m4-6h0m3-4h0m4 4h0m3-13h0m4-4h0m3 14h0m4-7h0m3-19h0m4 25h0m3-4h0m3-4h0m4 8h0m3-9h0m4-1h0m3 19h0m4-25h0m3 6h0m4 17h0m3-22h0m4 9h0m3 12h0m4-18h0m3 2h0m4 8h0m3 0h0m3-5h0m4 3h0m3 4h0m4-1h0m3-6h0m4 8h0m3-1h0m4-13h0m3 17h0m4-9h0m3-12h0m4 13h0m3 5h0m4-30h0m3 16h0m3 13h0m4-24h0m3-2h0m4 11h0m3-12h0m4-9h0m3 19h0m4-6h0m3-26h0m4 26h0m3 5h0m4-31h0m3 16h0m4 3h0m3-23h0m3 16h0m4 1h0m3-14h0m4 3h0m3 21h0m4-18h0m3-2h0m4 18h0m3-17h0m4-8h0m3 21h0m4-11h0m3-15h0m4 20h0m3 1h0m3-7h0m4-2h0m3 9h0m4 5h0m3-24h0m4 17h0m3-1h0m4-17h0m3 25h0m4-7h0m3-25h0m4 18h0m3 5h0m4-16h0m3 3h0m3 6h0m4-9h0m3 8h0m4 3h0m3-2h0m4 0h0m3 16h0m4-2h0m3-6h0m4 5h0m3 7h0m4-7h0m3 4h0m4 7h0m3-10h0m3 1h0m4 16h0m3 0h0m4-3h0m3 8h0m4 3h0m3-16h0m4 3h0m3 4h0m4 1h0m3-11h0m4 5h0m3 3h0m4-6h0m3-2h0m3 6h0m4 1h0m3-21h0m4 7h0m3 11h0m4-21h0m3 7h0m4 12h0m3-15h0m4 3h0m3 8h0m4 1h0m3-26h0m4 12h0m3 8h0m3-13h0m4 3h0m3 1h0m4-6h0m3 20h0m4-21h0m3-5h0m4 18h0m3-7h0m4-16h0m3 8h0m4 20h0m3-36h0m4 7h0m3 17h0m3 2h0m4-25h0m3 14h0m4 12h0m3-25h0m4-2h0m3 16h0m4-6h0m3-12h0m4 4h0m3 4h0m4 9h0m3-14h0m4-4h0m3 4h0m3 11h0m4-10h0m3 11h0m4 7h0m3-4h0m4-16h0m3 9h0m4 12h0m3-17h0m4 6h0m3 7h0m4-13h0m3 7h0m4 9h0m3-1h0m3-17h0m4 13h0m3 12h0m4-33h0m3 27h0m4 15h0m3-34h0m4 11h0m3 20h0m4-18h0m3-17h0m4 32h0m3-18h0m4-7h0m3 21h0m3-3h0m4-10h0m3 24h0m4 2h0m3-16h0m4 16h0m3 1h0m4-9h0m3 15h0m4 3h0m3-16h0m4 13h0m3 8h0m4-19h0m3 12h0m3 9h0m4-31h0m3 21h0m4 10h0m3-23h0m4 1h0m3 28h0m4-22h0m3 6h0m4 15h0m3-24h0m4 6h0m3 27h0m4-20h0m3-3h0m3 18h0m4 0h0m3-13h0m4 26h0m3-21h0m4-4h0m3 23h0m4-19h0m3 0h0m4 21h0m3-7h0m4-24h0m3 29h0m4-1h0m3-10h0m3 8h0m4 6h0m3 1h0m4 1h0m3 5h0m4-22h0m3 10h0m4 10h0m3-17h0m4 25h0m3-13h0m4-14h0m3 23h0m4-7h0m3-12h0m3 17h0m4 9h0m3-23h0m4 6h0m3 19h0m4-25h0m3 12h0m4 7h0m3-18h0m4 13h0m3 16h0m4-17h0m3-3h0m4 20h0m3-8h0m3-12h0m4 15h0m3-6h0m4-12h0m3 16h0m4-10h0m3-8h0m4 17h0m3-5h0m4-2h0m3 14h0" fill="none" stroke="#00f" stroke-width="3.24" stroke-linecap="round"/>
</g>
<path d="M66.5 476.5v5M222.5 476.5v5M378.5 476.5v5M534.5 476.5v5M690.5 476.5v5M846.5 476.5v5M1002.5 476.5v5M1158.5 476.5v5M1314.5 476.5v5M66.5 380.5h-5M66.5 439.5h-5" stroke="#000" stroke-width="1.11" fill="none"/>
<rect x="66.5" y="339.5" width="1248" height="137" fill="none" stroke="#000" stroke-width="1.11"/>
</g>
<g id="panel3">
<path d="M66.5 504.5V641.5M222.5 504.5V641.5M378.5 504.5V641.5M534.5 504.5V641.5M690.5 504.5V641.5M846.5 504.5V641.5M1002.5 504.5V641.5M1158.5 504.5V641.5M1314.5 504.5V641.5M66.5 508.5H1314.5M66.5 543.5H1314.5M66.5 579.5H1314.5M66.5 614.5H1314.5" stroke="#b0b0b0" stroke-width="1.11" fill="none"/>
<g clip-path="url(#c3)">
<path d="M66 513.5l.9 1.2l.8 .9l.9-2.1l.9 1.1l.8-2.9l.9 1.2l.9 1.1l.8 .2l.9-1.8l.9-.1l.8-.2l.9 .6l.9-1.7l.8 1.4l.9-.4l.9 .7l.8 .7l.9 .4l.9-.1l.8 .8l.9-.2l.9 2.3l.8-.8l.9-1l.9 1.4l.8-.4l.9 .4l.9 .2l.8 1.6l.9 .6l.9 1l.8-.9l.9 0l.9 2.4l.8-.6l.9-.7l.9-1l.8 1.1l.9 .5l.9-.3l.8 .4l.9-.3l.9 1.1l.8-1.1l.9 .1l.9-.2l.8-.2l.9 2l.9-3.3l.8 1l.9-1.4l.9 .2l.8 1.4l.9-.9l.9 2.3l.8 3.1l.9-2.3l.9 .1l.8-1.5l.9 1.4l.9-1.2l.8 1.7l.9 .1l.9 2.5l.8-1.1l.9 .5l.9 .5l.8-.2l.9 1.8l.9 .8l.8-2.1l.9 .2l.9-1.5l.8 .4l.9-.1l.9-1.6l.8 .3l.9 2.3l.9-1.4l.8 1.5l.9-.3l.9-.4l.8 .2l.9-.4l.9-.4l.8-1.6l.9 4.5l.9-.8l.8 1.4l.9-.7l.9-.2l.8 .6l.9 2.8l.9-1.1l.8-1.9l.9 .1l.9 .3l.8 0l.9 0l.9 .3l.8-.3l.9 1.9l.9 .7l.8 1.4l.9-1.8l.9 1l.8-.6l.9 1l.9-1l.8-.5l.9-.8l.9 1.9l.8-.4l.9 .9l.9-1.2l.8 2.7l.9-2.5l.9 .7l.8-.2l.9 .3l.9-1.6l.8-1.2l.9-.6l.9 1.9l.8-.2l.9 .7l.9-.5l.8 .5l.9-.3l.9 0l.8-1.9l.9 1.1l.9 2.6l.8-1.1l.9 .3l.9-.2l.8-.8l.9 .4l.9 1.3l.8-.6l.9 2.3l.9-2.6l.8 .7l.9 2.3l.9 .4l.8 1.5l.9-2.1l.9 .2l.8-.7l.9 2.6l.9-.5l.8-.1l.9-1.3l.9-.2l.8 .5l.9 1.5l.9-.2l.8 1.2l.9-.5l.9 1.4l.8-2l.9-1.5l.9 .2l.8 1.8l.9-2.2l.9 .2l.8 2.3l.9-.8l.9 1.1l.8-.3l.9 2.1l.9-2.6l.8-.2l.9 .1l.9 .4l.8 0l.9-1.3l.9 1.8l.8 1.4l.9-2.7l.9 1.8l.8 0l.9-.6l.9-.3l.8-3.5l.9 1.8l.9-2.2l.8-.9l.9 2.8l.9-1.3l.8 3.4l.9-.3l.9-.7l.8-.8l.9 1.5l.9-.9l.8 1l.9 .3l.9-1.8l.8 .5l.9 2.3l.9-1.9l.8 .9l.9-.3l.9 1.5l.8-.1l.9 1.3l.9 .5l.8-1.6l.9-.3l.9 1.1l.8-1.2l.9-.3l.9 .1l.8-1.5l.9-.2l.9-.5l.8 3.1l.9 .1l.9 1l.8-.3l.9 2l.9 .7l.8 .3l.9-.8l.9-.9l.8-.8l.9-2.2l.9-.5l.8 1.9l.9 0l.9 1.8l.8 .3l.9 2.1l.9 .6l.8-.2l.9-3.8l.9 .2l.8 2.1l.9 .5l.9-.8l.8-.2l.9-2.3l.9 .8l.8-2.4l.9 2.5l.9-.8l.8-.3l.9-.3l.9 1.8l.8-1.2l.9 1.7l.9-1.1l.8 .8l.9 0l.9 1.2l.8-1.6l.9-.2l.9-.5l.8-1.3l.9-1.4l.9 4.3l.8 2l.9-2.3l.9 .1l.8-1.6l.9 .7l.9-1.1l.8-1.3l.9-.2l.9 1.8l.8 .4l.9-.1l.9 .5l.8-1.9l.9 .4l.9-.4l.8 .6l.9 1.1l.9-1.1l.8 1.1l.9-.7l.9-.1l.8-.3l.9-1.9l.9-.8l.8-.5l.9-1.7l.9-1.6l.8 3l.9-.3l.9 .6l.8 .2l.9 .8l.9 .6l.8 .4l.9 1.8l.9-2.5l.8 1.1l.9-.9l.9 .4l.8 1.3l.9 .8l.9-.8l.8 2.4l.9-1.8l.9 1.4l.8-1l.9 .6l.9-.8l.8-1.3l.9 0l.9-2l.8-.6l.9 .2l.9 3.1l.8 .1l.9-.2l.9 1.4l.8-1.6l.9-.4l.9-1.2l.8 1.8l.9 1.4l.9 .5l.8 1.6l.9-1.2l.9-.3l.8-1.1l.9-1.7l.9-.1l.8 1.4l.9-.6l.9-.7l.8 1.8l.9-.8l.9 1.7l.8-1.9l.9-2l.9 .3l.8 4.8l.9-2.3l.9 .3l.8 .2l.9-.4l.9-.6l.8 .9l.9-.9l.9 .9l.8 .3l.9-.4l.9-.7l.8-.4l.9-.9l.9 1.2l.8 2l.9 .3l.9 0l.8-1.7l.9 1.1l.9 .3l.8-1.3l.9 0l.9-1.1l.8 0l.9-2.1l.9 1.9l.8-.5l.9 0l.9-.4l.8 0l.9-1l.9-1.6l.8 .2l.9-1.3l.9-.9l.8-.8l.9 2.6l.9 1.1l.8-.4l.9-.6l.9 .3l.8-2.3l.9-.6l.9 1.3l.8-1.7l.9-.1l.9-.6l.8 1.8l.9-.7l.9-.8l.8-.8l.9-1.4l.9 1l.8-2l.9 .6l.9-.5l.8 .6l.9-1.1l.9-.1l.8 .4l.9 3.9l.9-1.4l.8-2.1l.9-.3l.9 1.5l.8 2.7l.9-.1l.9-.8l.8-.7l.9-.7l.9 1.2l.8-1l.9-3.8l.9 3l.8-.1l.9 .9l.9 1.2l.8-2.7l.9-.3l.9 2.3l.8-1.4l.9 1l.9 2l.8-.4l.9-.4l.9-.6l.8 .2l.9-3l.9 0l.8 0l.9 1.1l.9-1l.8 1.2l.9-.5l.9-1l.8 .1l.9-1.1l.9 2.6l.8-2l.9 .7l.9 .2l.8-1.4l.9 .5l.9 1.5l.8-1.4l.9 .3l.9 0l.8-.9l.9 1.2l.9-.7l.8-1l.9 1.5l.9 0l.8-.3l.9-3.2l.9 2.4l.8-1.3l.9 .5l.9 1.8l.8-.5l.9-1.5l.9 1.1l.8-.6l.9-1.2l.9-.7l.8-1.2l.9 1.3l.9 .4l.8-.5l.9-.7l.9 .8l.8-1.2l.9 2.8l.9-2.2l.8-2.4l.9-1.5l.9 2.1l.8-.5l.9 .2l.9 1.5l.8-2.7l.9 0l.9-1.8l.8-1.2l.9 1.6l.9-.4l.8-.2l.9-.3l.9-1.9l.8 1.9l.9 .6l.9 .2l.8-2.2l.9-.2l.9-.2l.8-.4l.9-1.1l.9 .4l.8 1.5l.9-2.4l.9-.9l.8 1.3l.9-.2l.9 .9l.8-1.9l.9-.3l.9-1.4l.8 .7l.9 1.8l.9 .5l.8 .6l.9-.4l.9-2l.8-.2l.9-.7l.9 2.1l.8-1l.9 2.6l.9-.2l.8-1.6l.9-.2l.9 .8l.8 .3l.9-1.4l.9-.5l.8-2.2l.9 1.9l.9-1.2l.8 1l.9-.9l.9-.8l.8 1.9l.9-1.8l.9 1.9l.8 .7l.9-.4l.9-1l.8-2.3l.9 .5l.9 1.4l.8 .3l.9 1.9l.9 .1l.8 1.4l.9 1.6l.9-2.3l.8 .8l.9 1.4l.9 .5l.8-.1l.9-1.6l.9 3l.8-2l.9-1l.9-1.1l.8 2.9l.9-1l.9-.4l.8-.3l.9 1.3l.9 .4l.8-1.1l.9 4.8l.9-2.9l.8-1.6l.9-1.6l.9-.7l.8 2.9l.9-1.2l.9-1l.8 2.3l.9-.5l.9-.1l.8-.7l.9-.2l.9 .6l.8 0l.9-.7l.9 .6l.8 .7l.9-1.4l.9 1.1l.8-.3l.9 .7l.9-1.9l.8-1.9l.9 .8l.9 1.4l.8 1.2l.9-6l.9 .9l.8 1.9l.9 0l.9 .6l.8 .7l.9-.4l.9 1.2l.8-.4l.9 .9l.9-1.1l.8-.4l.9 .2l.9 .1l.8-.2l.9-1.9l.9 2.2l.8-.2l.9 1l.9 2l.8-.1l.9-1.3l.9-1.4l.8 2.6l.9-3.9l.9 1.3l.8 1.1l.9-1.3l.9 1.6l.8-2.1l.9-.4l.9-1.3l.8 2.5l.9-2l.9 2l.8 0l.9-1.8l.9 2.7l.8-2.1l.9 .1l.9-.1l.8-1.4l.9-.3l.9 .2l.8 .2l.9 1.7l.9 1.8l.8-1.8l.9-.5l.9 1.2l.8 .4l.9-.1l.9-1.9l.8-1.4l.9 2.2l.9-.5l.8 .3l.9-.9l.9 2.5l.8 .1l.9-2.5l.9 2.2l.8 .1l.9-.9l.9-.2l.8-.3l.9-1.3l.9-1.4l.8-.1l.9 .1l.9 0l.8 1.9l.9-.6l.9-.5l.8-1.9l.9 1l.9-1.5l.8 2.1l.9-2.2l.9 2l.8-.2l.9-.1l.9 1.6l.8-.6l.9-1.5l.9 2.3l.8-1.1l.9 1.7l.9-1.5l.8 1.7l.9 .5l.9-1l.8-2.1l.9-1.3l.9 .5l.8 .9l.9-.1l.9 0l.8-.6l.9 1.4l.9-.4l.8-.3l.9 .6l.9-.2l.8 .7l.9-.1l.9 0l.8 .9l.9-.5l.9-1.5l.8 .6l.9-1.5l.9-.3l.8 .8l.9 .1l.9 1.1l.8-.9l.9 1.2l.9 1.3l.8-.6l.9 .7l.9-.3l.8 .9l.9-1l.9-.4l.8-1.3l.9-.2l.9 .4l.8 .9l.9 1l.9-1.5l.8 1.5l.9 .6l.9 2.7l.8-2.5l.9-.7l.9 .6l.8-1.9l.9 2.1l.9-1l.8 3.7l.9-1.2l.9 .2l.8-.3l.9 1.4l.9 .1l.8-.7l.9 1.4l.9-1l.8 .8l.9 .6l.9 1.3l.8-.9l.9-.3l.9-.4l.8-.3l.9-2.6l.9 2.3l.8-1.2l.9-.6l.9 .4l.8-.3l.9 2.1l.9 1.9l.8-.2l.9-2.4l.9-.8l.8 .5l.9 1.9l.9 0l.8-.3l.9-1.7l.9-1.4l.8 1.1l.9 1.5l.9 2.6l.8-.9l.9-5.1l.9 1.1l.8 2.6l.9 1.5l.9-1.3l.8 1.4l.9-1.3l.9-.5l.8-.3l.9 .5l.9 1.1l.8-1.4l.9 .1l.9 .4l.8-1.6l.9 2.2l.9-2.2l.8-.2l.9 .7l.9 1l.8-1.2l.9-.5l.9-.1l.8 1.7l.9 .1l.9 3.2l.8-1.2l.9-3.8l.9 1.5l.8 .7l.9 1.6l.9-3.5l.8 1.3l.9 1.3l.9-1.5l.8 1.5l.9 .6l.9 1.9l.8-2.4l.9-.1l.9-2.2l.8 2.6l.9 .3l.9 .1l.8-.7l.9-.8l.9-1l.8-.3l.9 .4l.9-.2l.8-.1l.9 .3l.9 .3l.8 1l.9 0l.9 1.2l.8-1.9l.9-.1l.9-.8l.8 .4l.9-.9l.9-.9l.8 .3l.9 .7l.9-1.1l.8 1l.9 1.4l.9 1.1l.8 1.7l.9-2.5l.9-.6l.8-1.5l.9 .8l.9 1.2l.8 .4l.9 2.1l.9 .4l.8-1.4l.9-.2l.9 1.5l.8-1.3l.9 1.3l.9-3.4l.8 2.3l.9-.5l.9 .5l.8 1.3l.9 .5l.9-.8l.8 1.1l.9-1.4l.9 0l.8-1.6l.9-.2l.9 3.2l.8-.3l.9 1.9l.9-1.5l.8 .2l.9-.3l.9-1.1l.8-.9l.9 .3l.9-.8l.8-1.1l.9-.1l.9 1l.8 .9l.9 2.1l.9 .6l.8-1.8l.9 .3l.9-.6l.8-.5l.9 1.9l.9-1.6l.8 .6l.9-.9l.9 1l.8 1.4l.9 .4l.9-.1l.8 .3l.9-.1l.9 .8l.8 .7l.9 .1l.9 .5l.8 .3l.9 1.5l.9-.1l.8 1.3l.9-2.5l.9 .4l.8 .6l.9 2.3l.9-.4l.8-1.5l.9-.8l.9 1.3l.8-.7l.9 3.1l.9-.8l.8-2.6l.9-.1l.9 .4l.8-1.1l.9 .4l.9 .6l.8 1.1l.9 .8l.9-1.8l.8 1.6l.9-.4l.9-.3l.8-.3l.9 1.2l.9 .4l.8-1.7l.9 .2l.9-1.2l.8 .9l.9 1.2l.9-.4l.8 .7l.9-.1l.9 .4l.8 .7l.9 .2l.9-1.9l.8 1.5l.9-1.9l.9 2l.8-.7l.9-.4l.9 1.4l.8-1.2l.9 1l.9 .1l.8 1.3l.9-1.1l.9-.2l.8-.1l.9 1.8l.9-1.9l.8 .8l.9 1.4l.9 .1l.8-1.3l.9 1.7l.9-1.1l.8 .7l.9 .1l.9 1l.8-.5l.9 1.6l.9-1.9l.8 .4l.9 1.2l.9-.8l.8 .7l.9 .3l.9 .1l.8 .5l.9-1.6l.9 .8l.8 2.2l.9-3l.9 1.2l.8 1.4l.9-1.9l.9 .2l.8-.4l.9 1.3l.9-2.4l.8 .6l.9-1l.9 .5l.8-.9l.9-.2l.9 .8l.8-.4l.9 1.3l.9 .6l.8 .6l.9 .5l.9-.4l.8-2.4l.9-.1l.9 2.8l.8-.6l.9 .5l.9 1l.8-1.4l.9 1.1l.9-1.1l.8 1.1l.9-.7l.9 1.1l.8 .6l.9 .8l.9-1.4l.8 .8l.9-.4l.9 .3l.8 1.4l.9 .2l.9 .6l.8-1.6l.9 1.5l.9-1.7l.8 1.2l.9-.4l.9-.2l.8 2.9l.9-1.7l.9 1l.8-.7l.9 1.3l.9-.1l.8 .4l.9-.3l.9 .3l.8-2l.9-.3l.9 1.9l.8-1.1l.9 1.1l.9-1l.8 .9l.9 .9l.9-.8l.8 0l.9-.6l.9 1.1l.8-.9l.9 .7l.9 1.6l.8-1.8l.9 2.4l.9-.5l.8-1.7l.9-.4l.9 .2l.8 2.6l.9 0l.9 1.1l.8-.9l.9 .7l.9-.7l.8-1.6l.9 1.3l.9 .1l.8 1l.9-.1l.9 .3l.8 1.3l.9-1.5l.9-.4l.8 1l.9 .6l.9 .5l.8 .8l.9-.2l.9 1.2l.8-.1l.9-1.4l.9 .7l.8-.3l.9-1.9l.9 0l.8 1.6l.9 .1l.9 1l.8-1.3l.9 2.4l.9-2l.8 .4l.9-.5l.9 1l.8-1.6l.9 1.2l.9-.9l.8 2.7l.9-1.9l.9-.1l.8 2.2l.9-1l.9 .6l.8 1.4l.9-.1l.9-.3l.8 .1l.9-2.2l.9 2.4l.8 .7l.9 1l.9-3.6l.8 .6l.9-.2l.9 1.2l.8-.3l.9 1.5l.9-.4l.8-.3l.9-.5l.9 .6l.8 1.6l.9-1.7l.9-.7l.8 1.7l.9 .2l.9 .1l.8-1.6l.9-.1l.9-2l.8 1.3l.9 .1l.9 .8l.8-.5l.9 1.7l.9 .7l.8-.5l.9-.1l.9 .7l.8 .5l.9 .6l.9-1.2l.8 2l.9-1.1l.9 0l.8 .8l.9 .1l.9 2.4l.8 2.2l.9-1.2l.9-.1l.8-.4l.9 1.7l.9-.2l.8-2.5l.9 1.6l.9-1.7l.8 .5l.9 1.9l.9 .5l.8-.4l.9-3.9l.9 .4l.8 .6l.9 .9l.9 1l.8-1.1l.9 .2l.9-.8l.8 1l.9-.8l.9 2.7l.8-.1l.9-2.2l.9 1l.8 1.9l.9 .9l.9 .3l.8 .9l.9-.6l.9 .2l.8 .6l.9 1.4l.9-.8l.8 .6l.9 0l.9 .4l.8-.6l.9-.6l.9-.6l.8 .4l.9-.5l.9-.1l.8 .7l.9 1.9l.9-1l.8-1.9l.9 2.6l.9-.8l.8-.9l.9 2l.9-.8l.8 1.3l.9-1l.9 1.7l.8-1.6l.9 .5l.9-.7l.8-2.1l.9 1.3l.9 .2l.8-.3l.9-1.3l.9 2.3l.8 .2l.9 1.9l.9-1.1l.8 1.6l.9-.6l.9 2l.8-2.8l.9 1.6l.9 1.2l.8-1.1l.9 .8l.9-1.2l.8 .6l.9-1.9l.9 .6l.8 1.7l.9-1l.9 3.6l.8 2l.9-1.3l.9 .3l.8 .1l.9-.1l.9 .4l.8 0l.9 .7l.9-.5l.8 .1l.9 .4l.9 0l.8 .6l.9 .8l.9 1l.8-3.1l.9 .1l.9 .9l.8 .4l.9 .2l.9 1.8l.8-2.6l.9-1.1l.9-.3l.8 1.4l.9 1.3l.9-1l.8 2.9l.9-.5l.9 .8l.8 .8l.9 1.9l.9 1.1l.8 1l.9-2.2l.9 1.1l.8 .2l.9-1.3l.9 .3l.8-1.6l.9 .4l.9-1.1l.8 3.2l.9-.7l.9 1.2l.8 .5l.9-.9l.9 .2l.8 .3l.9 .3l.9-.2l.8 1.6l.9 .8l.9 1.8l.8 .5l.9 .2l.9 .3l.8 1.7l.9-1.6l.9 1.6l.8-1.3l.9-2l.9 2l.8-.6l.9 1.7l.9-.8l.8 1.8l.9-1.6l.9 1.6l.8-2.3l.9 .9l.9-.8l.8 1.3l.9 .4l.9 .7l.8 1.8l.9-1.1l.9-1.1l.8-1.3l.9-.4l.9 .7l.8 .3l.9 1.9l.9 .2l.8 .6l.9-.5l.9 .7l.8 1.2l.9-.3l.9 1.3l.8-.6l.9 1.3l.9-.9l.8 0l.9-.8l.9-1.5l.8 1.6l.9 .6l.9-.5l.8 2l.9 1.3l.9-1.4l.8 1.9l.9 0l.9 2.2l.8 2.9l.9 .5l.9 2.7l.8-2.9l.9-1l.9 .2l.8-.5l.9 3.3l.9-.5l.8 1.3l.9 .9l.9-.4l.8 1.1l.9 1.1l.9 .4l.8 .6l.9-1l.9-1.2l.8 .2l.9 1.2l.9 2.7l.8 1.7l.9 .1l.9-.1l.8 .6l.9 1.1l.9 1.7l.8-.7l.9 2.8l.9 1.7l.8 .3l.9 .2l.9 1.1l.8 2.5l.9-2.2l.9 1.3l.8 1.4l.9-2.2l.9 2.3l.8-1.7l.9 2.2l.9 1.4l.8-1.4l.9 2.8l.9 2.1l.8 1l.9 .3l.9-1.6l.8-.5l.9-.8l.9 1.4l.8 1.2l.9 1.1l.9-.1l.8 .2l.9 1.4l.9 1l.8 1l.9 .7l.9-.7l.8 .1l.9-1.7l.9-1.7l.8-2l.9-.6l.9-1.3l.8-.7l.9-1.5l.9-.3l.8 1.4l.9 2.2l.9-2.1l.8 1.7l.9-.8l.9-.9l.8-.4l.9-.2l.9-1.5l.8-3l.9-.2l.9-1.4l.8 1.2l.9 .1l.9 1.4l.8-.3l.9 .8l.9 1.6l.8-.8l.9 3.4l.9 4l.8-1.9l.9-1l.9 .4l.8 2.2l.9 2l.9 1.3l.8-.8l.9-.9l.9-1.2l.8 .8l.9 .3l.9 1.8l.8-1.3l.9 2.4l.9 .7l.8 .1l.9-1l.9-3.1l.8 1.2l.9-1.2" fill="none" stroke="#00f" stroke-width=".56" stroke-linejoin="round"/>
<path d="M66.5 514.5h0m3 1h0m4-1h0m3-1h0m4 0h0m3 1h0m4 1h0m3 1h0m4 3h0m3 1h0m4 0h0m3 0h0m4 2h0m3-4h0m4 6h0m3-2h0m3 3h0m4 0h0m3 0h0m4-2h0m3 2h0m4-1h0m3 2h0m4 1h0m3 0h0m4 1h0m3 3h0m4 0h0m3 0h0m4 2h0m3-2h0m3-2h0m4 1h0m3-1h0m4 2h0m3 0h0m4 2h0m3 1h0m4 1h0m3 0h0m4 2h0m3-1h0m4-1h0m3 0h0m4 1h0m3-1h0m3 1h0m4-5h0m3 5h0m4-1h0m3 0h0m4 1h0m3 3h0m4-2h0m3-2h0m4 4h0m3 2h0m4-4h0m3 3h0m4 3h0m3-1h0m3-3h0m4-1h0m3 2h0m4 1h0m3-3h0m4 2h0m3-2h0m4 1h0m3-1h0m4 0h0m3 0h0m4-5h0m3 2h0m4 2h0m3-1h0m3 2h0m4 1h0m3-1h0m4 0h0m3 0h0m4 2h0m3 0h0m4-1h0m3-1h0m4-2h0m3 3h0m4-1h0m3 1h0m4 1h0m3 0h0m3-2h0m4-1h0m3-1h0m4-4h0m3 3h0m4-3h0m3-1h0m4-1h0m3-2h0m4-1h0m3 1h0m4 4h0m3-1h0m4-2h0m3-1h0m3 4h0m4-1h0m3-2h0m4-2h0m3 0h0m4 0h0m3 1h0m4-2h0m3-2h0m4 4h0m3-2h0m4-2h0m3 0h0m4-3h0m3 1h0m3-4h0m4 0h0m3 1h0m4-3h0m3 1h0m4-3h0m3-2h0m4 3h0m3-3h0m4 4h0m3-1h0m4-2h0m3-2h0m4 2h0m3-3h0m3 4h0m4 1h0m3 1h0m4-2h0m3 2h0m4 5h0m3-7h0m4 3h0m3-1h0m4 0h0m3 0h0m4-2h0m3-2h0m4 3h0m3 1h0m3-1h0m4 0h0m3 1h0m4-1h0m3-1h0m4-1h0m3 3h0m4-3h0m3 1h0m4 1h0m3-3h0m4 1h0m3 2h0m4-1h0m3-3h0m3 1h0m4 0h0m3-1h0m4 2h0m3 1h0m4-4h0m3 1h0m4 1h0m3 0h0m4-1h0m3 0h0m4 2h0m3 1h0m4-2h0m3 2h0m3 3h0m4-4h0m3 3h0m4 2h0m3 0h0m4 1h0m3-1h0m4-2h0m3 2h0m4 1h0m3-2h0m4-2h0m3 4h0m4-1h0m3 1h0m3-2h0m4 1h0m3 1h0m4-1h0m3 1h0m4 1h0m3-2h0m4 2h0m3-2h0m4 1h0m3 0h0m4-2h0m3-1h0m4 6h0m3-4h0m3 4h0m4-1h0m3-1h0m4 2h0m3-2h0m4 5h0m3-3h0m4-3h0m3 4h0m4-1h0m3 0h0m4 2h0m3 1h0m4 1h0m3 1h0m3 3h0m4-2h0m3-1h0m4 1h0m3 1h0m4 1h0m3-3h0m4 3h0m3 1h0m4 0h0m3-1h0m4 1h0m3 0h0m4 1h0m3 1h0m3 0h0m4 2h0m3-1h0m4 1h0m3 0h0m4-2h0m3 0h0m4 2h0m3-2h0m4 4h0m3-1h0m4 2h0m3-1h0m4 1h0m3 1h0m3 2h0m4 1h0m3-3h0m4 1h0m3 1h0m4 1h0m3 1h0m4 1h0m3 1h0m4-1h0m3 2h0m4 0h0m3 2h0m4-1h0m3 0h0m3 0h0m4 0h0m3 1h0m4 1h0m3 1h0m4 2h0m3-2h0m4 1h0m3 0h0m4 1h0m3-2h0m4 2h0m3 1h0m4 1h0m3 0h0m3 4h0m4-2h0m3 3h0m4-4h0m3 2h0m4-1h0m3 2h0m4 4h0m3 1h0m4 0h0m3-1h0m4 2h0m3-1h0m4 1h0m3 0h0m3-1h0m4 1h0m3 1h0m4 2h0m3 0h0m4-1h0m3 4h0m4 1h0m3 1h0m4 2h0m3-2h0m4-1h0m3 1h0m4 4h0m3 2h0m3 0h0m4 1h0m3 0h0m4 1h0m3 4h0m4 1h0m3 0h0m4 2h0m3-1h0m4 2h0m3-2h0m4 2h0m3 1h0m4 2h0m3 0h0m3 0h0m4 4h0m3 5h0m4-1h0m3 4h0m4 2h0m3-1h0m4 6h0m3 2h0m4 5h0m3 4h0m4-1h0m3 4h0m4 4h0m3-2h0m3 3h0m4 4h0m3-2h0m4-5h0m3-1h0m4 1h0m3-3h0m4-4h0m3 2h0m4 8h0m3 0h0m4 2h0m3 1h0m4 2h0m3-4h0" fill="none" stroke="#00f" stroke-width="3.24" stroke-linecap="round"/>
<path d="M67.5 515.5h0m3-3h0m4 0h0m3-1h0m4 2h0m3 1h0m4 2h0m3 2h0m4 1h0m3 0h0m4 1h0m3 0h0m3-1h0m4 1h0m3 2h0m4-1h0m3 3h0m4 3h0m3-3h0m4-1h0m3 2h0m4-1h0m3 4h0m4 2h0m3-3h0m4 1h0m3 2h0m3 0h0m4 0h0m3 0h0m4-1h0m3 0h0m4 1h0m3 2h0m4-2h0m3 3h0m4 1h0m3-1h0m4 1h0m3 1h0m4 0h0m3-2h0m3 3h0m4-1h0m3 0h0m4 2h0m3-5h0m4 2h0m3 1h0m4 1h0m3 1h0m4 0h0m3 0h0m4 0h0m3-2h0m4 4h0m3 2h0m3-5h0m4 4h0m3-1h0m4 2h0m3-4h0m4 1h0m3 1h0m4 1h0m3-4h0m4 4h0m3-3h0m4 2h0m3-2h0m4 2h0m3-3h0m3-4h0m4 3h0m3 4h0m4-2h0m3 4h0m4-1h0m3-4h0m4 2h0m3 0h0m4 2h0m3-1h0m4-1h0m3 2h0m4 1h0m3-2h0m3 0h0m4-1h0m3 3h0m4 0h0m3-3h0m4-1h0m3-3h0m4-2h0m3 2h0m4-1h0m3-1h0m4-3h0m3-1h0m4 0h0m3 0h0m3 3h0m4-1h0m3 0h0m4 0h0m3 1h0m4-3h0m3 0h0m4 0h0m3 0h0m4 1h0m3-2h0m4 1h0m3-1h0m4 0h0m3-2h0m3 0h0m4-2h0m3-3h0m4 3h0m3-6h0m4 1h0m3 1h0m4-3h0m3-2h0m4 1h0m3-3h0m4 3h0m3-1h0m4 0h0m3-1h0m3-2h0m4 2h0m3 0h0m4-1h0m3 3h0m4 2h0m3 2h0m4-2h0m3 0h0m4 1h0m3-1h0m4 0h0m3-1h0m4 1h0m3 0h0m3-1h0m4-3h0m3 1h0m4 1h0m3 0h0m4 1h0m3-1h0m4 1h0m3-2h0m4 1h0m3-1h0m4-2h0m3 4h0m4-1h0m3-1h0m3 2h0m4-1h0m3-2h0m4-2h0m3-1h0m4 0h0m3 3h0m4-1h0m3 3h0m4-4h0m3 0h0m4 1h0m3 0h0m4 0h0m3-1h0m3 3h0m4 0h0m3-2h0m4 0h0m3 3h0m4 0h0m3 1h0m4 1h0m3 2h0m4 0h0m3-2h0m4 1h0m3-1h0m4 2h0m3-1h0m3-2h0m4 4h0m3-1h0m4 0h0m3-2h0m4 0h0m3 5h0m4-3h0m3 1h0m4 2h0m3-2h0m4-1h0m3-1h0m4 2h0m3-1h0m3-2h0m4 1h0m3 1h0m4 0h0m3 2h0m4 1h0m3-1h0m4 2h0m3-3h0m4 3h0m3-2h0m4-2h0m3 5h0m4-3h0m3 0h0m3 3h0m4 2h0m3 2h0m4-1h0m3 1h0m4 3h0m3-3h0m4 1h0m3 0h0m4 1h0m3-2h0m4 2h0m3-1h0m4 1h0m3 1h0m3 0h0m4 0h0m3 2h0m4 1h0m3 0h0m4 1h0m3 0h0m4 2h0m3-1h0m4-2h0m3-1h0m4 3h0m3 0h0m4-1h0m3 1h0m3 1h0m4 2h0m3 1h0m4-1h0m3 1h0m4 1h0m3 0h0m4 0h0m3 0h0m4 2h0m3-1h0m4 2h0m3 0h0m4 1h0m3 0h0m3 2h0m4 1h0m3-3h0m4 3h0m3 0h0m4 0h0m3 0h0m4 3h0m3-3h0m4 1h0m3 1h0m4 0h0m3 0h0m4 1h0m3-1h0m3 3h0m4 0h0m3 0h0m4 4h0m3 0h0m4 1h0m3 1h0m4-3h0m3 1h0m4 2h0m3 0h0m4 2h0m3 1h0m4 1h0m3-2h0m3 2h0m4-1h0m3 1h0m4 0h0m3-1h0m4 3h0m3 2h0m4-1h0m3-1h0m4 4h0m3 2h0m4 1h0m3 0h0m4-1h0m3 2h0m3-3h0m4 5h0m3 3h0m4 1h0m3-3h0m4 2h0m3 1h0m4 2h0m3 4h0m4 2h0m3-2h0m4 1h0m3-1h0m4 4h0m3-4h0m3 4h0m4 2h0m3 1h0m4-3h0m3 4h0m4 2h0m3 8h0m4-4h0m3 5h0m4 2h0m3-1h0m4 5h0m3 3h0m4 5h0m3 1h0m3 3h0m4 1h0m3 6h0m4-2h0m3 3h0m4 4h0m3-4h0m4-5h0m3 2h0m4-2h0m3-5h0m4-1h0m3 4h0m4 5h0m3 3h0m3-1h0m4 1h0m3 2h0" fill="none" stroke="#00f" stroke-width="3.24" stroke-linecap="round"/>
<path d="M68.5 516.5h0m3-3h0m4-1h0m3 0h0m4 2h0m3 3h0m4-1h0m3 3h0m3 2h0m4-1h0m3 0h0m4 0h0m3 0h0m4-1h0m3 3h0m4 1h0m3 1h0m4 3h0m3-3h0m4 1h0m3 0h0m4-2h0m3 4h0m3 2h0m4-1h0m3 1h0m4 2h0m3-1h0m4 1h0m3 0h0m4-3h0m3 2h0m4 0h0m3 0h0m4 0h0m3 0h0m4 5h0m3 0h0m3-2h0m4 3h0m3-2h0m4 0h0m3 2h0m4-1h0m3 1h0m4 1h0m3-3h0m4-1h0m3 1h0m4 2h0m3-1h0m4 2h0m3 0h0m3 0h0m4 1h0m3 3h0m4-1h0m3-2h0m4 4h0m3-3h0m4 2h0m3-2h0m4 1h0m3 0h0m4-1h0m3 1h0m4-1h0m3-2h0m3 2h0m4-1h0m3 1h0m4-4h0m3 0h0m4 1h0m3 0h0m4 2h0m3 1h0m4 0h0m3-4h0m4 3h0m3-2h0m4 6h0m3-5h0m3 0h0m4 1h0m3 1h0m4 0h0m3 1h0m4-3h0m3 4h0m4-2h0m3-3h0m4 1h0m3-2h0m4-1h0m3 1h0m4-4h0m3 1h0m3-2h0m4-2h0m3 4h0m4-3h0m3 1h0m4-4h0m3 5h0m4-2h0m3 2h0m4-3h0m3 1h0m4-3h0m3 2h0m4-1h0m3 1h0m3 0h0m4-3h0m3 1h0m4-2h0m3 0h0m4 2h0m3-4h0m4-2h0m3-1h0m4-3h0m3 1h0m4-2h0m3-2h0m4 0h0m3 1h0m3-1h0m4 0h0m3 1h0m4-1h0m3-1h0m4-1h0m3 1h0m4 0h0m3 5h0m4 0h0m3 0h0m4-1h0m3 1h0m4 0h0m3-1h0m3 1h0m4-1h0m3 0h0m4-1h0m3 2h0m4-4h0m3 3h0m4-1h0m3-2h0m4 5h0m3 0h0m4-3h0m3-2h0m4 2h0m3-1h0m3-2h0m4 2h0m3 1h0m4-1h0m3 2h0m4-1h0m3-4h0m4 2h0m3-2h0m4 1h0m3 0h0m4 2h0m3-1h0m4-2h0m3 1h0m3 0h0m4 1h0m3-3h0m4 2h0m3 1h0m4 0h0m3-1h0m4 2h0m3 0h0m4 0h0m3 2h0m4 2h0m3 2h0m4-2h0m3-2h0m3 4h0m4-3h0m3 0h0m4 4h0m3-2h0m4 0h0m3 1h0m4-3h0m3 1h0m4-1h0m3 4h0m4 0h0m3-3h0m4 2h0m3 1h0m3-3h0m4 0h0m3 2h0m4-2h0m3-1h0m4 2h0m3 0h0m4 0h0m3 1h0m4-2h0m3 4h0m4 0h0m3 1h0m4 0h0m3-2h0m3-1h0m4 2h0m3 1h0m4-1h0m3 2h0m4 2h0m3 2h0m4 0h0m3-1h0m4 3h0m3-3h0m4 3h0m3-1h0m4-1h0m3 1h0m3 1h0m4 1h0m3-1h0m4 1h0m3 0h0m4 2h0m3-1h0m4 2h0m3 1h0m4 0h0m3 2h0m4-2h0m3-2h0m4 0h0m3 1h0m3 1h0m4 0h0m3 1h0m4 1h0m3 1h0m4 1h0m3-1h0m4 3h0m3 0h0m4 1h0m3-2h0m4 2h0m3 0h0m4-1h0m3 0h0m3 4h0m4-2h0m3 2h0m4-1h0m3 3h0m4 0h0m3-2h0m4 2h0m3 0h0m4 0h0m3 3h0m4 1h0m3 0h0m4-2h0m3 3h0m3-1h0m4 1h0m3-2h0m4 1h0m3 1h0m4 2h0m3-1h0m4 6h0m3 0h0m4-3h0m3 3h0m4-2h0m3-1h0m4 3h0m3 1h0m3 1h0m4 2h0m3-1h0m4-1h0m3 0h0m4 3h0m3 1h0m4-4h0m3 0h0m4 3h0m3 1h0m4 2h0m3-2h0m4 7h0m3-1h0m3 0h0m4 1h0m3-1h0m4 3h0m3-2h0m4 2h0m3 5h0m4 0h0m3-2h0m4 3h0m3 0h0m4 2h0m3 3h0m4 0h0m3 1h0m3 1h0m4-1h0m3 2h0m4-2h0m3 3h0m4 1h0m3 1h0m4 0h0m3 3h0m4 3h0m3 3h0m4 2h0m3 1h0m4 4h0m3-1h0m3 4h0m4 3h0m3 5h0m4 3h0m3-1h0m4 5h0m3 2h0m4 1h0m3 3h0m4 2h0m3-5h0m4-4h0m3 1h0m4-1h0m3-5h0m3 2h0m4 1h0m3 5h0m4 6h0m3-3h0m4 4h0m3-4h0" fill="none" stroke="#00f" stroke-width="3.24" stroke-linecap="round"/>
<path d="M69.5 513.5h0m3 1h0m4-2h0m3 0h0m3 2h0m4 2h0m3 0h0m4 4h0m3 1h0m4-1h0m3 1h0m4-1h0m3-2h0m4 3h0m3 0h0m4 2h0m3 2h0m4 0h0m3-1h0m3 0h0m4 1h0m3 2h0m4 0h0m3 0h0m4 1h0m3 2h0m4 0h0m3-1h0m4 1h0m3 1h0m4-3h0m3 1h0m4-1h0m3 3h0m3 0h0m4 0h0m3 2h0m4 2h0m3-1h0m4 2h0m3-2h0m4 2h0m3 2h0m4-2h0m3 2h0m4-2h0m3-4h0m4 4h0m3 0h0m3-2h0m4 2h0m3 3h0m4-1h0m3-3h0m4 3h0m3 3h0m4-2h0m3-1h0m4 5h0m3-2h0m4-2h0m3 0h0m4 0h0m3 1h0m3-1h0m4 4h0m3-4h0m4 0h0m3-1h0m4 1h0m3-1h0m4-3h0m3-1h0m4 3h0m3 0h0m4 2h0m3 1h0m4-2h0m3-3h0m3 5h0m4-2h0m3 2h0m4-3h0m3 2h0m4-3h0m3 3h0m4 0h0m3 0h0m4 0h0m3 0h0m4 0h0m3-1h0m4-1h0m3-4h0m3 2h0m4-3h0m3-1h0m4 0h0m3-3h0m4-1h0m3 3h0m4 2h0m3-2h0m4-1h0m3-1h0m4 2h0m3 1h0m4-3h0m3 1h0m3 0h0m4-2h0m3 0h0m4 0h0m3 0h0m4-1h0m3 1h0m4-4h0m3 0h0m4 1h0m3-3h0m4-1h0m3-1h0m4-1h0m3-2h0m3-1h0m4 0h0m3-2h0m4 2h0m3-2h0m4 3h0m3-1h0m4-4h0m3 0h0m4 2h0m3-3h0m4 4h0m3 1h0m4 2h0m3-1h0m3 0h0m4 0h0m3-1h0m4 0h0m3 1h0m4 0h0m3 1h0m4-4h0m3-2h0m4 3h0m3 1h0m4 0h0m3 0h0m4 3h0m3-4h0m3 2h0m4-1h0m3-2h0m4 1h0m3-1h0m4 1h0m3-1h0m4 1h0m3-1h0m4 1h0m3-3h0m4 2h0m3-3h0m4 1h0m3 0h0m3 1h0m4-1h0m3 0h0m4 1h0m3 1h0m4 0h0m3-3h0m4 1h0m3 3h0m4-1h0m3 0h0m4 2h0m3 0h0m4 3h0m3 0h0m3-1h0m4 2h0m3-3h0m4 1h0m3 3h0m4-1h0m3-3h0m4 4h0m3 0h0m4-2h0m3 0h0m4 1h0m3 0h0m4 0h0m3-2h0m3 0h0m4 3h0m3 0h0m4 1h0m3-3h0m4 0h0m3 3h0m4-3h0m3 0h0m4 2h0m3-3h0m4 5h0m3 0h0m4-1h0m3 2h0m3-2h0m4 2h0m3 0h0m4-3h0m3 1h0m4 1h0m3-1h0m4 3h0m3 0h0m4 2h0m3 3h0m4 1h0m3-1h0m4-1h0m3-1h0m3 1h0m4 1h0m3 0h0m4 0h0m3 2h0m4-2h0m3 2h0m4 1h0m3 1h0m4 0h0m3 0h0m4 2h0m3-1h0m4 2h0m3-2h0m3 1h0m4-1h0m3-2h0m4 3h0m3-2h0m4 3h0m3-1h0m4 2h0m3 0h0m4 3h0m3-1h0m4 1h0m3 1h0m4-1h0m3 1h0m3 0h0m4 0h0m3 3h0m4-3h0m3 3h0m4 0h0m3 1h0m4 0h0m3 2h0m4 1h0m3-1h0m4 2h0m3-1h0m4 2h0m3-1h0m3 1h0m4 1h0m3-2h0m4 2h0m3 2h0m4-1h0m3-4h0m4 2h0m3 2h0m4 0h0m3 2h0m4 4h0m3 1h0m4-2h0m3-2h0m3 3h0m4-1h0m3 0h0m4 4h0m3 1h0m4 1h0m3-1h0m4 0h0m3 2h0m4-1h0m3 1h0m4-1h0m3 0h0m4 3h0m3 0h0m3 0h0m4 1h0m3 3h0m4 1h0m3 0h0m4 2h0m3-1h0m4 0h0m3 1h0m4 2h0m3 5h0m4-2h0m3-2h0m4 4h0m3 0h0m3 4h0m4 3h0m3-4h0m4 3h0m3-1h0m4 2h0m3 0h0m4-1h0m3 3h0m4 3h0m3-1h0m4 0h0m3 2h0m4 7h0m3-1h0m3 3h0m4 2h0m3 1h0m4 3h0m3 3h0m4 5h0m3 3h0m4 3h0m3 0h0m4 5h0m3 0h0m4 2h0m3 3h0m4 1h0m3-6h0m3-4h0m4 3h0m3-2h0m4-6h0m3 3h0m4 4h0m3 2h0m4 5h0m3-1h0m4 3h0m3-3h0" fill="none" stroke="#00f" stroke-width="3.24" stroke-linecap="round"/>
</g>
<path d="M66.5 641.5v5M222.5 641.5v5M378.5 641.5v5M534.5 641.5v5M690.5 641.5v5M846.5 641.5v5M1002.5 641.5v5M1158.5 641.5v5M1314.5 641.5v5M66.5 508.5h-5M66.5 543.5h-5M66.5 579.5h-5M66.5 614.5h-5" stroke="#000" stroke-width="1.11" fill="none"/>
<rect x="66.5" y="504.5" width="1248" height="137" fill="none" stroke="#000" stroke-width="1.11"/>
</g>
<g id="labels" style="will-change:transform">
<text x="34.25" y="168" textLength="62.64" lengthAdjust="spacingAndGlyphs">00:00 UT</text>
<text x="190.25" y="168" textLength="62.64" lengthAdjust="spacingAndGlyphs">03:00 UT</text>
<text x="346.25" y="168" textLength="62.76" lengthAdjust="spacingAndGlyphs">06:00 UT</text>
<text x="502.25" y="168" textLength="62.76" lengthAdjust="spacingAndGlyphs">09:00 UT</text>
<text x="658.53" y="168" textLength="62.48" lengthAdjust="spacingAndGlyphs">12:00 UT</text>
<text x="814.53" y="168" textLength="62.48" lengthAdjust="spacingAndGlyphs">15:00 UT</text>
<text x="970.53" y="168" textLength="62.62" lengthAdjust="spacingAndGlyphs">18:00 UT</text>
<text x="1126.24" y="168" textLength="62.78" lengthAdjust="spacingAndGlyphs">21:00 UT</text>
<text x="1282.25" y="168" textLength="62.64" lengthAdjust="spacingAndGlyphs">00:00 UT</text>
<text x="34.25" y="333" textLength="62.64" lengthAdjust="spacingAndGlyphs">00:00 UT</text>
<text x="190.25" y="333" textLength="62.64" lengthAdjust="spacingAndGlyphs">03:00 UT</text>
<text x="346.25" y="333" textLength="62.76" lengthAdjust="spacingAndGlyphs">06:00 UT</text>
<text x="502.25" y="333" textLength="62.76" lengthAdjust="spacingAndGlyphs">09:00 UT</text>
<text x="658.53" y="333" textLength="62.48" lengthAdjust="spacingAndGlyphs">12:00 UT</text>
<text x="814.53" y="333" textLength="62.48" lengthAdjust="spacingAndGlyphs">15:00 UT</text>
<text x="970.53" y="333" textLength="62.62" lengthAdjust="spacingAndGlyphs">18:00 UT</text>
<text x="1126.24" y="333" textLength="62.78" lengthAdjust="spacingAndGlyphs">21:00 UT</text>
<text x="1282.25" y="333" textLength="62.64" lengthAdjust="spacingAndGlyphs">00:00 UT</text>
<text x="34.25" y="498" textLength="62.64" lengthAdjust="spacingAndGlyphs">00:00 UT</text>
<text x="190.25" y="498" textLength="62.64" lengthAdjust="spacingAndGlyphs">03:00 UT</text>
<text x="346.25" y="498" textLength="62.76" lengthAdjust="spacingAndGlyphs">06:00 UT</text>
<text x="502.25" y="498" textLength="62.76" lengthAdjust="spacingAndGlyphs">09:00 UT</text>
<text x="658.53" y="498" textLength="62.48" lengthAdjust="spacingAndGlyphs">12:00 UT</text>
<text x="814.53" y="498" textLength="62.48" lengthAdjust="spacingAndGlyphs">15:00 UT</text>
<text x="970.53" y="498" textLength="62.62" lengthAdjust="spacingAndGlyphs">18:00 UT</text>
<text x="1126.24" y="498" textLength="62.78" lengthAdjust="spacingAndGlyphs">21:00 UT</text>
<text x="1282.25" y="498" textLength="62.64" lengthAdjust="spacingAndGlyphs">00:00 UT</text>
<text x="34.25" y="662" textLength="62.64" lengthAdjust="spacingAndGlyphs">00:00 UT</text>
<text x="190.25" y="662" textLength="62.64" lengthAdjust="spacingAndGlyphs">03:00 UT</text>
<text x="346.25" y="662" textLength="62.76" lengthAdjust="spacingAndGlyphs">06:00 UT</text>
<text x="502.25" y="662" textLength="62.76" lengthAdjust="spacingAndGlyphs">09:00 UT</text>
<text x="658.53" y="662" textLength="62.48" lengthAdjust="spacingAndGlyphs">12:00 UT</text>
<text x="814.53" y="662" textLength="62.48" lengthAdjust="spacingAndGlyphs">15:00 UT</text>
<text x="970.53" y="662" textLength="62.62" lengthAdjust="spacingAndGlyphs">18:00 UT</text>
<text x="1126.24" y="662" textLength="62.78" lengthAdjust="spacingAndGlyphs">21:00 UT</text>
<text x="1282.25" y="662" textLength="62.64" lengthAdjust="spacingAndGlyphs">00:00 UT</text>
<text x="41.1" y="678" textLength="47.63" lengthAdjust="spacingAndGlyphs">Mar 12</text>
<text x="197.1" y="678" textLength="47.63" lengthAdjust="spacingAndGlyphs">Mar 12</text>
<text x="353.1" y="678" textLength="47.63" lengthAdjust="spacingAndGlyphs">Mar 12</text>
<text x="509.1" y="678" textLength="47.63" lengthAdjust="spacingAndGlyphs">Mar 12</text>
<text x="665.1" y="678" textLength="47.63" lengthAdjust="spacingAndGlyphs">Mar 12</text>
<text x="821.1" y="678" textLength="47.63" lengthAdjust="spacingAndGlyphs">Mar 12</text>
<text x="977.1" y="678" textLength="47.63" lengthAdjust="spacingAndGlyphs">Mar 12</text>
<text x="1133.1" y="678" textLength="47.63" lengthAdjust="spacingAndGlyphs">Mar 12</text>
<text x="1289.09" y="678" textLength="47.88" lengthAdjust="spacingAndGlyphs">Mar 13</text>
<text x="48.22" y="695" textLength="34.81" lengthAdjust="spacingAndGlyphs">2026</text>
<text x="204.22" y="695" textLength="34.81" lengthAdjust="spacingAndGlyphs">2026</text>
<text x="360.22" y="695" textLength="34.81" lengthAdjust="spacingAndGlyphs">2026</text>
<text x="516.22" y="695" textLength="34.81" lengthAdjust="spacingAndGlyphs">2026</text>
<text x="672.22" y="695" textLength="34.81" lengthAdjust="spacingAndGlyphs">2026</text>
<text x="828.22" y="695" textLength="34.81" lengthAdjust="spacingAndGlyphs">2026</text>
<text x="984.22" y="695" textLength="34.81" lengthAdjust="spacingAndGlyphs">2026</text>
<text x="1140.22" y="695" textLength="34.81" lengthAdjust="spacingAndGlyphs">2026</text>
<text x="1296.22" y="695" textLength="34.81" lengthAdjust="spacingAndGlyphs">2026</text>
<text x="39.34" y="53" textLength="15.81" lengthAdjust="spacingAndGlyphs">44</text>
<text x="39.35" y="110" textLength="15.46" lengthAdjust="spacingAndGlyphs">42</text>
<text x="39.68" y="204" textLength="15.44" lengthAdjust="spacingAndGlyphs">30</text>
<text x="38.23" y="261" textLength="17.1" lengthAdjust="spacingAndGlyphs">28</text>
<text x="39.61" y="386" textLength="15.81" lengthAdjust="spacingAndGlyphs">16</text>
<text x="39.62" y="445" textLength="15.66" lengthAdjust="spacingAndGlyphs">14</text>
<text x="30.16" y="514" textLength="24.95" lengthAdjust="spacingAndGlyphs">984</text>
<text x="30.17" y="549" textLength="24.62" lengthAdjust="spacingAndGlyphs">982</text>
<text x="30.16" y="585" textLength="24.93" lengthAdjust="spacingAndGlyphs">980</text>
<text x="30.16" y="620" textLength="24.97" lengthAdjust="spacingAndGlyphs">978</text>
</g>
<g id="ylabels" style="will-change:transform">
<g transform="translate(28.62 125.98) rotate(-90)">
<text x=".03" y="0" textLength="70.53" lengthAdjust="spacingAndGlyphs">CPU/GPU (</text>
<text x="72.58" y="-1.91" style="font-size:12px">°</text>
<text x="78.41" y="0" textLength="14.55" lengthAdjust="spacingAndGlyphs">C)</text>
</g>
<g transform="translate(26.86 304.96) rotate(-90)">
<text x="-.41" y="0" textLength="98.91" lengthAdjust="spacingAndGlyphs">Temperature (</text>
<text x="100.57" y="-1.91" style="font-size:12px">°</text>
<text x="106.4" y="0" textLength="14.54" lengthAdjust="spacingAndGlyphs">C)</text>
</g>
<g transform="translate(29.11 454.98) rotate(-90)">
<text x=".04" y="0" textLength="91.14" lengthAdjust="spacingAndGlyphs">Humidity (%)</text>
</g>
<g transform="translate(19.53 623.96) rotate(-90)">
<text x=".12" y="0" textLength="99.12" lengthAdjust="spacingAndGlyphs">Pressure (hPa)</text>
</g>
</g>
<g id="legends" style="will-change:transform">
<rect x="1230.5" y="16.5" width="77" height="46" rx="2.78" ry="2.78" fill="#fff" fill-opacity=".8" stroke="#ccc" stroke-opacity=".8" stroke-width="1.389"/>
<path d="M1236 28.5H1264" stroke="#f00" stroke-width=".556" fill="none"/>
<circle cx="1250.5" cy="28.5" r="1.62" fill="#f00"/>
<text x="1275.1" y="33" textLength="24.04" lengthAdjust="spacingAndGlyphs">cpu</text>
<path d="M1236 49.5H1264" stroke="#008000" stroke-width=".556" fill="none"/>
<circle cx="1250.5" cy="49.5" r="1.62" fill="#008000"/>
<text x="1275.11" y="54" textLength="24.85" lengthAdjust="spacingAndGlyphs">gpu</text>
<rect x="1238.5" y="181.5" width="69" height="25" rx="2.78" ry="2.78" fill="#fff" fill-opacity=".8" stroke="#ccc" stroke-opacity=".8" stroke-width="1.389"/>
<path d="M1244 193.5H1272.5" stroke="#00f" stroke-width=".556" fill="none"/>
<circle cx="1258.5" cy="193.5" r="1.62" fill="#00f"/>
<text x="1284.22" y="198" textLength="17.28" lengthAdjust="spacingAndGlyphs">air</text>
<rect x="1238.5" y="346.5" width="69" height="25" rx="2.78" ry="2.78" fill="#fff" fill-opacity=".8" stroke="#ccc" stroke-opacity=".8" stroke-width="1.389"/>
<path d="M1244 358.5H1272.5" stroke="#00f" stroke-width=".556" fill="none"/>
<circle cx="1258.5" cy="358.5" r="1.62" fill="#00f"/>
<text x="1284.22" y="363" textLength="17.28" lengthAdjust="spacingAndGlyphs">air</text>
<rect x="1238.5" y="511.5" width="69" height="25" rx="2.78" ry="2.78" fill="#fff" fill-opacity=".8" stroke="#ccc" stroke-opacity=".8" stroke-width="1.389"/>
<path d="M1244 522.5H1272.5" stroke="#00f" stroke-width=".556" fill="none"/>
<circle cx="1258.5" cy="522.5" r="1.62" fill="#00f"/>
<text x="1284.22" y="528" textLength="17.28" lengthAdjust="spacingAndGlyphs">air</text>
</g>
</svg></body></html>
